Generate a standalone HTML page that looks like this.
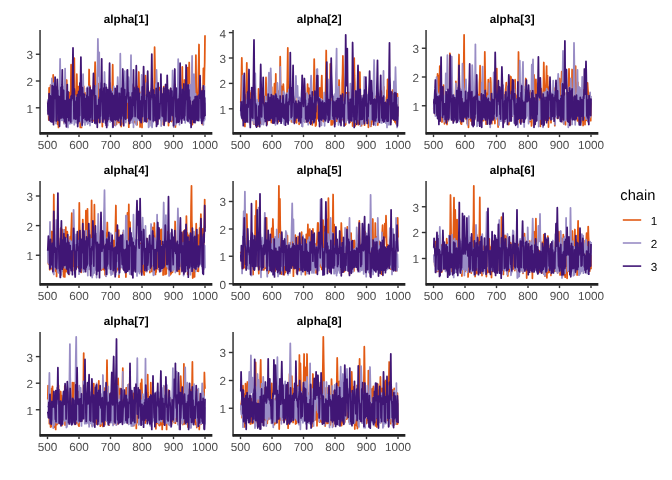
<!DOCTYPE html>
<html><head><meta charset="utf-8"><title>trace</title>
<style>
html,body{margin:0;padding:0;background:#fff;}
body{width:672px;height:480px;overflow:hidden;font-family:"Liberation Sans",sans-serif;}
svg{display:block;will-change:transform;font-family:"Liberation Sans",sans-serif;text-rendering:geometricPrecision;}
.a{font-size:11.73px;fill:#4D4D4D;}
.s{font-size:11.73px;font-weight:bold;fill:#000;}
.lt{font-size:14.67px;fill:#000;}
.ll{font-size:11.73px;fill:#000;}
</style></head><body>
<svg width="672" height="480" viewBox="0 0 672 480">
<rect width="672" height="480" fill="#fff"/>
<polyline points="47.8,101.2 48.1,111.6 48.4,102.9 48.8,119.9 49.1,87.9 49.4,117.5 49.7,90.2 50.0,98.3 50.3,93.0 50.6,85.1 51.0,93.1 51.3,100.6 51.6,94.4 51.9,118.3 52.2,95.2 52.5,93.0 52.9,86.9 53.2,74.9 53.5,89.7 53.8,100.6 54.1,83.3 54.4,113.2 54.7,98.7 55.1,120.6 55.4,87.1 55.7,116.6 56.0,92.9 56.3,119.8 56.6,98.8 57.0,122.9 57.3,94.5 57.6,124.3 57.9,100.5 58.2,117.7 58.5,127.4 58.8,116.3 59.2,103.3 59.5,118.8 59.8,118.6 60.1,101.2 60.4,87.7 60.7,99.6 61.0,96.8 61.4,116.0 61.7,93.7 62.0,120.0 62.3,103.0 62.6,94.5 62.9,95.3 63.2,118.3 63.6,95.2 63.9,122.7 64.2,95.8 64.5,95.8 64.8,95.5 65.1,122.2 65.5,92.4 65.8,106.6 66.1,99.8 66.4,97.7 66.7,80.0 67.0,97.2 67.3,97.5 67.7,103.3 68.0,97.9 68.3,121.7 68.6,100.1 68.9,98.7 69.2,92.5 69.5,116.7 69.9,99.3 70.2,105.7 70.5,96.3 70.8,87.6 71.1,64.7 71.4,84.3 71.8,93.6 72.1,102.5 72.4,95.6 72.7,117.0 73.0,90.7 73.3,99.7 73.6,99.7 74.0,84.8 74.3,58.1 74.6,88.0 74.9,95.2 75.2,118.1 75.5,91.2 75.8,103.0 76.2,99.6 76.5,94.8 76.8,74.2 77.1,87.7 77.4,97.9 77.7,96.7 78.1,87.1 78.4,103.1 78.7,99.4 79.0,86.5 79.3,93.3 79.6,97.7 79.9,103.5 80.3,127.4 80.6,99.5 80.9,121.0 81.2,92.0 81.5,127.4 81.8,85.8 82.2,116.4 82.5,84.5 82.8,116.8 83.1,93.7 83.4,116.9 83.7,86.3 84.0,116.1 84.4,100.5 84.7,115.4 85.0,93.2 85.3,117.4 85.6,94.8 85.9,118.1 86.2,93.0 86.6,115.7 86.9,100.0 87.2,119.9 87.5,99.9 87.8,117.2 88.1,104.7 88.5,98.5 88.8,91.7 89.1,69.5 89.4,85.0 89.7,98.1 90.0,85.8 90.3,120.1 90.7,115.3 91.0,115.5 91.3,99.5 91.6,120.2 91.9,94.7 92.2,119.9 92.5,102.8 92.9,120.9 93.2,101.7 93.5,119.7 93.8,85.8 94.1,119.3 94.4,88.8 94.8,76.2 95.1,62.2 95.4,75.1 95.7,87.8 96.0,100.8 96.3,95.7 96.6,120.1 97.0,95.9 97.3,113.0 97.6,87.5 97.9,115.8 98.2,83.5 98.5,117.3 98.8,99.8 99.2,122.1 99.5,91.5 99.8,118.4 100.1,103.2 100.4,116.1 100.7,103.1 101.0,116.2 101.4,89.8 101.7,113.2 102.0,100.5 102.3,126.6 102.6,96.6 102.9,115.5 103.3,92.9 103.6,120.3 103.9,98.7 104.2,115.1 104.5,89.0 104.8,115.5 105.1,89.4 105.5,118.9 105.8,102.4 106.1,118.8 106.4,103.1 106.7,116.7 107.0,92.4 107.3,118.3 107.7,99.3 108.0,117.2 108.3,98.0 108.6,119.5 108.9,94.8 109.2,118.1 109.6,101.3 109.9,117.1 110.2,101.8 110.5,116.6 110.8,100.3 111.1,119.0 111.4,92.9 111.8,102.3 112.1,91.7 112.4,82.0 112.7,64.7 113.0,88.0 113.3,95.7 113.7,122.0 114.0,93.6 114.3,125.0 114.6,101.8 114.9,117.5 115.2,92.6 115.5,118.9 115.9,101.2 116.2,114.9 116.5,124.3 116.8,121.4 117.1,90.3 117.4,116.8 117.7,95.3 118.1,118.8 118.4,99.5 118.7,122.5 119.0,94.0 119.3,119.9 119.6,90.8 120.0,122.5 120.3,98.5 120.6,118.0 120.9,97.9 121.2,126.5 121.5,96.2 121.8,124.1 122.2,107.3 122.5,121.7 122.8,101.8 123.1,117.1 123.4,117.4 123.7,116.7 124.0,90.0 124.4,84.2 124.7,97.7 125.0,116.0 125.3,94.1 125.6,117.8 125.9,102.0 126.2,116.0 126.6,91.9 126.9,118.1 127.2,100.3 127.5,100.7 127.8,117.5 128.1,116.5 128.5,89.9 128.8,127.2 129.1,85.7 129.4,118.9 129.7,101.3 130.0,117.2 130.3,90.9 130.7,115.6 131.0,119.4 131.3,118.1 131.6,94.2 131.9,119.7 132.2,99.7 132.6,97.5 132.9,85.8 133.2,96.0 133.5,97.5 133.8,121.6 134.1,87.3 134.4,115.9 134.8,103.7 135.1,122.8 135.4,97.8 135.7,118.3 136.0,94.8 136.3,120.5 136.6,101.8 137.0,124.8 137.3,86.7 137.6,118.1 137.9,99.3 138.2,92.8 138.5,86.8 138.8,72.0 139.2,90.7 139.5,99.8 139.8,98.3 140.1,127.0 140.4,92.4 140.7,121.0 141.1,101.4 141.4,122.0 141.7,95.5 142.0,127.4 142.3,89.8 142.6,119.5 142.9,100.1 143.3,117.2 143.6,94.0 143.9,120.3 144.2,94.2 144.5,120.5 144.8,94.6 145.2,84.0 145.5,75.6 145.8,83.7 146.1,89.1 146.4,105.1 146.7,89.6 147.0,120.2 147.4,98.0 147.7,121.1 148.0,101.9 148.3,121.6 148.6,97.9 148.9,115.9 149.2,93.6 149.6,120.0 149.9,102.3 150.2,117.4 150.5,90.8 150.8,116.4 151.1,102.5 151.4,123.4 151.8,95.2 152.1,115.9 152.4,92.3 152.7,113.5 153.0,115.2 153.3,116.7 153.7,101.8 154.0,99.0 154.3,84.5 154.6,47.2 154.9,64.2 155.2,84.7 155.5,86.9 155.9,117.0 156.2,98.6 156.5,122.4 156.8,98.1 157.1,122.0 157.4,97.0 157.8,121.2 158.1,102.3 158.4,115.6 158.7,96.5 159.0,116.7 159.3,87.6 159.6,118.3 160.0,96.5 160.3,116.8 160.6,102.1 160.9,120.4 161.2,88.1 161.5,116.5 161.8,103.1 162.2,115.7 162.5,100.6 162.8,118.4 163.1,101.3 163.4,124.5 163.7,86.7 164.1,94.6 164.4,103.5 164.7,116.9 165.0,92.0 165.3,115.7 165.6,86.2 165.9,115.6 166.3,99.5 166.6,118.5 166.9,86.9 167.2,121.2 167.5,90.9 167.8,119.3 168.1,99.9 168.5,125.6 168.8,95.4 169.1,111.9 169.4,102.7 169.7,117.8 170.0,117.1 170.3,117.9 170.7,88.5 171.0,118.7 171.3,99.1 171.6,121.5 171.9,92.9 172.2,120.1 172.6,88.3 172.9,118.3 173.2,101.1 173.5,119.0 173.8,103.5 174.1,124.5 174.4,97.3 174.8,95.4 175.1,84.3 175.4,127.0 175.7,99.9 176.0,121.5 176.3,99.1 176.7,102.4 177.0,102.7 177.3,121.6 177.6,102.1 177.9,118.2 178.2,97.7 178.5,115.6 178.9,86.1 179.2,117.0 179.5,117.0 179.8,97.7 180.1,95.9 180.4,118.2 180.7,94.8 181.1,100.7 181.4,95.2 181.7,96.2 182.0,91.3 182.3,66.9 182.6,91.5 182.9,97.1 183.3,96.7 183.6,105.9 183.9,98.8 184.2,94.7 184.5,80.0 184.8,94.9 185.2,98.4 185.5,119.5 185.8,103.4 186.1,117.8 186.4,102.1 186.7,101.2 187.0,95.5 187.4,84.7 187.7,67.6 188.0,78.9 188.3,89.7 188.6,96.0 188.9,76.2 189.2,62.5 189.6,86.6 189.9,94.4 190.2,94.0 190.5,119.3 190.8,98.8 191.1,119.2 191.5,98.8 191.8,118.5 192.1,95.3 192.4,124.6 192.7,91.0 193.0,117.0 193.3,121.4 193.7,117.3 194.0,96.7 194.3,119.2 194.6,101.5 194.9,100.4 195.2,90.4 195.6,84.9 195.9,55.2 196.2,86.8 196.5,93.9 196.8,103.9 197.1,103.6 197.4,116.2 197.8,102.5 198.1,101.8 198.4,75.4 198.7,61.7 199.0,44.5 199.3,82.0 199.6,94.9 200.0,115.8 200.3,87.5 200.6,99.4 200.9,90.3 201.2,117.1 201.5,97.4 201.8,116.6 202.2,91.6 202.5,124.4 202.8,87.6 203.1,88.7 203.4,68.3 203.7,90.7 204.1,98.3 204.4,73.1 204.7,62.5 205.0,35.2" fill="none" stroke="#E25A14" stroke-width="1.75" stroke-linejoin="round"/>
<polyline points="47.8,111.0 48.1,99.6 48.4,114.8 48.8,101.5 49.1,102.4 49.4,102.6 49.7,117.3 50.0,111.9 50.3,119.2 50.6,99.7 51.0,92.7 51.3,84.4 51.6,92.9 51.9,78.5 52.2,95.5 52.5,100.9 52.9,106.8 53.2,102.2 53.5,119.2 53.8,83.1 54.1,120.5 54.4,100.2 54.7,118.6 55.1,90.0 55.4,116.8 55.7,93.6 56.0,123.6 56.3,96.5 56.6,116.0 57.0,107.8 57.3,115.9 57.6,103.3 57.9,101.2 58.2,90.7 58.5,118.9 58.8,118.1 59.2,101.1 59.5,91.7 59.8,77.1 60.1,58.8 60.4,77.5 60.7,93.0 61.0,116.7 61.4,101.2 61.7,120.3 62.0,108.9 62.3,120.3 62.6,86.4 62.9,118.7 63.2,92.1 63.6,120.6 63.9,103.6 64.2,123.7 64.5,91.0 64.8,90.9 65.1,68.6 65.5,89.4 65.8,96.0 66.1,104.5 66.4,99.3 66.7,117.2 67.0,90.9 67.3,103.3 67.7,99.4 68.0,127.4 68.3,100.8 68.6,119.7 68.9,101.4 69.2,122.2 69.5,109.4 69.9,123.8 70.2,106.4 70.5,123.1 70.8,98.4 71.1,122.6 71.4,102.1 71.8,123.3 72.1,99.3 72.4,121.0 72.7,94.2 73.0,115.6 73.3,91.6 73.6,97.4 74.0,99.5 74.3,124.7 74.6,96.6 74.9,121.8 75.2,96.1 75.5,117.4 75.8,103.5 76.2,122.8 76.5,100.3 76.8,119.3 77.1,101.9 77.4,118.6 77.7,100.9 78.1,123.1 78.4,117.6 78.7,121.6 79.0,102.4 79.3,117.8 79.6,97.4 79.9,120.3 80.3,101.8 80.6,118.9 80.9,87.4 81.2,122.4 81.5,100.7 81.8,126.0 82.2,116.2 82.5,98.4 82.8,87.6 83.1,74.2 83.4,87.9 83.7,97.7 84.0,122.5 84.4,119.0 84.7,99.2 85.0,124.9 85.3,96.7 85.6,121.9 85.9,98.7 86.2,116.6 86.6,88.5 86.9,121.6 87.2,87.4 87.5,124.1 87.8,91.8 88.1,91.2 88.5,86.4 88.8,122.9 89.1,96.0 89.4,121.5 89.7,92.8 90.0,125.5 90.3,98.6 90.7,120.1 91.0,98.1 91.3,117.9 91.6,91.5 91.9,116.0 92.2,108.0 92.5,119.3 92.9,100.5 93.2,118.3 93.5,101.9 93.8,118.8 94.1,96.6 94.4,118.8 94.8,95.5 95.1,102.2 95.4,88.1 95.7,123.8 96.0,100.3 96.3,85.6 96.6,102.9 97.0,121.2 97.3,78.9 97.6,63.8 97.9,38.9 98.2,58.4 98.5,71.7 98.8,76.0 99.2,52.3 99.5,84.5 99.8,97.9 100.1,121.6 100.4,83.3 100.7,119.8 101.0,87.1 101.4,116.4 101.7,98.7 102.0,117.1 102.3,95.7 102.6,121.9 102.9,96.4 103.3,119.0 103.6,100.5 103.9,92.5 104.2,86.2 104.5,72.0 104.8,82.0 105.1,95.6 105.5,90.9 105.8,115.6 106.1,84.6 106.4,118.4 106.7,88.6 107.0,100.9 107.3,90.7 107.7,125.5 108.0,101.1 108.3,118.6 108.6,99.3 108.9,116.5 109.2,94.7 109.6,118.1 109.9,82.9 110.2,122.0 110.5,100.6 110.8,118.0 111.1,89.1 111.4,116.6 111.8,118.9 112.1,114.5 112.4,99.2 112.7,127.4 113.0,91.6 113.3,122.7 113.7,86.3 114.0,116.9 114.3,98.6 114.6,116.2 114.9,98.3 115.2,118.6 115.5,125.6 115.9,115.8 116.2,97.7 116.5,116.9 116.8,103.7 117.1,92.3 117.4,87.2 117.7,77.1 118.1,85.9 118.4,97.9 118.7,94.8 119.0,120.8 119.3,101.8 119.6,98.2 120.0,83.5 120.3,53.7 120.6,77.8 120.9,91.7 121.2,96.1 121.5,115.5 121.8,98.8 122.2,110.1 122.5,92.7 122.8,122.0 123.1,102.3 123.4,118.8 123.7,101.8 124.0,98.6 124.4,81.4 124.7,71.2 125.0,93.2 125.3,96.4 125.6,119.9 125.9,122.7 126.2,94.2 126.6,84.9 126.9,70.5 127.2,86.0 127.5,93.9 127.8,102.0 128.1,95.3 128.5,77.1 128.8,86.7 129.1,97.2 129.4,97.8 129.7,121.6 130.0,96.4 130.3,82.6 130.7,75.2 131.0,55.2 131.3,85.8 131.6,90.4 131.9,97.7 132.2,122.7 132.6,98.6 132.9,120.7 133.2,84.2 133.5,127.3 133.8,102.9 134.1,117.1 134.4,95.9 134.8,119.9 135.1,102.3 135.4,92.7 135.7,97.3 136.0,123.9 136.3,124.7 136.6,121.3 137.0,119.8 137.3,120.2 137.6,88.4 137.9,119.3 138.2,90.3 138.5,115.9 138.8,93.9 139.2,116.3 139.5,99.6 139.8,117.2 140.1,104.3 140.4,117.6 140.7,94.1 141.1,99.5 141.4,85.9 141.7,74.9 142.0,93.8 142.3,99.6 142.6,97.7 142.9,116.0 143.3,91.3 143.6,121.9 143.9,102.3 144.2,116.8 144.5,120.8 144.8,96.6 145.2,97.8 145.5,117.5 145.8,101.6 146.1,117.1 146.4,83.1 146.7,115.5 147.0,99.2 147.4,117.2 147.7,91.3 148.0,116.5 148.3,95.4 148.6,127.3 148.9,126.7 149.2,120.1 149.6,98.1 149.9,115.6 150.2,101.7 150.5,119.2 150.8,94.3 151.1,125.8 151.4,88.6 151.8,116.4 152.1,127.4 152.4,123.4 152.7,92.4 153.0,122.3 153.3,93.9 153.7,116.9 154.0,120.4 154.3,116.7 154.6,102.9 154.9,117.8 155.2,97.4 155.5,101.8 155.9,84.0 156.2,93.6 156.5,69.8 156.8,79.8 157.1,87.8 157.4,124.6 157.8,104.2 158.1,93.1 158.4,90.7 158.7,116.8 159.0,91.4 159.3,118.1 159.6,104.6 160.0,116.1 160.3,101.6 160.6,120.0 160.9,93.5 161.2,126.0 161.5,102.3 161.8,121.6 162.2,112.5 162.5,117.5 162.8,96.4 163.1,118.9 163.4,101.6 163.7,117.5 164.1,103.2 164.4,123.4 164.7,90.7 165.0,121.4 165.3,86.7 165.6,117.3 165.9,100.6 166.3,118.7 166.6,96.4 166.9,116.9 167.2,119.9 167.5,121.3 167.8,97.1 168.1,119.1 168.5,94.6 168.8,119.4 169.1,103.8 169.4,117.2 169.7,92.6 170.0,115.6 170.3,102.1 170.7,117.2 171.0,99.6 171.3,119.8 171.6,102.2 171.9,96.5 172.2,91.7 172.6,70.5 172.9,83.1 173.2,93.7 173.5,94.5 173.8,127.1 174.1,121.7 174.4,119.4 174.8,101.4 175.1,121.0 175.4,107.5 175.7,124.7 176.0,102.9 176.3,120.9 176.7,93.3 177.0,121.0 177.3,101.1 177.6,96.2 177.9,85.9 178.2,59.1 178.5,85.6 178.9,99.0 179.2,88.0 179.5,124.7 179.8,95.6 180.1,120.0 180.4,103.6 180.7,116.5 181.1,86.7 181.4,117.9 181.7,102.7 182.0,116.2 182.3,109.4 182.6,117.2 182.9,102.4 183.3,89.9 183.6,96.9 183.9,117.7 184.2,92.3 184.5,118.9 184.8,95.7 185.2,122.8 185.5,95.4 185.8,119.8 186.1,93.2 186.4,118.7 186.7,98.1 187.0,120.4 187.4,91.2 187.7,92.7 188.0,101.5 188.3,121.7 188.6,96.9 188.9,120.4 189.2,102.3 189.6,120.7 189.9,84.6 190.2,123.0 190.5,101.2 190.8,120.7 191.1,98.4 191.5,90.0 191.8,73.7 192.1,55.9 192.4,85.6 192.7,94.8 193.0,103.2 193.3,96.9 193.7,91.0 194.0,74.2 194.3,83.3 194.6,90.7 194.9,96.9 195.2,122.8 195.6,93.9 195.9,102.7 196.2,96.9 196.5,118.7 196.8,103.6 197.1,120.7 197.4,102.7 197.8,100.7 198.1,101.9 198.4,120.6 198.7,95.5 199.0,119.3 199.3,97.5 199.6,119.7 200.0,120.8 200.3,119.1 200.6,100.9 200.9,118.1 201.2,99.3 201.5,120.1 201.8,93.6 202.2,121.4 202.5,97.6 202.8,119.6 203.1,109.2 203.4,124.8 203.7,85.6 204.1,120.7 204.4,86.4 204.7,119.7 205.0,102.7" fill="none" stroke="#998DC5" stroke-width="1.75" stroke-linejoin="round"/>
<polyline points="47.8,102.4 48.1,113.9 48.4,100.9 48.8,110.1 49.1,93.6 49.4,120.0 49.7,99.3 50.0,118.1 50.3,95.8 50.6,121.4 51.0,103.0 51.3,117.0 51.6,97.2 51.9,121.9 52.2,85.6 52.5,117.3 52.9,103.1 53.2,86.3 53.5,124.6 53.8,116.4 54.1,87.7 54.4,98.9 54.7,96.1 55.1,77.1 55.4,89.8 55.7,96.8 56.0,96.9 56.3,120.9 56.6,87.0 57.0,96.4 57.3,79.3 57.6,88.0 57.9,98.9 58.2,120.3 58.5,99.0 58.8,96.4 59.2,96.5 59.5,126.3 59.8,116.7 60.1,117.9 60.4,102.8 60.7,117.9 61.0,87.3 61.4,117.8 61.7,90.5 62.0,84.9 62.3,69.8 62.6,91.2 62.9,99.4 63.2,117.8 63.6,90.3 63.9,117.5 64.2,115.7 64.5,121.7 64.8,102.7 65.1,100.6 65.5,102.9 65.8,122.9 66.1,115.7 66.4,126.8 66.7,103.2 67.0,93.9 67.3,84.6 67.7,117.0 68.0,91.5 68.3,117.1 68.6,102.6 68.9,120.7 69.2,106.5 69.5,112.1 69.9,99.3 70.2,117.5 70.5,99.6 70.8,122.0 71.1,96.1 71.4,100.8 71.8,95.5 72.1,98.6 72.4,89.3 72.7,68.7 73.0,47.9 73.3,72.9 73.6,86.3 74.0,118.7 74.3,88.8 74.6,118.3 74.9,115.3 75.2,117.3 75.5,118.2 75.8,119.2 76.2,101.2 76.5,117.6 76.8,97.6 77.1,117.2 77.4,94.6 77.7,126.5 78.1,116.3 78.4,118.6 78.7,91.5 79.0,121.4 79.3,97.4 79.6,115.5 79.9,82.9 80.3,95.3 80.6,77.6 80.9,57.1 81.2,83.6 81.5,93.7 81.8,98.7 82.2,125.0 82.5,87.7 82.8,97.6 83.1,102.6 83.4,118.1 83.7,94.2 84.0,116.8 84.4,94.3 84.7,117.2 85.0,102.7 85.3,119.5 85.6,103.4 85.9,98.7 86.2,102.1 86.6,120.7 86.9,95.1 87.2,115.6 87.5,88.2 87.8,119.8 88.1,96.5 88.5,117.5 88.8,102.1 89.1,119.7 89.4,99.1 89.7,121.2 90.0,87.3 90.3,117.5 90.7,92.6 91.0,95.2 91.3,90.2 91.6,101.7 91.9,94.6 92.2,122.2 92.5,97.2 92.9,92.0 93.2,84.8 93.5,73.4 93.8,82.4 94.1,92.2 94.4,85.6 94.8,123.0 95.1,102.9 95.4,117.1 95.7,95.9 96.0,107.3 96.3,122.9 96.6,122.9 97.0,115.9 97.3,127.3 97.6,105.6 97.9,117.9 98.2,107.6 98.5,115.4 98.8,99.3 99.2,118.0 99.5,97.5 99.8,122.6 100.1,89.3 100.4,116.1 100.7,101.0 101.0,94.9 101.4,77.8 101.7,58.8 102.0,88.6 102.3,97.6 102.6,105.0 102.9,122.1 103.3,99.9 103.6,111.4 103.9,88.0 104.2,118.7 104.5,83.7 104.8,116.8 105.1,98.0 105.5,123.0 105.8,98.9 106.1,125.2 106.4,87.3 106.7,127.4 107.0,90.4 107.3,121.4 107.7,89.8 108.0,119.4 108.3,99.8 108.6,116.5 108.9,98.5 109.2,84.8 109.6,63.2 109.9,86.9 110.2,99.6 110.5,119.3 110.8,91.1 111.1,120.2 111.4,95.5 111.8,121.0 112.1,93.4 112.4,119.0 112.7,96.4 113.0,127.1 113.3,95.8 113.7,119.4 114.0,95.4 114.3,95.6 114.6,117.6 114.9,119.0 115.2,88.3 115.5,119.9 115.9,91.2 116.2,93.0 116.5,98.0 116.8,119.1 117.1,85.8 117.4,116.4 117.7,92.9 118.1,120.8 118.4,102.6 118.7,114.7 119.0,98.3 119.3,116.7 119.6,93.4 120.0,118.2 120.3,97.0 120.6,125.0 120.9,100.0 121.2,118.7 121.5,88.3 121.8,116.1 122.2,95.8 122.5,89.6 122.8,69.0 123.1,79.6 123.4,85.5 123.7,125.7 124.0,103.1 124.4,116.6 124.7,89.7 125.0,116.1 125.3,96.6 125.6,119.1 125.9,118.8 126.2,100.1 126.6,98.3 126.9,94.8 127.2,91.5 127.5,69.8 127.8,86.3 128.1,94.3 128.5,92.5 128.8,121.0 129.1,99.0 129.4,123.5 129.7,123.1 130.0,117.4 130.3,97.1 130.7,119.8 131.0,100.1 131.3,118.2 131.6,103.0 131.9,117.7 132.2,93.0 132.6,116.2 132.9,98.8 133.2,91.1 133.5,69.8 133.8,89.6 134.1,87.8 134.4,105.4 134.8,102.9 135.1,116.5 135.4,101.2 135.7,98.9 136.0,84.8 136.3,65.7 136.6,82.6 137.0,93.7 137.3,99.6 137.6,117.0 137.9,88.4 138.2,118.1 138.5,88.9 138.8,97.3 139.2,93.0 139.5,120.3 139.8,109.3 140.1,117.5 140.4,101.1 140.7,116.5 141.1,122.7 141.4,119.1 141.7,96.6 142.0,116.2 142.3,87.0 142.6,116.5 142.9,97.3 143.3,82.2 143.6,66.6 143.9,78.7 144.2,86.0 144.5,100.5 144.8,121.0 145.2,118.9 145.5,100.9 145.8,121.4 146.1,100.7 146.4,121.8 146.7,94.8 147.0,94.9 147.4,82.5 147.7,71.2 148.0,84.2 148.3,94.4 148.6,98.7 148.9,118.6 149.2,92.3 149.6,116.2 149.9,103.2 150.2,119.7 150.5,100.3 150.8,99.8 151.1,93.8 151.4,81.1 151.8,54.2 152.1,78.0 152.4,86.6 152.7,98.1 153.0,97.6 153.3,120.9 153.7,90.0 154.0,115.3 154.3,94.6 154.6,113.9 154.9,99.5 155.2,120.5 155.5,102.0 155.9,120.0 156.2,88.3 156.5,126.4 156.8,122.7 157.1,123.6 157.4,98.7 157.8,124.1 158.1,82.9 158.4,118.5 158.7,116.8 159.0,118.7 159.3,103.8 159.6,117.8 160.0,104.9 160.3,102.8 160.6,94.0 160.9,74.2 161.2,91.1 161.5,100.5 161.8,98.1 162.2,115.9 162.5,94.1 162.8,115.6 163.1,102.4 163.4,116.8 163.7,88.0 164.1,125.3 164.4,102.7 164.7,121.2 165.0,101.8 165.3,120.7 165.6,84.5 165.9,120.6 166.3,101.6 166.6,101.2 166.9,95.7 167.2,75.3 167.5,87.9 167.8,99.1 168.1,101.5 168.5,120.8 168.8,90.2 169.1,122.3 169.4,106.7 169.7,120.7 170.0,121.2 170.3,120.6 170.7,88.4 171.0,96.0 171.3,103.3 171.6,113.7 171.9,91.1 172.2,115.4 172.6,97.4 172.9,111.7 173.2,101.6 173.5,125.7 173.8,98.9 174.1,90.5 174.4,83.5 174.8,69.0 175.1,88.6 175.4,93.0 175.7,102.7 176.0,116.8 176.3,88.2 176.7,122.7 177.0,102.3 177.3,115.8 177.6,101.7 177.9,118.2 178.2,99.2 178.5,122.2 178.9,102.5 179.2,121.4 179.5,96.8 179.8,92.0 180.1,63.2 180.4,80.7 180.7,87.7 181.1,119.1 181.4,102.7 181.7,123.1 182.0,99.7 182.3,118.6 182.6,89.5 182.9,117.2 183.3,98.1 183.6,115.6 183.9,83.9 184.2,120.0 184.5,100.2 184.8,115.8 185.2,100.1 185.5,99.7 185.8,89.0 186.1,65.0 186.4,77.8 186.7,92.8 187.0,89.7 187.4,119.8 187.7,95.4 188.0,121.1 188.3,85.0 188.6,117.4 188.9,89.8 189.2,115.8 189.6,97.1 189.9,118.9 190.2,100.8 190.5,123.1 190.8,105.1 191.1,127.4 191.5,118.3 191.8,115.7 192.1,119.3 192.4,117.7 192.7,101.5 193.0,115.8 193.3,102.0 193.7,122.4 194.0,100.1 194.3,119.9 194.6,121.2 194.9,122.4 195.2,96.7 195.6,120.1 195.9,99.9 196.2,118.6 196.5,96.6 196.8,115.7 197.1,96.1 197.4,120.1 197.8,100.1 198.1,117.2 198.4,120.5 198.7,117.1 199.0,94.9 199.3,98.5 199.6,94.3 200.0,75.6 200.3,88.2 200.6,96.4 200.9,97.9 201.2,117.9 201.5,93.1 201.8,123.2 202.2,91.0 202.5,116.4 202.8,120.8 203.1,118.3 203.4,85.9 203.7,118.4 204.1,90.6 204.4,116.1 204.7,97.9 205.0,116.0" fill="none" stroke="#401675" stroke-width="1.75" stroke-linejoin="round"/>
<line x1="40.05" y1="30.0" x2="40.05" y2="134.6" stroke="#333333" stroke-width="1.5"/>
<line x1="39.75" y1="133.4" x2="212.35000000000002" y2="133.4" stroke="#222" stroke-width="2.65"/>
<line x1="35.849999999999994" y1="54.25" x2="40.05" y2="54.25" stroke="#333333" stroke-width="1.4"/>
<text x="32.949999999999996" y="59.2" text-anchor="end" class="a">3</text>
<line x1="35.849999999999994" y1="81.0" x2="40.05" y2="81.0" stroke="#333333" stroke-width="1.4"/>
<text x="32.949999999999996" y="85.95" text-anchor="end" class="a">2</text>
<line x1="35.849999999999994" y1="107.8" x2="40.05" y2="107.8" stroke="#333333" stroke-width="1.4"/>
<text x="32.949999999999996" y="112.75" text-anchor="end" class="a">1</text>
<line x1="47.50" y1="134.4" x2="47.50" y2="137.1" stroke="#333333" stroke-width="1.4"/>
<text x="47.50" y="149.20000000000002" text-anchor="middle" class="a">500</text>
<line x1="79.00" y1="134.4" x2="79.00" y2="137.1" stroke="#333333" stroke-width="1.4"/>
<text x="79.00" y="149.20000000000002" text-anchor="middle" class="a">600</text>
<line x1="110.50" y1="134.4" x2="110.50" y2="137.1" stroke="#333333" stroke-width="1.4"/>
<text x="110.50" y="149.20000000000002" text-anchor="middle" class="a">700</text>
<line x1="142.00" y1="134.4" x2="142.00" y2="137.1" stroke="#333333" stroke-width="1.4"/>
<text x="142.00" y="149.20000000000002" text-anchor="middle" class="a">800</text>
<line x1="173.50" y1="134.4" x2="173.50" y2="137.1" stroke="#333333" stroke-width="1.4"/>
<text x="173.50" y="149.20000000000002" text-anchor="middle" class="a">900</text>
<line x1="205.00" y1="134.4" x2="205.00" y2="137.1" stroke="#333333" stroke-width="1.4"/>
<text x="205.00" y="149.20000000000002" text-anchor="middle" class="a">1000</text>
<text x="126.20" y="23.0" text-anchor="middle" class="s">alpha[1]</text>
<polyline points="240.8,102.6 241.1,93.2 241.4,80.8 241.8,57.8 242.1,73.0 242.4,89.5 242.7,96.0 243.0,120.6 243.3,90.0 243.7,105.8 244.0,97.9 244.3,118.0 244.6,103.2 244.9,126.4 245.2,95.2 245.5,102.0 245.9,104.1 246.2,88.3 246.5,80.6 246.8,62.8 247.1,92.0 247.4,95.6 247.7,104.1 248.1,121.6 248.4,96.8 248.7,117.0 249.0,100.5 249.3,103.2 249.6,90.5 249.9,107.7 250.3,104.9 250.6,102.9 250.9,93.1 251.2,98.5 251.5,104.4 251.8,106.6 252.2,102.6 252.5,116.4 252.8,99.8 253.1,120.3 253.4,119.8 253.7,124.2 254.0,102.9 254.4,121.9 254.7,107.0 255.0,124.2 255.3,105.9 255.6,117.9 255.9,122.5 256.2,118.9 256.6,101.6 256.9,115.3 257.2,103.3 257.5,117.3 257.8,126.1 258.1,118.3 258.5,88.9 258.8,125.6 259.1,94.6 259.4,122.8 259.7,100.4 260.0,109.1 260.3,107.3 260.7,123.1 261.0,95.0 261.3,117.3 261.6,100.6 261.9,118.3 262.2,105.1 262.6,119.2 262.9,103.1 263.2,116.0 263.5,103.4 263.8,99.2 264.1,104.5 264.4,116.2 264.8,96.5 265.1,112.6 265.4,100.1 265.7,92.7 266.0,77.4 266.3,94.5 266.6,99.9 267.0,124.2 267.3,116.5 267.6,118.6 267.9,106.9 268.2,117.6 268.5,106.8 268.9,120.4 269.2,100.5 269.5,119.7 269.8,107.3 270.1,118.5 270.4,104.4 270.7,120.4 271.1,106.4 271.4,122.5 271.7,87.0 272.0,118.6 272.3,101.8 272.6,117.3 272.9,104.2 273.3,122.8 273.6,101.6 273.9,98.2 274.2,93.6 274.5,83.6 274.8,91.6 275.1,98.1 275.5,94.4 275.8,73.9 276.1,96.3 276.4,102.8 276.7,103.5 277.0,120.8 277.4,108.4 277.7,118.2 278.0,107.0 278.3,121.8 278.6,91.2 278.9,120.5 279.2,100.3 279.6,92.4 279.9,83.1 280.2,56.7 280.5,79.2 280.8,95.1 281.1,104.3 281.4,120.4 281.8,86.4 282.1,118.3 282.4,103.1 282.7,100.4 283.0,96.8 283.3,84.1 283.7,90.6 284.0,97.7 284.3,103.1 284.6,118.7 284.9,121.2 285.2,116.9 285.5,101.9 285.9,121.1 286.2,105.1 286.5,120.6 286.8,100.5 287.1,90.7 287.4,76.5 287.8,47.9 288.1,81.9 288.4,90.2 288.7,106.0 289.0,106.6 289.3,117.6 289.6,116.1 290.0,104.6 290.3,107.0 290.6,104.8 290.9,116.8 291.2,97.3 291.5,121.8 291.8,106.4 292.2,119.5 292.5,104.9 292.8,116.7 293.1,103.3 293.4,121.9 293.7,103.7 294.1,122.0 294.4,99.9 294.7,114.7 295.0,101.5 295.3,121.8 295.6,97.7 295.9,120.6 296.3,107.1 296.6,122.8 296.9,104.4 297.2,116.9 297.5,105.8 297.8,117.3 298.1,107.1 298.5,116.8 298.8,99.7 299.1,124.3 299.4,107.5 299.7,121.6 300.0,106.2 300.4,118.3 300.7,103.2 301.0,102.0 301.3,105.2 301.6,114.0 301.9,106.9 302.2,118.2 302.6,102.5 302.9,112.8 303.2,91.5 303.5,119.6 303.8,103.5 304.1,120.6 304.4,106.3 304.8,118.0 305.1,95.5 305.4,119.6 305.7,93.9 306.0,121.7 306.3,105.4 306.6,115.9 307.0,93.8 307.3,94.6 307.6,84.1 307.9,98.0 308.2,101.6 308.5,104.9 308.9,88.2 309.2,119.4 309.5,97.8 309.8,122.8 310.1,99.4 310.4,118.7 310.7,88.0 311.1,121.0 311.4,103.2 311.7,121.4 312.0,99.4 312.3,124.9 312.6,99.5 312.9,116.9 313.3,121.7 313.6,88.9 313.9,78.7 314.2,59.1 314.5,76.4 314.8,86.2 315.2,95.9 315.5,126.0 315.8,117.0 316.1,125.0 316.4,102.1 316.7,119.3 317.0,95.5 317.4,118.1 317.7,88.7 318.0,118.0 318.3,104.7 318.6,106.1 318.9,98.1 319.2,95.2 319.6,88.0 319.9,94.1 320.2,88.0 320.5,94.1 320.8,97.6 321.1,96.9 321.5,84.1 321.8,75.6 322.1,90.4 322.4,96.8 322.7,106.1 323.0,121.0 323.3,105.3 323.7,121.6 324.0,107.8 324.3,115.9 324.6,102.8 324.9,120.9 325.2,95.7 325.6,93.1 325.9,74.1 326.2,50.5 326.5,75.6 326.8,91.3 327.1,98.4 327.4,117.8 327.8,104.5 328.1,116.2 328.4,117.5 328.7,113.0 329.0,98.8 329.3,119.3 329.6,101.8 330.0,92.4 330.3,63.9 330.6,78.8 330.9,96.1 331.2,124.9 331.5,102.4 331.9,120.6 332.2,104.2 332.5,124.6 332.8,99.7 333.1,117.4 333.4,104.9 333.7,120.5 334.1,118.0 334.4,123.1 334.7,101.4 335.0,120.7 335.3,100.0 335.6,118.4 335.9,104.9 336.3,121.2 336.6,104.1 336.9,121.1 337.2,99.0 337.5,117.2 337.8,102.9 338.1,105.8 338.5,100.6 338.8,90.1 339.1,80.0 339.4,90.3 339.7,96.1 340.0,120.4 340.4,96.8 340.7,120.0 341.0,101.3 341.3,118.9 341.6,107.1 341.9,119.6 342.2,83.1 342.6,73.0 342.9,55.9 343.2,73.4 343.5,89.4 343.8,119.7 344.1,103.1 344.4,117.8 344.8,119.6 345.1,125.2 345.4,102.1 345.7,124.3 346.0,93.2 346.3,121.0 346.7,92.9 347.0,119.3 347.3,98.6 347.6,119.4 347.9,105.9 348.2,112.0 348.5,101.1 348.9,119.9 349.2,92.5 349.5,119.0 349.8,103.9 350.1,122.3 350.4,104.7 350.8,117.0 351.1,106.4 351.4,119.8 351.7,101.0 352.0,119.9 352.3,104.0 352.6,126.0 353.0,97.6 353.3,98.6 353.6,92.4 353.9,77.2 354.2,58.1 354.5,75.4 354.8,82.5 355.2,125.8 355.5,105.0 355.8,118.0 356.1,104.3 356.4,113.1 356.7,106.6 357.1,123.1 357.4,99.5 357.7,117.9 358.0,92.7 358.3,124.7 358.6,110.0 358.9,123.2 359.3,89.9 359.6,81.3 359.9,72.0 360.2,91.4 360.5,102.7 360.8,103.3 361.1,99.1 361.5,125.7 361.8,99.3 362.1,119.4 362.4,106.2 362.7,121.9 363.0,107.5 363.4,116.8 363.7,101.7 364.0,117.6 364.3,102.4 364.6,125.2 364.9,117.8 365.2,116.5 365.6,105.4 365.9,120.3 366.2,87.2 366.5,118.5 366.8,106.7 367.1,122.6 367.4,121.5 367.8,116.2 368.1,97.8 368.4,127.3 368.7,118.9 369.0,122.3 369.3,105.5 369.6,119.2 370.0,106.1 370.3,118.0 370.6,107.7 370.9,126.3 371.2,105.2 371.5,124.2 371.9,96.4 372.2,98.8 372.5,102.2 372.8,117.6 373.1,110.7 373.4,121.8 373.7,102.6 374.1,97.9 374.4,101.8 374.7,120.8 375.0,105.5 375.3,96.3 375.6,102.2 375.9,116.7 376.3,106.9 376.6,117.1 376.9,107.2 377.2,120.7 377.5,104.0 377.8,125.0 378.2,93.2 378.5,120.1 378.8,107.3 379.1,118.0 379.4,104.7 379.7,118.7 380.0,100.6 380.4,114.8 380.7,102.0 381.0,118.3 381.3,91.2 381.6,120.9 381.9,104.7 382.2,117.8 382.6,100.9 382.9,120.8 383.2,92.8 383.5,114.1 383.8,86.8 384.1,117.9 384.5,97.1 384.8,116.4 385.1,101.7 385.4,116.3 385.7,102.3 386.0,120.9 386.3,102.6 386.7,105.5 387.0,90.2 387.3,97.4 387.6,79.3 387.9,96.9 388.2,97.2 388.6,107.0 388.9,96.7 389.2,116.2 389.5,98.6 389.8,118.6 390.1,100.0 390.4,96.6 390.8,106.4 391.1,121.9 391.4,101.9 391.7,107.3 392.0,92.9 392.3,100.3 392.6,90.2 393.0,95.6 393.3,99.8 393.6,120.1 393.9,106.9 394.2,118.5 394.5,104.2 394.9,121.9 395.2,95.5 395.5,112.9 395.8,100.2 396.1,123.7 396.4,102.5 396.7,117.9 397.1,103.2 397.4,93.8 397.7,104.6 398.0,116.4" fill="none" stroke="#E25A14" stroke-width="1.75" stroke-linejoin="round"/>
<polyline points="240.8,110.1 241.1,113.4 241.4,117.3 241.8,105.9 242.1,103.4 242.4,94.0 242.7,75.6 243.0,88.2 243.3,92.6 243.7,104.7 244.0,119.4 244.3,102.1 244.6,119.7 244.9,106.2 245.2,117.7 245.5,105.8 245.9,107.1 246.2,105.4 246.5,120.4 246.8,99.9 247.1,119.0 247.4,93.4 247.7,102.4 248.1,105.0 248.4,116.4 248.7,108.6 249.0,122.3 249.3,98.8 249.6,104.9 249.9,116.0 250.3,124.5 250.6,107.1 250.9,104.9 251.2,100.0 251.5,116.7 251.8,105.4 252.2,120.6 252.5,99.2 252.8,118.5 253.1,102.2 253.4,118.1 253.7,102.2 254.0,124.0 254.4,103.6 254.7,90.2 255.0,85.2 255.3,73.4 255.6,93.9 255.9,98.8 256.2,101.9 256.6,122.7 256.9,102.9 257.2,119.5 257.5,99.9 257.8,117.8 258.1,104.8 258.5,116.9 258.8,102.9 259.1,126.0 259.4,103.3 259.7,106.4 260.0,101.0 260.3,117.8 260.7,100.9 261.0,120.8 261.3,105.7 261.6,124.4 261.9,104.7 262.2,119.1 262.6,107.2 262.9,117.0 263.2,104.1 263.5,124.6 263.8,105.2 264.1,122.6 264.4,105.4 264.8,120.6 265.1,105.5 265.4,107.3 265.7,96.5 266.0,118.0 266.3,118.7 266.6,117.6 267.0,101.4 267.3,119.1 267.6,105.9 267.9,102.0 268.2,90.2 268.5,83.3 268.9,72.7 269.2,91.3 269.5,98.7 269.8,105.2 270.1,95.2 270.4,92.7 270.7,68.3 271.1,80.1 271.4,97.9 271.7,118.6 272.0,109.4 272.3,115.9 272.6,110.8 272.9,117.3 273.3,99.1 273.6,118.4 273.9,101.8 274.2,117.9 274.5,95.5 274.8,116.5 275.1,120.0 275.5,124.9 275.8,99.0 276.1,121.2 276.4,103.0 276.7,96.8 277.0,93.0 277.4,82.9 277.7,97.0 278.0,99.4 278.3,106.0 278.6,117.4 278.9,97.6 279.2,118.0 279.6,93.6 279.9,80.7 280.2,66.9 280.5,93.3 280.8,98.6 281.1,105.4 281.4,104.6 281.8,121.3 282.1,107.3 282.4,120.0 282.7,99.4 283.0,118.8 283.3,91.4 283.7,123.5 284.0,102.9 284.3,124.5 284.6,93.2 284.9,121.3 285.2,104.6 285.5,117.4 285.9,95.9 286.2,115.1 286.5,103.5 286.8,121.8 287.1,93.0 287.4,118.6 287.8,94.9 288.1,122.5 288.4,97.2 288.7,116.8 289.0,89.3 289.3,120.5 289.6,103.9 290.0,118.0 290.3,105.2 290.6,117.6 290.9,92.1 291.2,119.2 291.5,101.9 291.8,105.6 292.2,105.8 292.5,121.8 292.8,105.1 293.1,98.6 293.4,98.7 293.7,121.8 294.1,104.1 294.4,115.4 294.7,104.0 295.0,120.2 295.3,96.5 295.6,95.4 295.9,75.9 296.3,86.9 296.6,97.0 296.9,97.1 297.2,94.1 297.5,85.8 297.8,95.4 298.1,99.3 298.5,102.9 298.8,121.8 299.1,105.0 299.4,116.3 299.7,97.3 300.0,101.4 300.4,98.8 300.7,116.8 301.0,104.2 301.3,120.5 301.6,105.8 301.9,126.2 302.2,102.2 302.6,126.5 302.9,100.9 303.2,118.8 303.5,96.2 303.8,121.0 304.1,117.2 304.4,119.4 304.8,122.3 305.1,118.3 305.4,101.8 305.7,112.1 306.0,98.9 306.3,117.7 306.6,104.7 307.0,93.0 307.3,108.4 307.6,120.1 307.9,95.1 308.2,124.7 308.5,102.9 308.9,117.3 309.2,107.4 309.5,120.8 309.8,100.6 310.1,103.7 310.4,93.9 310.7,84.2 311.1,75.6 311.4,84.5 311.7,95.9 312.0,103.6 312.3,102.5 312.6,120.3 312.9,96.3 313.3,118.6 313.6,100.2 313.9,123.0 314.2,104.1 314.5,121.0 314.8,99.3 315.2,106.7 315.5,104.9 315.8,105.1 316.1,99.5 316.4,94.0 316.7,69.5 317.0,88.2 317.4,69.0 317.7,91.5 318.0,97.5 318.3,104.7 318.6,104.9 318.9,119.6 319.2,97.7 319.6,118.3 319.9,102.9 320.2,116.4 320.5,101.1 320.8,113.3 321.1,100.7 321.5,125.3 321.8,99.6 322.1,119.8 322.4,116.9 322.7,116.6 323.0,102.5 323.3,118.1 323.7,101.0 324.0,104.5 324.3,92.5 324.6,125.8 324.9,107.3 325.2,118.7 325.6,103.2 325.9,120.8 326.2,96.1 326.5,117.9 326.8,94.3 327.1,116.2 327.4,98.7 327.8,122.3 328.1,102.8 328.4,97.7 328.7,92.4 329.0,79.3 329.3,94.1 329.6,103.6 330.0,103.1 330.3,116.5 330.6,94.7 330.9,119.2 331.2,101.8 331.5,116.6 331.9,102.1 332.2,118.8 332.5,107.1 332.8,119.3 333.1,96.7 333.4,119.3 333.7,105.7 334.1,107.1 334.4,96.5 334.7,122.0 335.0,93.9 335.3,124.1 335.6,104.5 335.9,73.7 336.3,63.7 336.6,48.6 336.9,85.6 337.2,95.4 337.5,96.7 337.8,118.8 338.1,106.5 338.5,124.9 338.8,86.6 339.1,117.1 339.4,97.0 339.7,118.1 340.0,105.1 340.4,123.8 340.7,98.0 341.0,119.0 341.3,107.5 341.6,117.1 341.9,102.7 342.2,118.1 342.6,110.8 342.9,118.4 343.2,104.2 343.5,119.7 343.8,102.0 344.1,118.5 344.4,98.0 344.8,117.0 345.1,106.1 345.4,114.0 345.7,94.4 346.0,122.6 346.3,100.2 346.7,120.3 347.0,94.6 347.3,119.2 347.6,102.4 347.9,100.5 348.2,107.4 348.5,120.5 348.9,106.5 349.2,123.3 349.5,106.4 349.8,99.6 350.1,94.1 350.4,83.6 350.8,95.6 351.1,103.0 351.4,99.1 351.7,116.7 352.0,104.2 352.3,117.4 352.6,105.0 353.0,121.0 353.3,104.9 353.6,120.7 353.9,98.4 354.2,116.8 354.5,100.5 354.8,120.6 355.2,91.0 355.5,122.2 355.8,95.6 356.1,116.8 356.4,99.2 356.7,91.6 357.1,108.1 357.4,116.5 357.7,119.1 358.0,116.7 358.3,106.5 358.6,117.0 358.9,96.1 359.3,121.2 359.6,105.9 359.9,117.3 360.2,99.5 360.5,126.1 360.8,100.8 361.1,120.0 361.5,105.7 361.8,120.7 362.1,97.6 362.4,124.1 362.7,119.1 363.0,119.9 363.4,103.5 363.7,101.4 364.0,94.3 364.3,76.8 364.6,91.6 364.9,99.6 365.2,121.2 365.6,121.1 365.9,102.5 366.2,116.9 366.5,103.0 366.8,122.9 367.1,94.9 367.4,121.4 367.8,97.9 368.1,115.9 368.4,98.9 368.7,117.5 369.0,102.6 369.3,118.8 369.6,102.8 370.0,125.8 370.3,107.2 370.6,118.2 370.9,106.3 371.2,119.7 371.5,90.9 371.9,116.0 372.2,92.8 372.5,118.7 372.8,104.5 373.1,98.2 373.4,90.4 373.7,76.7 374.1,60.0 374.4,74.0 374.7,93.1 375.0,100.3 375.3,99.3 375.6,125.3 375.9,103.0 376.3,121.3 376.6,98.9 376.9,120.7 377.2,95.9 377.5,122.0 377.8,106.3 378.2,116.9 378.5,120.0 378.8,117.8 379.1,100.1 379.4,98.4 379.7,100.6 380.0,116.3 380.4,106.7 380.7,120.2 381.0,107.3 381.3,123.0 381.6,106.2 381.9,122.8 382.2,105.5 382.6,116.4 382.9,96.0 383.2,88.4 383.5,70.9 383.8,90.0 384.1,95.8 384.5,105.5 384.8,102.0 385.1,117.1 385.4,105.5 385.7,123.0 386.0,105.8 386.3,114.3 386.7,104.7 387.0,127.4 387.3,101.0 387.6,120.8 387.9,99.4 388.2,118.4 388.6,106.4 388.9,124.8 389.2,111.6 389.5,122.6 389.8,105.9 390.1,124.4 390.4,118.8 390.8,122.3 391.1,105.4 391.4,119.5 391.7,105.4 392.0,117.3 392.3,106.5 392.6,114.3 393.0,95.2 393.3,102.5 393.6,98.4 393.9,81.4 394.2,88.6 394.5,94.8 394.9,99.8 395.2,83.3 395.5,67.2 395.8,80.5 396.1,91.8 396.4,101.9 396.7,106.6 397.1,127.4 397.4,106.5 397.7,119.2 398.0,97.1" fill="none" stroke="#998DC5" stroke-width="1.75" stroke-linejoin="round"/>
<polyline points="240.8,111.2 241.1,101.8 241.4,114.9 241.8,116.1 242.1,118.6 242.4,105.4 242.7,116.2 243.0,101.5 243.3,125.7 243.7,93.1 244.0,86.2 244.3,73.4 244.6,92.7 244.9,97.3 245.2,122.2 245.5,105.5 245.9,120.9 246.2,107.4 246.5,104.9 246.8,104.5 247.1,122.0 247.4,105.3 247.7,91.9 248.1,107.2 248.4,96.7 248.7,81.7 249.0,69.5 249.3,94.4 249.6,100.0 249.9,100.2 250.3,127.4 250.6,106.4 250.9,118.1 251.2,99.5 251.5,116.5 251.8,87.6 252.2,116.3 252.5,106.4 252.8,118.1 253.1,94.1 253.4,83.7 253.7,60.0 254.0,39.9 254.4,82.7 254.7,89.1 255.0,101.5 255.3,118.8 255.6,103.7 255.9,125.8 256.2,105.1 256.6,127.2 256.9,121.3 257.2,117.0 257.5,125.3 257.8,121.1 258.1,118.0 258.5,124.0 258.8,106.2 259.1,118.3 259.4,109.3 259.7,126.7 260.0,94.9 260.3,87.8 260.7,64.4 261.0,80.2 261.3,91.8 261.6,116.8 261.9,103.6 262.2,102.6 262.6,96.8 262.9,91.5 263.2,77.4 263.5,97.8 263.8,103.0 264.1,105.3 264.4,107.2 264.8,118.1 265.1,104.6 265.4,121.3 265.7,102.9 266.0,118.4 266.3,106.7 266.6,125.5 267.0,103.5 267.3,102.8 267.6,103.8 267.9,117.3 268.2,94.1 268.5,120.3 268.9,103.1 269.2,120.2 269.5,100.5 269.8,120.2 270.1,97.5 270.4,118.5 270.7,104.4 271.1,106.2 271.4,94.6 271.7,117.9 272.0,95.7 272.3,118.4 272.6,98.4 272.9,123.1 273.3,103.7 273.6,122.3 273.9,95.9 274.2,123.0 274.5,107.1 274.8,121.1 275.1,107.4 275.5,116.4 275.8,94.2 276.1,116.2 276.4,95.9 276.7,114.7 277.0,115.3 277.4,123.7 277.7,98.9 278.0,119.5 278.3,107.3 278.6,116.8 278.9,100.4 279.2,119.3 279.6,106.8 279.9,121.2 280.2,96.0 280.5,119.7 280.8,106.6 281.1,123.2 281.4,103.5 281.8,117.5 282.1,108.9 282.4,116.3 282.7,105.0 283.0,95.7 283.3,100.3 283.7,118.0 284.0,105.6 284.3,113.8 284.6,106.6 284.9,119.0 285.2,104.2 285.5,125.2 285.9,105.4 286.2,99.1 286.5,94.6 286.8,116.0 287.1,104.3 287.4,122.1 287.8,102.7 288.1,124.1 288.4,106.7 288.7,102.0 289.0,104.8 289.3,98.8 289.6,98.2 290.0,83.1 290.3,52.6 290.6,88.1 290.9,97.1 291.2,117.6 291.5,88.1 291.8,116.2 292.2,98.8 292.5,94.4 292.8,81.9 293.1,65.4 293.4,91.2 293.7,102.2 294.1,103.2 294.4,123.4 294.7,107.1 295.0,120.6 295.3,107.4 295.6,116.1 295.9,101.1 296.3,116.5 296.6,103.3 296.9,118.1 297.2,106.0 297.5,115.7 297.8,107.5 298.1,116.1 298.5,101.0 298.8,120.9 299.1,107.3 299.4,116.8 299.7,102.7 300.0,118.0 300.4,103.9 300.7,122.8 301.0,102.7 301.3,117.5 301.6,94.3 301.9,87.9 302.2,75.3 302.6,89.5 302.9,100.2 303.2,103.4 303.5,106.4 303.8,101.2 304.1,93.8 304.4,78.5 304.8,88.0 305.1,100.1 305.4,100.1 305.7,118.8 306.0,107.3 306.3,116.6 306.6,115.9 307.0,122.1 307.3,106.3 307.6,119.7 307.9,105.9 308.2,121.0 308.5,103.5 308.9,117.2 309.2,98.9 309.5,118.6 309.8,95.1 310.1,103.2 310.4,97.5 310.7,124.3 311.1,116.2 311.4,123.3 311.7,107.2 312.0,113.6 312.3,91.9 312.6,119.5 312.9,105.4 313.3,118.3 313.6,107.2 313.9,122.3 314.2,103.2 314.5,120.9 314.8,91.2 315.2,118.0 315.5,107.3 315.8,112.0 316.1,96.7 316.4,101.2 316.7,88.8 317.0,75.6 317.4,96.8 317.7,75.6 318.0,95.6 318.3,102.9 318.6,102.4 318.9,121.1 319.2,106.4 319.6,126.5 319.9,98.9 320.2,107.2 320.5,106.6 320.8,119.2 321.1,102.6 321.5,120.0 321.8,103.2 322.1,116.0 322.4,101.1 322.7,116.0 323.0,103.9 323.3,118.7 323.7,105.0 324.0,117.0 324.3,102.9 324.6,119.2 324.9,105.9 325.2,120.7 325.6,103.5 325.9,119.0 326.2,98.2 326.5,91.2 326.8,62.2 327.1,90.5 327.4,97.8 327.8,115.0 328.1,104.3 328.4,122.1 328.7,99.7 329.0,120.3 329.3,100.3 329.6,119.3 330.0,107.0 330.3,97.5 330.6,87.9 330.9,76.7 331.2,58.1 331.5,74.1 331.9,85.6 332.2,97.4 332.5,94.9 332.8,116.0 333.1,103.7 333.4,118.6 333.7,101.3 334.1,119.3 334.4,103.5 334.7,126.6 335.0,102.4 335.3,116.3 335.6,105.5 335.9,104.7 336.3,100.9 336.6,116.8 336.9,102.1 337.2,118.8 337.5,98.5 337.8,116.7 338.1,99.9 338.5,116.8 338.8,103.2 339.1,98.5 339.4,109.9 339.7,121.8 340.0,105.9 340.4,122.1 340.7,95.3 341.0,125.6 341.3,97.7 341.6,116.5 341.9,106.1 342.2,116.6 342.6,94.0 342.9,116.1 343.2,106.9 343.5,121.0 343.8,110.4 344.1,126.0 344.4,104.4 344.8,103.8 345.1,94.3 345.4,72.1 345.7,34.8 346.0,58.8 346.3,81.9 346.7,85.7 347.0,74.4 347.3,48.6 347.6,79.6 347.9,97.1 348.2,106.6 348.5,118.8 348.9,102.5 349.2,122.5 349.5,106.5 349.8,120.6 350.1,99.3 350.4,118.2 350.8,99.7 351.1,120.6 351.4,106.9 351.7,120.8 352.0,95.8 352.3,80.5 352.6,42.5 353.0,65.0 353.3,78.9 353.6,116.8 353.9,110.3 354.2,127.4 354.5,106.4 354.8,113.5 355.2,106.4 355.5,119.3 355.8,91.0 356.1,116.6 356.4,98.3 356.7,124.3 357.1,113.5 357.4,93.0 357.7,80.0 358.0,65.4 358.3,78.9 358.6,94.3 358.9,96.3 359.3,124.1 359.6,106.9 359.9,114.9 360.2,89.4 360.5,116.7 360.8,95.6 361.1,119.5 361.5,102.1 361.8,118.5 362.1,103.0 362.4,119.1 362.7,98.9 363.0,116.2 363.4,95.3 363.7,108.2 364.0,104.0 364.3,123.7 364.6,90.2 364.9,106.1 365.2,101.1 365.6,97.7 365.9,77.1 366.2,91.1 366.5,94.9 366.8,120.5 367.1,104.1 367.4,123.4 367.8,104.0 368.1,116.5 368.4,106.2 368.7,99.8 369.0,89.3 369.3,82.6 369.6,71.2 370.0,86.1 370.3,97.0 370.6,103.9 370.9,99.6 371.2,87.8 371.5,80.7 371.9,93.6 372.2,92.9 372.5,119.6 372.8,107.2 373.1,117.1 373.4,99.8 373.7,124.8 374.1,107.4 374.4,118.0 374.7,99.1 375.0,116.6 375.3,119.8 375.6,120.8 375.9,99.8 376.3,117.8 376.6,107.0 376.9,87.2 377.2,74.7 377.5,60.3 377.8,81.7 378.2,98.0 378.5,103.7 378.8,120.5 379.1,107.3 379.4,122.3 379.7,97.7 380.0,96.1 380.4,88.0 380.7,75.3 381.0,95.8 381.3,101.3 381.6,106.0 381.9,117.9 382.2,106.6 382.6,120.4 382.9,97.7 383.2,116.3 383.5,96.2 383.8,122.1 384.1,102.5 384.5,121.2 384.8,106.9 385.1,118.9 385.4,102.7 385.7,117.5 386.0,106.7 386.3,104.2 386.7,106.6 387.0,121.1 387.3,99.7 387.6,118.1 387.9,108.0 388.2,121.0 388.6,103.2 388.9,91.9 389.2,63.2 389.5,42.8 389.8,76.5 390.1,84.5 390.4,100.2 390.8,124.6 391.1,101.6 391.4,112.4 391.7,92.0 392.0,118.8 392.3,107.4 392.6,118.3 393.0,105.0 393.3,112.4 393.6,102.6 393.9,119.6 394.2,93.7 394.5,104.0 394.9,92.6 395.2,120.1 395.5,106.4 395.8,105.8 396.1,93.4 396.4,118.5 396.7,104.8 397.1,122.0 397.4,126.0 397.7,119.1 398.0,106.4" fill="none" stroke="#401675" stroke-width="1.75" stroke-linejoin="round"/>
<line x1="233.05" y1="30.0" x2="233.05" y2="134.6" stroke="#333333" stroke-width="1.5"/>
<line x1="232.75" y1="133.4" x2="405.35" y2="133.4" stroke="#222" stroke-width="2.65"/>
<line x1="228.85000000000002" y1="32.6" x2="233.05" y2="32.6" stroke="#333333" stroke-width="1.4"/>
<text x="225.95000000000002" y="37.550000000000004" text-anchor="end" class="a">4</text>
<line x1="228.85000000000002" y1="58.0" x2="233.05" y2="58.0" stroke="#333333" stroke-width="1.4"/>
<text x="225.95000000000002" y="62.95" text-anchor="end" class="a">3</text>
<line x1="228.85000000000002" y1="83.4" x2="233.05" y2="83.4" stroke="#333333" stroke-width="1.4"/>
<text x="225.95000000000002" y="88.35000000000001" text-anchor="end" class="a">2</text>
<line x1="228.85000000000002" y1="108.8" x2="233.05" y2="108.8" stroke="#333333" stroke-width="1.4"/>
<text x="225.95000000000002" y="113.75" text-anchor="end" class="a">1</text>
<line x1="240.50" y1="134.4" x2="240.50" y2="137.1" stroke="#333333" stroke-width="1.4"/>
<text x="240.50" y="149.20000000000002" text-anchor="middle" class="a">500</text>
<line x1="272.00" y1="134.4" x2="272.00" y2="137.1" stroke="#333333" stroke-width="1.4"/>
<text x="272.00" y="149.20000000000002" text-anchor="middle" class="a">600</text>
<line x1="303.50" y1="134.4" x2="303.50" y2="137.1" stroke="#333333" stroke-width="1.4"/>
<text x="303.50" y="149.20000000000002" text-anchor="middle" class="a">700</text>
<line x1="335.00" y1="134.4" x2="335.00" y2="137.1" stroke="#333333" stroke-width="1.4"/>
<text x="335.00" y="149.20000000000002" text-anchor="middle" class="a">800</text>
<line x1="366.50" y1="134.4" x2="366.50" y2="137.1" stroke="#333333" stroke-width="1.4"/>
<text x="366.50" y="149.20000000000002" text-anchor="middle" class="a">900</text>
<line x1="398.00" y1="134.4" x2="398.00" y2="137.1" stroke="#333333" stroke-width="1.4"/>
<text x="398.00" y="149.20000000000002" text-anchor="middle" class="a">1000</text>
<text x="319.20" y="23.0" text-anchor="middle" class="s">alpha[2]</text>
<polyline points="433.8,109.3 434.1,101.8 434.4,110.4 434.8,102.7 435.1,114.1 435.4,100.3 435.7,114.4 436.0,98.8 436.3,109.9 436.6,100.5 437.0,95.1 437.3,82.9 437.6,73.9 437.9,85.3 438.2,93.0 438.5,82.4 438.9,85.8 439.2,75.6 439.5,83.0 439.8,66.1 440.1,82.8 440.4,95.5 440.7,116.8 441.1,104.5 441.4,115.7 441.7,98.7 442.0,122.0 442.3,103.9 442.6,117.6 442.9,99.7 443.3,117.5 443.6,85.2 443.9,111.6 444.2,102.1 444.5,123.8 444.8,102.1 445.2,115.1 445.5,102.4 445.8,121.8 446.1,98.3 446.4,116.1 446.7,103.3 447.0,124.4 447.4,103.4 447.7,120.5 448.0,101.4 448.3,117.2 448.6,90.4 448.9,119.2 449.2,95.1 449.6,79.6 449.9,53.3 450.2,83.3 450.5,84.3 450.8,109.5 451.1,100.6 451.5,115.0 451.8,101.7 452.1,115.2 452.4,101.2 452.7,115.4 453.0,104.3 453.3,121.0 453.7,97.9 454.0,120.7 454.3,102.0 454.6,116.3 454.9,102.1 455.2,96.5 455.6,93.7 455.9,81.4 456.2,92.6 456.5,96.7 456.8,91.2 457.1,116.2 457.4,97.9 457.8,114.4 458.1,99.0 458.4,89.5 458.7,67.6 459.0,54.5 459.3,85.6 459.6,89.9 460.0,100.3 460.3,97.3 460.6,93.2 460.9,123.5 461.2,90.0 461.5,124.2 461.9,96.7 462.2,119.0 462.5,99.6 462.8,121.3 463.1,103.3 463.4,83.0 463.7,71.7 464.1,34.8 464.4,80.8 464.7,92.7 465.0,101.6 465.3,118.3 465.6,103.5 465.9,118.8 466.3,99.0 466.6,119.7 466.9,103.4 467.2,123.3 467.5,100.2 467.8,117.5 468.1,101.9 468.5,127.3 468.8,100.0 469.1,113.9 469.4,98.6 469.7,118.0 470.0,100.2 470.4,119.4 470.7,98.5 471.0,121.1 471.3,114.4 471.6,118.2 471.9,97.2 472.2,124.2 472.6,101.3 472.9,121.7 473.2,103.2 473.5,116.6 473.8,97.3 474.1,116.6 474.4,101.7 474.8,114.7 475.1,95.1 475.4,116.9 475.7,101.2 476.0,115.7 476.3,102.4 476.7,120.5 477.0,105.9 477.3,95.8 477.6,103.4 477.9,119.4 478.2,99.9 478.5,118.0 478.9,94.5 479.2,100.6 479.5,83.0 479.8,77.2 480.1,65.7 480.4,78.0 480.8,83.8 481.1,101.2 481.4,104.6 481.7,121.6 482.0,100.9 482.3,92.7 482.6,119.7 483.0,115.0 483.3,91.9 483.6,120.6 483.9,93.8 484.2,96.6 484.5,81.3 484.8,51.8 485.2,77.0 485.5,83.8 485.8,94.9 486.1,124.2 486.4,93.1 486.7,117.5 487.1,104.6 487.4,103.7 487.7,95.5 488.0,94.7 488.3,79.7 488.6,88.7 488.9,94.4 489.3,103.8 489.6,102.1 489.9,95.6 490.2,88.0 490.5,77.8 490.8,82.5 491.1,98.4 491.5,117.8 491.8,123.7 492.1,104.6 492.4,115.6 492.7,97.2 493.0,118.8 493.4,93.5 493.7,115.8 494.0,99.3 494.3,115.4 494.6,116.7 494.9,123.5 495.2,102.5 495.6,117.5 495.9,96.1 496.2,87.1 496.5,78.4 496.8,68.6 497.1,92.3 497.4,97.4 497.8,97.0 498.1,127.1 498.4,86.5 498.7,117.5 499.0,101.2 499.3,100.4 499.6,103.4 500.0,114.2 500.3,118.0 500.6,117.8 500.9,103.8 501.2,117.8 501.5,102.3 501.9,100.3 502.2,96.5 502.5,115.9 502.8,102.5 503.1,117.9 503.4,91.9 503.7,117.0 504.1,102.4 504.4,121.5 504.7,103.3 505.0,119.2 505.3,103.4 505.6,89.5 505.9,87.7 506.3,82.6 506.6,96.5 506.9,117.8 507.2,94.4 507.5,118.4 507.8,105.1 508.2,112.6 508.5,122.9 508.8,124.6 509.1,95.5 509.4,103.7 509.7,101.0 510.0,92.1 510.4,76.3 510.7,90.8 511.0,76.8 511.3,91.1 511.6,94.5 511.9,114.6 512.2,91.8 512.6,116.1 512.9,103.0 513.2,114.0 513.5,94.1 513.8,115.2 514.1,103.6 514.5,99.5 514.8,94.1 515.1,79.7 515.4,94.2 515.7,95.0 516.0,95.6 516.3,120.0 516.7,103.7 517.0,116.2 517.3,121.1 517.6,118.5 517.9,92.8 518.2,83.8 518.5,52.0 518.9,82.8 519.2,92.8 519.5,117.3 519.8,99.2 520.1,122.5 520.4,98.9 520.8,118.7 521.1,90.5 521.4,121.8 521.7,99.1 522.0,118.2 522.3,87.9 522.6,114.6 523.0,99.8 523.3,114.6 523.6,98.8 523.9,122.2 524.2,104.1 524.5,118.7 524.9,89.6 525.2,98.4 525.5,86.8 525.8,78.5 526.1,93.2 526.4,100.9 526.7,102.4 527.1,115.4 527.4,94.5 527.7,113.8 528.0,97.8 528.3,92.2 528.6,102.3 528.9,119.8 529.3,100.2 529.6,121.7 529.9,92.8 530.2,115.1 530.5,90.8 530.8,121.4 531.1,97.4 531.5,125.9 531.8,122.8 532.1,99.2 532.4,96.3 532.7,116.4 533.0,103.9 533.4,97.8 533.7,88.0 534.0,74.9 534.3,93.9 534.6,97.6 534.9,98.9 535.2,82.1 535.6,91.2 535.9,79.3 536.2,86.8 536.5,98.8 536.8,100.2 537.1,115.0 537.5,101.8 537.8,119.9 538.1,101.2 538.4,117.7 538.7,101.3 539.0,115.3 539.3,102.9 539.7,120.6 540.0,98.0 540.3,126.3 540.6,101.4 540.9,114.9 541.2,88.7 541.5,97.1 541.9,103.1 542.2,119.1 542.5,100.6 542.8,114.7 543.1,99.2 543.4,90.3 543.8,62.5 544.1,77.9 544.4,89.8 544.7,98.0 545.0,97.0 545.3,120.3 545.6,95.4 546.0,86.4 546.3,78.5 546.6,66.1 546.9,91.3 547.2,85.7 547.5,75.6 547.8,85.3 548.2,90.2 548.5,127.1 548.8,97.4 549.1,118.7 549.4,87.2 549.7,114.5 550.0,98.0 550.4,114.0 550.7,95.7 551.0,122.7 551.3,98.5 551.6,113.9 551.9,103.7 552.3,116.8 552.6,104.4 552.9,100.6 553.2,95.8 553.5,118.4 553.8,87.9 554.1,101.8 554.5,94.1 554.8,125.7 555.1,101.2 555.4,114.4 555.7,96.3 556.0,115.5 556.4,100.7 556.7,117.0 557.0,97.0 557.3,118.3 557.6,98.2 557.9,117.4 558.2,101.0 558.6,117.6 558.9,96.2 559.2,92.4 559.5,78.5 559.8,93.9 560.1,91.2 560.4,113.1 560.8,98.9 561.1,95.5 561.4,80.5 561.7,71.7 562.0,91.1 562.3,97.1 562.6,95.4 563.0,119.5 563.3,102.0 563.6,123.6 563.9,101.8 564.2,118.2 564.5,102.3 564.9,123.4 565.2,102.9 565.5,124.7 565.8,101.0 566.1,116.8 566.4,93.0 566.7,114.8 567.1,119.3 567.4,117.0 567.7,97.7 568.0,101.0 568.3,94.0 568.6,88.3 569.0,68.8 569.3,81.7 569.6,87.3 569.9,100.9 570.2,99.9 570.5,124.4 570.8,87.2 571.2,114.9 571.5,98.9 571.8,92.9 572.1,69.5 572.4,83.6 572.7,95.6 573.0,99.8 573.4,103.7 573.7,114.5 574.0,97.2 574.3,118.7 574.6,103.0 574.9,99.4 575.2,90.0 575.6,66.1 575.9,81.1 576.2,94.4 576.5,86.6 576.8,112.5 577.1,115.1 577.5,120.9 577.8,82.4 578.1,114.2 578.4,87.2 578.7,114.5 579.0,99.0 579.3,122.7 579.7,100.9 580.0,118.4 580.3,98.9 580.6,115.4 580.9,95.4 581.2,119.2 581.5,115.4 581.9,121.0 582.2,100.3 582.5,115.0 582.8,97.3 583.1,125.5 583.4,90.0 583.8,115.2 584.1,99.8 584.4,118.4 584.7,96.2 585.0,124.6 585.3,101.1 585.6,118.9 586.0,91.4 586.3,120.3 586.6,103.0 586.9,93.9 587.2,90.2 587.5,82.9 587.9,89.4 588.2,92.8 588.5,98.4 588.8,116.0 589.1,96.8 589.4,114.8 589.7,102.3 590.1,93.4 590.4,100.1 590.7,120.7 591.0,102.6" fill="none" stroke="#E25A14" stroke-width="1.75" stroke-linejoin="round"/>
<polyline points="433.8,103.9 434.1,112.8 434.4,100.4 434.8,93.4 435.1,103.3 435.4,116.0 435.7,101.5 436.0,91.8 436.3,84.7 436.6,77.1 437.0,86.7 437.3,95.4 437.6,92.7 437.9,118.7 438.2,95.1 438.5,115.7 438.9,100.1 439.2,116.0 439.5,116.5 439.8,114.2 440.1,103.8 440.4,120.5 440.7,103.7 441.1,116.0 441.4,104.5 441.7,114.3 442.0,103.8 442.3,95.8 442.6,101.4 442.9,117.0 443.3,111.4 443.6,119.1 443.9,99.2 444.2,121.7 444.5,95.4 444.8,115.9 445.2,96.0 445.5,86.1 445.8,73.4 446.1,83.3 446.4,87.9 446.7,89.0 447.0,80.7 447.4,55.2 447.7,68.0 448.0,92.0 448.3,102.4 448.6,120.8 448.9,99.4 449.2,117.4 449.6,96.4 449.9,118.4 450.2,104.5 450.5,111.4 450.8,95.4 451.1,89.4 451.5,70.0 451.8,56.7 452.1,76.9 452.4,88.5 452.7,98.6 453.0,104.4 453.3,94.7 453.7,116.1 454.0,95.7 454.3,119.6 454.6,100.7 454.9,120.3 455.2,103.9 455.6,118.3 455.9,83.3 456.2,116.0 456.5,109.0 456.8,118.7 457.1,98.8 457.4,115.3 457.8,89.3 458.1,118.6 458.4,85.9 458.7,100.0 459.0,86.8 459.3,121.5 459.6,103.0 460.0,114.5 460.3,89.2 460.6,115.7 460.9,103.8 461.2,117.7 461.5,97.0 461.9,97.3 462.2,87.5 462.5,63.7 462.8,74.2 463.1,83.4 463.4,98.2 463.7,117.1 464.1,102.6 464.4,117.5 464.7,95.2 465.0,94.4 465.3,89.2 465.6,87.6 465.9,79.3 466.3,90.3 466.6,94.0 466.9,119.2 467.2,118.7 467.5,124.8 467.8,104.0 468.1,116.5 468.5,98.4 468.8,117.0 469.1,101.9 469.4,118.0 469.7,101.4 470.0,115.6 470.4,108.6 470.7,114.1 471.0,100.0 471.3,116.4 471.6,92.2 471.9,87.2 472.2,65.1 472.6,75.4 472.9,82.1 473.2,100.8 473.5,90.5 473.8,118.1 474.1,98.6 474.4,116.0 474.8,91.1 475.1,79.7 475.4,44.3 475.7,81.4 476.0,86.6 476.3,116.9 476.7,102.1 477.0,126.3 477.3,100.4 477.6,125.6 477.9,97.7 478.2,121.1 478.5,96.3 478.9,117.1 479.2,96.6 479.5,123.2 479.8,102.4 480.1,122.9 480.4,101.0 480.8,115.5 481.1,101.5 481.4,115.6 481.7,82.6 482.0,97.9 482.3,90.5 482.6,66.6 483.0,83.6 483.3,93.2 483.6,119.0 483.9,118.8 484.2,102.9 484.5,116.2 484.8,93.7 485.2,114.2 485.5,107.8 485.8,115.5 486.1,102.3 486.4,114.3 486.7,106.4 487.1,115.8 487.4,116.1 487.7,123.8 488.0,95.8 488.3,119.6 488.6,99.9 488.9,115.9 489.3,83.1 489.6,120.3 489.9,100.7 490.2,127.3 490.5,108.0 490.8,123.2 491.1,101.3 491.5,117.9 491.8,100.9 492.1,117.7 492.4,109.0 492.7,101.8 493.0,96.8 493.4,89.0 493.7,72.4 494.0,91.1 494.3,96.0 494.6,115.8 494.9,101.8 495.2,114.4 495.6,100.4 495.9,119.4 496.2,106.1 496.5,118.4 496.8,99.5 497.1,115.5 497.4,102.0 497.8,116.6 498.1,101.1 498.4,97.6 498.7,104.2 499.0,125.0 499.3,96.1 499.6,119.6 500.0,91.6 500.3,116.9 500.6,102.3 500.9,121.2 501.2,96.0 501.5,120.7 501.9,100.4 502.2,100.1 502.5,113.4 502.8,97.1 503.1,85.0 503.4,119.7 503.7,100.5 504.1,116.7 504.4,115.1 504.7,114.1 505.0,98.3 505.3,121.5 505.6,95.5 505.9,118.6 506.3,101.2 506.6,118.7 506.9,101.4 507.2,116.5 507.5,86.3 507.8,121.9 508.2,98.3 508.5,115.0 508.8,96.3 509.1,121.1 509.4,100.0 509.7,104.6 510.0,102.4 510.4,119.8 510.7,95.2 511.0,113.8 511.3,95.4 511.6,116.2 511.9,94.7 512.2,95.9 512.6,98.3 512.9,115.6 513.2,104.3 513.5,100.3 513.8,82.6 514.1,122.9 514.5,89.4 514.8,112.6 515.1,98.3 515.4,117.9 515.7,100.8 516.0,114.5 516.3,99.4 516.7,119.6 517.0,103.6 517.3,110.9 517.6,99.4 517.9,127.3 518.2,101.9 518.5,118.6 518.9,93.3 519.2,90.8 519.5,74.6 519.8,60.7 520.1,83.3 520.4,89.8 520.8,100.9 521.1,112.2 521.4,92.0 521.7,117.7 522.0,84.1 522.3,94.2 522.6,73.2 523.0,61.8 523.3,85.0 523.6,91.3 523.9,117.9 524.2,126.9 524.5,95.8 524.9,119.3 525.2,108.4 525.5,86.3 525.8,102.1 526.1,117.8 526.4,103.3 526.7,115.8 527.1,94.5 527.4,114.2 527.7,101.7 528.0,101.6 528.3,115.9 528.6,123.6 528.9,104.4 529.3,114.5 529.6,102.8 529.9,119.8 530.2,104.6 530.5,120.0 530.8,102.4 531.1,97.4 531.5,85.5 531.8,64.7 532.1,81.3 532.4,88.5 532.7,75.8 533.0,59.3 533.4,86.9 533.7,98.0 534.0,94.4 534.3,116.6 534.6,98.5 534.9,117.4 535.2,104.0 535.6,115.8 535.9,120.5 536.2,115.6 536.5,100.1 536.8,120.8 537.1,103.5 537.5,117.5 537.8,83.5 538.1,113.8 538.4,91.4 538.7,126.6 539.0,115.0 539.3,101.1 539.7,102.6 540.0,119.3 540.3,101.2 540.6,118.6 540.9,100.0 541.2,117.8 541.5,100.6 541.9,120.0 542.2,104.5 542.5,123.8 542.8,127.1 543.1,127.3 543.4,92.5 543.8,117.4 544.1,99.0 544.4,102.0 544.7,100.6 545.0,116.4 545.3,91.8 545.6,100.9 546.0,103.6 546.3,115.4 546.6,88.6 546.9,118.6 547.2,104.2 547.5,120.2 547.8,90.4 548.2,118.4 548.5,97.7 548.8,116.6 549.1,92.1 549.4,103.5 549.7,100.9 550.0,116.1 550.4,100.7 550.7,114.3 551.0,93.7 551.3,118.7 551.6,101.1 551.9,114.6 552.3,119.1 552.6,99.9 552.9,90.8 553.2,80.7 553.5,88.5 553.8,99.8 554.1,117.2 554.5,116.8 554.8,91.9 555.1,124.6 555.4,96.2 555.7,95.5 556.0,100.2 556.4,116.0 556.7,100.7 557.0,117.3 557.3,95.3 557.6,99.5 557.9,82.0 558.2,73.9 558.6,82.1 558.9,87.7 559.2,97.5 559.5,111.8 559.8,96.7 560.1,119.4 560.4,99.6 560.8,118.4 561.1,103.0 561.4,114.4 561.7,83.1 562.0,116.0 562.3,92.8 562.6,77.1 563.0,50.8 563.3,79.6 563.6,88.8 563.9,124.0 564.2,104.1 564.5,120.6 564.9,93.2 565.2,116.2 565.5,101.7 565.8,120.6 566.1,96.3 566.4,117.7 566.7,102.2 567.1,101.6 567.4,91.2 567.7,119.2 568.0,99.9 568.3,127.3 568.6,103.2 569.0,118.2 569.3,87.4 569.6,119.8 569.9,94.2 570.2,98.9 570.5,94.6 570.8,78.5 571.2,92.8 571.5,96.2 571.8,95.7 572.1,124.4 572.4,99.8 572.7,116.8 573.0,90.4 573.4,88.3 573.7,77.5 574.0,42.8 574.3,61.0 574.6,82.6 574.9,93.9 575.2,124.8 575.6,103.3 575.9,113.9 576.2,98.2 576.5,116.1 576.8,95.3 577.1,91.9 577.5,69.8 577.8,91.2 578.1,89.7 578.4,115.1 578.7,118.5 579.0,116.5 579.3,87.0 579.7,118.8 580.0,87.7 580.3,119.5 580.6,103.3 580.9,122.7 581.2,90.0 581.5,94.1 581.9,90.2 582.2,76.8 582.5,92.2 582.8,97.2 583.1,100.5 583.4,112.6 583.8,109.1 584.1,114.8 584.4,96.6 584.7,115.8 585.0,106.0 585.3,114.8 585.6,95.2 586.0,119.1 586.3,94.1 586.6,117.4 586.9,102.6 587.2,115.9 587.5,95.9 587.9,115.1 588.2,102.3 588.5,116.4 588.8,103.8 589.1,115.1 589.4,103.9 589.7,117.5 590.1,92.4 590.4,116.7 590.7,98.9 591.0,96.0" fill="none" stroke="#998DC5" stroke-width="1.75" stroke-linejoin="round"/>
<polyline points="433.8,103.5 434.1,99.5 434.4,113.1 434.8,92.0 435.1,88.4 435.4,80.0 435.7,92.4 436.0,94.3 436.3,103.6 436.6,98.2 437.0,115.8 437.3,96.7 437.6,118.4 437.9,97.0 438.2,112.0 438.5,103.3 438.9,124.4 439.2,96.1 439.5,118.9 439.8,96.7 440.1,121.1 440.4,90.1 440.7,78.8 441.1,57.1 441.4,85.5 441.7,94.4 442.0,100.6 442.3,101.4 442.6,117.3 442.9,86.8 443.3,114.1 443.6,114.5 443.9,103.7 444.2,104.2 444.5,114.0 444.8,103.8 445.2,119.4 445.5,115.8 445.8,119.4 446.1,91.7 446.4,123.0 446.7,101.3 447.0,117.1 447.4,94.8 447.7,117.0 448.0,89.4 448.3,119.6 448.6,96.2 448.9,118.0 449.2,103.4 449.6,97.8 449.9,87.6 450.2,55.2 450.5,72.5 450.8,88.0 451.1,102.3 451.5,119.9 451.8,102.0 452.1,116.9 452.4,98.9 452.7,114.7 453.0,95.2 453.3,123.0 453.7,118.7 454.0,120.8 454.3,97.6 454.6,114.2 454.9,101.1 455.2,117.2 455.6,99.7 455.9,119.5 456.2,97.7 456.5,122.5 456.8,90.7 457.1,122.2 457.4,102.3 457.8,120.5 458.1,97.4 458.4,87.6 458.7,90.1 459.0,65.4 459.3,82.1 459.6,92.6 460.0,118.2 460.3,119.3 460.6,102.7 460.9,119.2 461.2,91.5 461.5,121.6 461.9,98.5 462.2,114.7 462.5,101.8 462.8,120.4 463.1,104.6 463.4,121.4 463.7,103.7 464.1,112.2 464.4,102.6 464.7,116.9 465.0,102.9 465.3,116.8 465.6,91.3 465.9,113.9 466.3,100.1 466.6,118.7 466.9,101.4 467.2,115.6 467.5,100.1 467.8,110.9 468.1,92.5 468.5,117.0 468.8,99.2 469.1,87.4 469.4,78.8 469.7,63.9 470.0,90.9 470.4,95.1 470.7,102.7 471.0,118.0 471.3,104.3 471.6,100.5 471.9,91.7 472.2,125.0 472.6,98.9 472.9,121.7 473.2,126.6 473.5,115.8 473.8,97.4 474.1,124.9 474.4,104.5 474.8,119.0 475.1,96.5 475.4,113.9 475.7,96.9 476.0,99.6 476.3,93.3 476.7,74.9 477.0,89.4 477.3,97.0 477.6,100.2 477.9,120.9 478.2,103.0 478.5,111.8 478.9,101.4 479.2,116.9 479.5,101.6 479.8,126.2 480.1,115.1 480.4,116.5 480.8,104.3 481.1,120.1 481.4,93.8 481.7,127.3 482.0,102.9 482.3,119.7 482.6,103.8 483.0,116.9 483.3,94.9 483.6,114.4 483.9,103.1 484.2,117.6 484.5,102.7 484.8,113.2 485.2,90.4 485.5,119.9 485.8,98.0 486.1,97.8 486.4,103.3 486.7,116.3 487.1,101.7 487.4,124.0 487.7,99.6 488.0,118.7 488.3,98.4 488.6,115.6 488.9,104.3 489.3,116.6 489.6,102.0 489.9,124.2 490.2,121.4 490.5,115.7 490.8,117.4 491.1,122.9 491.5,93.6 491.8,118.9 492.1,107.5 492.4,118.0 492.7,99.5 493.0,120.1 493.4,100.3 493.7,118.5 494.0,107.9 494.3,114.1 494.6,87.7 494.9,76.6 495.2,52.3 495.6,74.4 495.9,88.6 496.2,98.0 496.5,95.4 496.8,116.1 497.1,99.1 497.4,101.4 497.8,96.2 498.1,89.6 498.4,80.7 498.7,94.8 499.0,100.5 499.3,104.6 499.6,87.0 500.0,114.2 500.3,108.6 500.6,119.0 500.9,97.7 501.2,98.8 501.5,86.9 501.9,66.9 502.2,77.5 502.5,86.6 502.8,95.9 503.1,127.3 503.4,104.0 503.7,123.0 504.1,103.8 504.4,118.7 504.7,101.0 505.0,119.2 505.3,94.6 505.6,118.3 505.9,91.8 506.3,116.0 506.6,103.8 506.9,117.5 507.2,99.7 507.5,124.4 507.8,97.8 508.2,95.8 508.5,86.0 508.8,74.9 509.1,82.7 509.4,98.5 509.7,103.0 510.0,121.0 510.4,100.5 510.7,118.0 511.0,102.4 511.3,120.9 511.6,91.5 511.9,99.6 512.2,92.3 512.6,79.7 512.9,86.3 513.2,80.0 513.5,92.6 513.8,99.2 514.1,103.0 514.5,114.1 514.8,93.8 515.1,123.7 515.4,117.5 515.7,125.3 516.0,114.4 516.3,117.5 516.7,103.7 517.0,124.0 517.3,98.7 517.6,115.2 517.9,81.9 518.2,119.1 518.5,103.4 518.9,114.3 519.2,97.9 519.5,118.1 519.8,106.5 520.1,114.1 520.4,104.7 520.8,123.9 521.1,92.6 521.4,110.3 521.7,85.9 522.0,118.1 522.3,100.3 522.6,114.0 523.0,104.1 523.3,121.9 523.6,102.3 523.9,114.4 524.2,122.1 524.5,118.2 524.9,101.9 525.2,118.4 525.5,100.1 525.8,94.3 526.1,88.4 526.4,80.0 526.7,92.8 527.1,101.6 527.4,91.2 527.7,101.5 528.0,97.8 528.3,94.9 528.6,85.1 528.9,92.3 529.3,100.4 529.6,99.8 529.9,98.5 530.2,119.0 530.5,103.1 530.8,114.0 531.1,101.8 531.5,114.5 531.8,92.9 532.1,118.5 532.4,100.3 532.7,90.7 533.0,95.8 533.4,118.2 533.7,98.9 534.0,127.3 534.3,98.0 534.6,117.6 534.9,103.2 535.2,124.3 535.6,103.4 535.9,121.3 536.2,94.5 536.5,120.4 536.8,100.8 537.1,114.4 537.5,95.6 537.8,93.7 538.1,76.6 538.4,56.9 538.7,82.8 539.0,92.6 539.3,96.4 539.7,97.7 540.0,88.3 540.3,77.8 540.6,87.4 540.9,93.8 541.2,101.2 541.5,124.1 541.9,100.3 542.2,118.3 542.5,98.4 542.8,116.8 543.1,94.0 543.4,125.6 543.8,100.4 544.1,124.8 544.4,102.3 544.7,117.8 545.0,97.3 545.3,114.5 545.6,104.4 546.0,119.7 546.3,101.0 546.6,122.7 546.9,97.1 547.2,118.6 547.5,91.9 547.8,120.3 548.2,95.2 548.5,118.3 548.8,96.1 549.1,100.3 549.4,96.4 549.7,90.1 550.0,77.1 550.4,91.0 550.7,94.3 551.0,119.8 551.3,103.2 551.6,116.5 551.9,95.3 552.3,116.3 552.6,94.4 552.9,103.1 553.2,107.3 553.5,110.9 553.8,103.2 554.1,121.2 554.5,97.3 554.8,116.7 555.1,95.6 555.4,94.7 555.7,89.5 556.0,80.3 556.4,90.9 556.7,100.0 557.0,102.7 557.3,115.0 557.6,90.9 557.9,118.3 558.2,99.8 558.6,104.5 558.9,111.8 559.2,115.6 559.5,100.7 559.8,102.8 560.1,102.4 560.4,121.3 560.8,98.6 561.1,114.9 561.4,95.7 561.7,121.7 562.0,101.0 562.3,115.3 562.6,83.9 563.0,117.1 563.3,101.6 563.6,119.8 563.9,93.3 564.2,95.2 564.5,78.5 564.9,40.9 565.2,78.0 565.5,88.1 565.8,88.3 566.1,81.9 566.4,69.5 566.7,83.6 567.1,93.0 567.4,118.6 567.7,121.4 568.0,120.2 568.3,92.9 568.6,122.0 569.0,94.0 569.3,116.1 569.6,88.0 569.9,125.4 570.2,99.4 570.5,117.9 570.8,91.4 571.2,115.9 571.5,90.4 571.8,115.5 572.1,88.9 572.4,119.6 572.7,97.2 573.0,119.6 573.4,103.3 573.7,119.4 574.0,103.6 574.3,119.6 574.6,96.1 574.9,119.8 575.2,96.3 575.6,99.2 575.9,104.6 576.2,118.8 576.5,95.2 576.8,115.4 577.1,109.0 577.5,115.9 577.8,100.7 578.1,115.8 578.4,104.5 578.7,101.2 579.0,104.9 579.3,124.8 579.7,103.6 580.0,116.5 580.3,97.3 580.6,124.9 580.9,104.0 581.2,116.3 581.5,99.6 581.9,115.8 582.2,101.1 582.5,115.0 582.8,99.9 583.1,120.1 583.4,96.8 583.8,98.4 584.1,89.9 584.4,69.0 584.7,84.4 585.0,94.3 585.3,90.8 585.6,78.4 586.0,61.3 586.3,74.7 586.6,93.9 586.9,116.1 587.2,101.7 587.5,117.8 587.9,100.1 588.2,121.7 588.5,99.4 588.8,124.5 589.1,95.7 589.4,112.1 589.7,104.3 590.1,113.9 590.4,99.2 590.7,115.4 591.0,98.4" fill="none" stroke="#401675" stroke-width="1.75" stroke-linejoin="round"/>
<line x1="426.05" y1="30.0" x2="426.05" y2="134.6" stroke="#333333" stroke-width="1.5"/>
<line x1="425.75" y1="133.4" x2="598.35" y2="133.4" stroke="#222" stroke-width="2.65"/>
<line x1="421.85" y1="48.25" x2="426.05" y2="48.25" stroke="#333333" stroke-width="1.4"/>
<text x="418.95" y="53.2" text-anchor="end" class="a">3</text>
<line x1="421.85" y1="77.0" x2="426.05" y2="77.0" stroke="#333333" stroke-width="1.4"/>
<text x="418.95" y="81.95" text-anchor="end" class="a">2</text>
<line x1="421.85" y1="105.75" x2="426.05" y2="105.75" stroke="#333333" stroke-width="1.4"/>
<text x="418.95" y="110.7" text-anchor="end" class="a">1</text>
<line x1="433.50" y1="134.4" x2="433.50" y2="137.1" stroke="#333333" stroke-width="1.4"/>
<text x="433.50" y="149.20000000000002" text-anchor="middle" class="a">500</text>
<line x1="465.00" y1="134.4" x2="465.00" y2="137.1" stroke="#333333" stroke-width="1.4"/>
<text x="465.00" y="149.20000000000002" text-anchor="middle" class="a">600</text>
<line x1="496.50" y1="134.4" x2="496.50" y2="137.1" stroke="#333333" stroke-width="1.4"/>
<text x="496.50" y="149.20000000000002" text-anchor="middle" class="a">700</text>
<line x1="528.00" y1="134.4" x2="528.00" y2="137.1" stroke="#333333" stroke-width="1.4"/>
<text x="528.00" y="149.20000000000002" text-anchor="middle" class="a">800</text>
<line x1="559.50" y1="134.4" x2="559.50" y2="137.1" stroke="#333333" stroke-width="1.4"/>
<text x="559.50" y="149.20000000000002" text-anchor="middle" class="a">900</text>
<line x1="591.00" y1="134.4" x2="591.00" y2="137.1" stroke="#333333" stroke-width="1.4"/>
<text x="591.00" y="149.20000000000002" text-anchor="middle" class="a">1000</text>
<text x="512.20" y="23.0" text-anchor="middle" class="s">alpha[3]</text>
<polyline points="47.8,252.5 48.1,252.4 48.4,263.8 48.8,242.8 49.1,262.6 49.4,252.2 49.7,269.7 50.0,243.9 50.3,265.8 50.6,247.7 51.0,267.8 51.3,242.2 51.6,268.3 51.9,231.5 52.2,269.5 52.5,252.0 52.9,251.5 53.2,238.9 53.5,232.6 53.8,194.5 54.1,226.5 54.4,232.8 54.7,264.6 55.1,248.7 55.4,270.8 55.7,248.2 56.0,271.5 56.3,252.5 56.6,276.4 57.0,257.2 57.3,266.6 57.6,249.3 57.9,250.2 58.2,247.4 58.5,266.5 58.8,250.4 59.2,272.0 59.5,243.7 59.8,269.8 60.1,238.7 60.4,246.6 60.7,228.1 61.0,271.2 61.4,251.8 61.7,271.6 62.0,229.3 62.3,266.0 62.6,245.3 62.9,269.2 63.2,251.5 63.6,276.6 63.9,265.0 64.2,268.0 64.5,229.8 64.8,276.9 65.1,264.5 65.5,271.5 65.8,227.2 66.1,271.7 66.4,250.6 66.7,248.0 67.0,246.2 67.3,231.7 67.7,241.1 68.0,247.4 68.3,251.3 68.6,271.4 68.9,241.5 69.2,274.4 69.5,266.0 69.9,242.2 70.2,236.7 70.5,267.3 70.8,248.7 71.1,232.9 71.4,226.5 71.8,213.2 72.1,230.3 72.4,235.6 72.7,241.8 73.0,259.6 73.3,251.6 73.6,266.3 74.0,236.8 74.3,270.6 74.6,264.0 74.9,265.6 75.2,241.8 75.5,270.1 75.8,242.9 76.2,265.0 76.5,236.7 76.8,267.1 77.1,252.2 77.4,266.4 77.7,248.3 78.1,264.3 78.4,249.0 78.7,238.7 79.0,228.2 79.3,202.8 79.6,224.0 79.9,233.0 80.3,246.3 80.6,268.3 80.9,254.4 81.2,272.3 81.5,246.6 81.8,251.9 82.2,247.0 82.5,239.9 82.8,219.6 83.1,234.8 83.4,241.1 83.7,244.9 84.0,261.4 84.4,265.7 84.7,244.8 85.0,248.7 85.3,239.2 85.6,235.2 85.9,210.6 86.2,223.4 86.6,231.6 86.9,244.7 87.2,228.3 87.5,208.8 87.8,228.6 88.1,245.1 88.5,241.6 88.8,269.0 89.1,251.0 89.4,264.1 89.7,252.7 90.0,263.6 90.3,251.4 90.7,266.8 91.0,238.8 91.3,230.4 91.6,200.4 91.9,227.1 92.2,238.0 92.5,250.9 92.9,245.5 93.2,266.1 93.5,250.1 93.8,245.1 94.1,235.9 94.4,204.7 94.8,237.3 95.1,245.0 95.4,250.4 95.7,268.3 96.0,250.6 96.3,266.4 96.6,236.1 97.0,269.7 97.3,269.2 97.6,268.4 97.9,246.7 98.2,267.8 98.5,246.9 98.8,264.8 99.2,249.3 99.5,267.5 99.8,251.0 100.1,269.0 100.4,247.3 100.7,232.4 101.0,241.9 101.4,270.1 101.7,233.9 102.0,264.9 102.3,237.9 102.6,265.3 102.9,251.6 103.3,269.4 103.6,252.0 103.9,266.3 104.2,241.4 104.5,270.2 104.8,246.1 105.1,274.8 105.5,247.7 105.8,275.9 106.1,250.9 106.4,248.3 106.7,232.9 107.0,233.9 107.3,222.5 107.7,241.7 108.0,247.4 108.3,264.5 108.6,242.1 108.9,266.0 109.2,250.5 109.6,267.7 109.9,249.6 110.2,249.0 110.5,244.1 110.8,266.0 111.1,249.3 111.4,265.6 111.8,250.8 112.1,264.2 112.4,246.7 112.7,272.5 113.0,250.0 113.3,267.8 113.7,240.5 114.0,244.1 114.3,246.0 114.6,268.1 114.9,242.5 115.2,241.1 115.5,224.5 115.9,205.5 116.2,235.5 116.5,243.6 116.8,231.2 117.1,265.3 117.4,252.8 117.7,269.5 118.1,265.0 118.4,271.2 118.7,230.1 119.0,277.2 119.3,237.7 119.6,269.5 120.0,246.8 120.3,267.6 120.6,252.7 120.9,266.4 121.2,266.8 121.5,264.0 121.8,249.0 122.2,261.4 122.5,252.8 122.8,261.5 123.1,232.7 123.4,267.8 123.7,263.8 124.0,249.9 124.4,247.6 124.7,269.7 125.0,263.8 125.3,271.4 125.6,252.4 125.9,277.1 126.2,245.5 126.6,265.3 126.9,236.9 127.2,225.8 127.5,212.8 127.8,238.3 128.1,239.6 128.5,230.5 128.8,204.4 129.1,227.5 129.4,241.3 129.7,232.3 130.0,222.2 130.3,236.7 130.7,247.0 131.0,265.2 131.3,245.7 131.6,268.6 131.9,245.2 132.2,271.5 132.6,239.8 132.9,270.1 133.2,250.0 133.5,270.5 133.8,238.8 134.1,266.0 134.4,250.8 134.8,263.7 135.1,245.7 135.4,269.6 135.7,248.2 136.0,268.8 136.3,250.5 136.6,265.7 137.0,242.6 137.3,264.8 137.6,247.6 137.9,260.6 138.2,244.5 138.5,252.5 138.8,251.6 139.2,268.9 139.5,245.8 139.8,271.9 140.1,246.4 140.4,258.9 140.7,243.5 141.1,244.1 141.4,249.9 141.7,272.0 142.0,245.8 142.3,246.9 142.6,242.5 142.9,259.2 143.3,247.3 143.6,273.8 143.9,242.0 144.2,275.0 144.5,250.9 144.8,264.7 145.2,230.1 145.5,271.1 145.8,250.1 146.1,263.7 146.4,245.7 146.7,264.5 147.0,238.6 147.4,252.0 147.7,266.4 148.0,264.6 148.3,243.8 148.6,266.5 148.9,247.9 149.2,268.7 149.6,244.3 149.9,272.5 150.2,241.7 150.5,267.2 150.8,252.3 151.1,267.7 151.4,248.2 151.8,271.5 152.1,244.7 152.4,267.4 152.7,227.5 153.0,271.5 153.3,245.7 153.7,246.7 154.0,233.4 154.3,223.0 154.6,231.3 154.9,237.6 155.2,239.6 155.5,274.4 155.9,250.3 156.2,271.9 156.5,250.1 156.8,268.7 157.1,252.3 157.4,266.1 157.8,241.3 158.1,268.8 158.4,243.7 158.7,269.5 159.0,246.0 159.3,249.3 159.6,229.4 160.0,232.4 160.3,241.8 160.6,247.4 160.9,251.8 161.2,266.9 161.5,229.3 161.8,269.9 162.2,265.1 162.5,261.0 162.8,246.3 163.1,275.1 163.4,248.6 163.7,267.8 164.1,248.7 164.4,268.9 164.7,246.5 165.0,274.5 165.3,266.0 165.6,267.8 165.9,252.1 166.3,273.8 166.6,249.6 166.9,268.7 167.2,231.8 167.5,265.0 167.8,246.7 168.1,265.5 168.5,246.2 168.8,268.6 169.1,251.1 169.4,263.9 169.7,250.6 170.0,275.0 170.3,239.5 170.7,268.2 171.0,243.3 171.3,273.7 171.6,240.0 171.9,269.7 172.2,249.6 172.6,272.1 172.9,252.8 173.2,269.7 173.5,251.9 173.8,247.9 174.1,248.6 174.4,247.4 174.8,243.1 175.1,221.5 175.4,234.5 175.7,243.2 176.0,250.9 176.3,269.2 176.7,243.3 177.0,259.8 177.3,251.4 177.6,264.0 177.9,271.3 178.2,266.9 178.5,246.8 178.9,270.3 179.2,247.4 179.5,274.4 179.8,267.7 180.1,267.1 180.4,246.4 180.7,248.1 181.1,249.3 181.4,252.0 181.7,248.2 182.0,269.8 182.3,250.5 182.6,247.1 182.9,234.5 183.3,231.7 183.6,238.5 183.9,249.0 184.2,258.2 184.5,251.4 184.8,230.0 185.2,264.4 185.5,249.6 185.8,246.8 186.1,237.5 186.4,216.1 186.7,232.8 187.0,243.7 187.4,232.9 187.7,274.4 188.0,251.8 188.3,259.1 188.6,235.4 188.9,265.8 189.2,245.4 189.6,268.1 189.9,247.9 190.2,262.4 190.5,234.9 190.8,231.5 191.1,205.9 191.5,185.8 191.8,220.8 192.1,228.8 192.4,235.4 192.7,278.0 193.0,243.6 193.3,277.0 193.7,238.4 194.0,266.4 194.3,252.6 194.6,276.8 194.9,250.8 195.2,250.5 195.6,241.4 195.9,237.9 196.2,223.7 196.5,237.7 196.8,234.6 197.1,250.1 197.4,271.1 197.8,268.4 198.1,235.2 198.4,271.3 198.7,242.3 199.0,244.6 199.3,239.4 199.6,228.1 200.0,235.5 200.3,241.7 200.6,226.2 200.9,214.2 201.2,237.6 201.5,243.6 201.8,247.1 202.2,249.3 202.5,240.2 202.8,228.8 203.1,242.7 203.4,250.3 203.7,243.2 204.1,231.6 204.4,224.4 204.7,199.6 205.0,228.0" fill="none" stroke="#E25A14" stroke-width="1.75" stroke-linejoin="round"/>
<polyline points="47.8,249.5 48.1,262.3 48.4,250.7 48.8,263.5 49.1,246.4 49.4,248.2 49.7,240.7 50.0,221.9 50.3,242.3 50.6,250.7 51.0,246.8 51.3,247.2 51.6,266.8 51.9,265.9 52.2,257.0 52.5,265.6 52.9,245.3 53.2,272.9 53.5,255.6 53.8,274.4 54.1,249.6 54.4,269.1 54.7,249.3 55.1,238.6 55.4,248.2 55.7,240.2 56.0,232.9 56.3,220.0 56.6,237.8 57.0,243.4 57.3,245.5 57.6,272.0 57.9,250.9 58.2,264.3 58.5,263.6 58.8,272.9 59.2,251.1 59.5,264.2 59.8,249.6 60.1,277.0 60.4,237.9 60.7,242.9 61.0,243.6 61.4,274.8 61.7,243.9 62.0,271.3 62.3,241.8 62.6,264.4 62.9,253.3 63.2,247.8 63.6,242.5 63.9,229.8 64.2,240.2 64.5,246.9 64.8,252.7 65.1,268.0 65.5,252.8 65.8,265.6 66.1,250.4 66.4,265.0 66.7,238.6 67.0,262.9 67.3,251.6 67.7,252.7 68.0,246.1 68.3,250.0 68.6,247.2 68.9,268.4 69.2,249.8 69.5,273.5 69.9,240.1 70.2,264.0 70.5,242.6 70.8,263.9 71.1,241.4 71.4,269.1 71.8,245.0 72.1,266.1 72.4,251.9 72.7,248.7 73.0,233.8 73.3,231.9 73.6,209.8 74.0,224.9 74.3,235.2 74.6,247.4 74.9,251.0 75.2,265.3 75.5,244.3 75.8,266.5 76.2,234.3 76.5,265.9 76.8,250.6 77.1,264.1 77.4,242.4 77.7,265.5 78.1,255.8 78.4,263.4 78.7,240.7 79.0,274.2 79.3,245.7 79.6,269.2 79.9,243.5 80.3,239.3 80.6,247.6 80.9,265.1 81.2,256.0 81.5,247.9 81.8,249.5 82.2,265.1 82.5,245.3 82.8,269.7 83.1,247.1 83.4,272.0 83.7,258.0 84.0,271.7 84.4,269.8 84.7,268.8 85.0,250.3 85.3,267.4 85.6,250.4 85.9,269.1 86.2,230.7 86.6,265.7 86.9,264.7 87.2,268.8 87.5,247.8 87.8,275.6 88.1,251.9 88.5,269.0 88.8,244.6 89.1,267.9 89.4,230.7 89.7,265.4 90.0,246.4 90.3,269.7 90.7,251.5 91.0,265.7 91.3,238.9 91.6,271.1 91.9,243.7 92.2,277.5 92.5,252.1 92.9,274.9 93.2,252.4 93.5,269.4 93.8,234.8 94.1,273.1 94.4,246.7 94.8,265.6 95.1,231.0 95.4,269.8 95.7,249.5 96.0,264.0 96.3,236.6 96.6,277.6 97.0,233.7 97.3,251.2 97.6,237.8 97.9,232.3 98.2,213.8 98.5,229.2 98.8,239.9 99.2,248.5 99.5,246.7 99.8,264.7 100.1,244.7 100.4,270.4 100.7,244.5 101.0,269.1 101.4,250.2 101.7,263.6 102.0,242.2 102.3,267.9 102.6,243.9 102.9,267.4 103.3,264.5 103.6,264.2 103.9,216.8 104.2,206.4 104.5,190.2 104.8,215.3 105.1,235.9 105.5,239.4 105.8,252.1 106.1,276.3 106.4,257.3 106.7,266.5 107.0,267.6 107.3,274.4 107.7,253.0 108.0,237.4 108.3,250.8 108.6,248.0 108.9,251.1 109.2,268.7 109.6,237.5 109.9,268.9 110.2,244.0 110.5,272.9 110.8,233.3 111.1,275.0 111.4,249.3 111.8,247.4 112.1,249.5 112.4,246.7 112.7,274.0 113.0,263.8 113.3,249.8 113.7,268.7 114.0,250.8 114.3,265.7 114.6,268.1 114.9,266.9 115.2,247.6 115.5,274.7 115.9,232.7 116.2,265.9 116.5,263.8 116.8,265.9 117.1,246.5 117.4,266.3 117.7,239.1 118.1,267.3 118.4,240.6 118.7,267.4 119.0,274.4 119.3,268.2 119.6,249.6 120.0,264.3 120.3,250.7 120.6,265.4 120.9,243.1 121.2,267.3 121.5,266.3 121.8,267.5 122.2,246.6 122.5,267.7 122.8,248.6 123.1,240.3 123.4,230.3 123.7,239.8 124.0,242.7 124.4,269.6 124.7,249.9 125.0,264.7 125.3,243.0 125.6,239.6 125.9,215.7 126.2,230.5 126.6,215.7 126.9,238.2 127.2,246.2 127.5,268.3 127.8,241.9 128.1,263.6 128.5,249.1 128.8,260.0 129.1,269.2 129.4,266.6 129.7,273.1 130.0,274.2 130.3,242.2 130.7,264.9 131.0,252.2 131.3,266.2 131.6,243.9 131.9,265.2 132.2,246.2 132.6,264.4 132.9,242.7 133.2,236.0 133.5,214.7 133.8,232.8 134.1,242.4 134.4,247.0 134.8,239.7 135.1,268.6 135.4,240.8 135.7,265.7 136.0,242.7 136.3,265.8 136.6,247.4 137.0,275.9 137.3,251.6 137.6,269.9 137.9,239.7 138.2,268.3 138.5,243.0 138.8,271.8 139.2,247.9 139.5,273.5 139.8,246.2 140.1,269.5 140.4,244.9 140.7,261.0 141.1,245.1 141.4,259.9 141.7,244.0 142.0,244.0 142.3,229.1 142.6,217.6 142.9,228.3 143.3,242.5 143.6,237.8 143.9,263.8 144.2,244.8 144.5,249.9 144.8,230.1 145.2,238.3 145.5,225.9 145.8,243.7 146.1,248.1 146.4,271.7 146.7,267.8 147.0,271.6 147.4,251.4 147.7,244.8 148.0,241.7 148.3,269.3 148.6,249.5 148.9,263.9 149.2,249.1 149.6,266.7 149.9,270.3 150.2,251.1 150.5,244.4 150.8,236.4 151.1,224.0 151.4,232.6 151.8,240.3 152.1,263.7 152.4,237.8 152.7,264.3 153.0,251.7 153.3,275.0 153.7,275.3 154.0,274.2 154.3,266.1 154.6,266.2 154.9,238.1 155.2,265.1 155.5,257.4 155.9,263.9 156.2,267.5 156.5,249.3 156.8,239.5 157.1,214.7 157.4,234.9 157.8,243.3 158.1,250.1 158.4,241.2 158.7,238.4 159.0,269.1 159.3,249.1 159.6,272.0 160.0,240.6 160.3,271.3 160.6,252.9 160.9,264.5 161.2,246.1 161.5,270.9 161.8,255.3 162.2,268.9 162.5,245.6 162.8,265.3 163.1,234.1 163.4,218.7 163.7,202.5 164.1,224.8 164.4,231.1 164.7,243.9 165.0,245.1 165.3,240.5 165.6,230.5 165.9,215.2 166.3,239.0 166.6,247.4 166.9,266.6 167.2,266.4 167.5,244.1 167.8,260.6 168.1,268.3 168.5,267.8 168.8,241.4 169.1,275.9 169.4,234.9 169.7,268.3 170.0,243.4 170.3,265.1 170.7,233.2 171.0,266.3 171.3,247.9 171.6,268.8 171.9,246.7 172.2,270.8 172.6,241.5 172.9,268.2 173.2,244.9 173.5,269.7 173.8,244.9 174.1,267.0 174.4,245.0 174.8,264.3 175.1,247.1 175.4,272.5 175.7,250.2 176.0,269.7 176.3,251.5 176.7,264.8 177.0,245.0 177.3,242.1 177.6,224.3 177.9,208.4 178.2,221.7 178.5,234.5 178.9,230.3 179.2,267.7 179.5,247.8 179.8,240.9 180.1,244.0 180.4,259.5 180.7,236.8 181.1,262.2 181.4,267.9 181.7,268.6 182.0,242.8 182.3,266.4 182.6,256.5 182.9,266.7 183.3,250.7 183.6,275.6 183.9,242.7 184.2,265.4 184.5,251.3 184.8,268.8 185.2,251.7 185.5,260.2 185.8,235.7 186.1,271.1 186.4,250.9 186.7,264.6 187.0,245.5 187.4,271.0 187.7,238.1 188.0,268.0 188.3,253.0 188.6,265.6 188.9,243.8 189.2,263.6 189.6,254.0 189.9,263.9 190.2,252.7 190.5,274.7 190.8,247.3 191.1,266.3 191.5,244.7 191.8,266.0 192.1,252.1 192.4,271.4 192.7,251.4 193.0,268.5 193.3,246.0 193.7,244.3 194.0,231.7 194.3,241.7 194.6,247.2 194.9,253.7 195.2,245.9 195.6,271.6 195.9,247.9 196.2,265.5 196.5,248.3 196.8,268.9 197.1,249.5 197.4,252.5 197.8,246.8 198.1,265.1 198.4,266.6 198.7,266.2 199.0,252.0 199.3,264.0 199.6,246.5 200.0,263.6 200.3,244.5 200.6,264.6 200.9,247.9 201.2,263.9 201.5,240.6 201.8,252.7 202.2,237.6 202.5,269.0 202.8,254.2 203.1,265.1 203.4,243.3 203.7,269.3 204.1,246.5 204.4,266.0 204.7,245.7 205.0,268.2" fill="none" stroke="#998DC5" stroke-width="1.75" stroke-linejoin="round"/>
<polyline points="47.8,250.8 48.1,243.2 48.4,236.1 48.8,241.0 49.1,245.4 49.4,245.2 49.7,264.5 50.0,268.9 50.3,266.5 50.6,239.4 51.0,264.4 51.3,246.3 51.6,262.4 51.9,249.7 52.2,265.0 52.5,243.2 52.9,271.6 53.2,247.1 53.5,236.9 53.8,211.3 54.1,231.5 54.4,241.7 54.7,252.1 55.1,247.4 55.4,267.0 55.7,248.7 56.0,264.4 56.3,252.6 56.6,268.7 57.0,258.3 57.3,229.4 57.6,217.2 57.9,193.1 58.2,227.6 58.5,242.0 58.8,246.5 59.2,268.5 59.5,245.9 59.8,270.8 60.1,252.7 60.4,277.4 60.7,242.2 61.0,236.3 61.4,220.8 61.7,242.4 62.0,247.8 62.3,269.2 62.6,244.7 62.9,267.6 63.2,239.9 63.6,265.5 63.9,233.7 64.2,262.5 64.5,252.7 64.8,265.4 65.1,237.5 65.5,253.5 65.8,243.8 66.1,264.6 66.4,252.0 66.7,268.9 67.0,243.0 67.3,266.0 67.7,234.7 68.0,273.1 68.3,245.1 68.6,274.0 68.9,242.7 69.2,264.3 69.5,252.1 69.9,266.5 70.2,245.5 70.5,268.0 70.8,250.5 71.1,270.6 71.4,268.4 71.8,265.0 72.1,251.1 72.4,274.7 72.7,251.3 73.0,249.8 73.3,241.7 73.6,228.4 74.0,243.2 74.3,249.1 74.6,251.2 74.9,273.4 75.2,277.1 75.5,265.1 75.8,251.5 76.2,269.0 76.5,244.6 76.8,250.8 77.1,243.5 77.4,231.7 77.7,243.4 78.1,248.9 78.4,247.0 78.7,268.0 79.0,266.8 79.3,266.4 79.6,271.4 79.9,230.6 80.3,247.0 80.6,271.7 80.9,239.0 81.2,268.0 81.5,250.0 81.8,253.2 82.2,249.3 82.5,240.5 82.8,223.7 83.1,239.2 83.4,232.7 83.7,268.5 84.0,231.1 84.4,248.5 84.7,246.2 85.0,269.2 85.3,251.6 85.6,271.7 85.9,240.8 86.2,267.3 86.6,236.8 86.9,265.6 87.2,238.4 87.5,264.1 87.8,250.0 88.1,244.3 88.5,240.0 88.8,223.7 89.1,239.4 89.4,242.7 89.7,234.8 90.0,266.0 90.3,248.7 90.7,275.7 91.0,252.0 91.3,263.9 91.6,252.5 91.9,246.6 92.2,249.6 92.5,242.0 92.9,220.8 93.2,229.7 93.5,240.7 93.8,266.1 94.1,241.5 94.4,235.5 94.8,241.5 95.1,237.0 95.4,225.9 95.7,240.0 96.0,245.3 96.3,249.5 96.6,274.6 97.0,266.0 97.3,242.4 97.6,259.2 97.9,252.4 98.2,270.8 98.5,249.7 98.8,244.3 99.2,249.3 99.5,277.7 99.8,250.1 100.1,269.7 100.4,237.2 100.7,228.6 101.0,212.3 101.4,233.0 101.7,242.2 102.0,251.3 102.3,243.3 102.6,238.2 102.9,231.0 103.3,243.8 103.6,247.9 103.9,245.9 104.2,246.0 104.5,267.8 104.8,248.4 105.1,268.8 105.5,247.1 105.8,244.4 106.1,252.5 106.4,274.2 106.7,239.2 107.0,266.1 107.3,245.9 107.7,263.9 108.0,246.2 108.3,248.4 108.6,237.2 108.9,232.4 109.2,239.9 109.6,249.1 109.9,242.6 110.2,265.1 110.5,267.5 110.8,269.3 111.1,250.7 111.4,248.8 111.8,244.9 112.1,235.1 112.4,244.8 112.7,248.8 113.0,251.8 113.3,270.6 113.7,250.8 114.0,267.6 114.3,248.2 114.6,265.2 114.9,247.7 115.2,276.8 115.5,270.1 115.9,272.2 116.2,246.6 116.5,261.4 116.8,244.1 117.1,240.7 117.4,225.2 117.7,240.1 118.1,243.0 118.4,253.7 118.7,238.9 119.0,270.0 119.3,237.3 119.6,272.6 120.0,249.8 120.3,246.8 120.6,235.4 120.9,235.7 121.2,242.6 121.5,250.1 121.8,252.7 122.2,264.3 122.5,234.7 122.8,264.7 123.1,250.3 123.4,269.3 123.7,249.6 124.0,270.3 124.4,250.3 124.7,265.7 125.0,251.0 125.3,272.5 125.6,249.4 125.9,267.4 126.2,272.3 126.6,268.6 126.9,240.8 127.2,267.1 127.5,249.2 127.8,271.1 128.1,245.5 128.5,268.4 128.8,247.3 129.1,269.4 129.4,243.9 129.7,237.0 130.0,228.1 130.3,239.9 130.7,245.6 131.0,232.8 131.3,243.2 131.6,274.7 131.9,237.9 132.2,267.3 132.6,249.8 132.9,277.8 133.2,242.4 133.5,271.0 133.8,249.8 134.1,245.8 134.4,249.2 134.8,268.3 135.1,251.0 135.4,271.8 135.7,252.4 136.0,247.9 136.3,237.3 136.6,215.1 137.0,200.7 137.3,216.3 137.6,224.8 137.9,222.5 138.2,211.3 138.5,233.1 138.8,243.3 139.2,248.2 139.5,238.9 139.8,226.9 140.1,198.6 140.4,217.2 140.7,232.4 141.1,240.5 141.4,231.3 141.7,274.9 142.0,243.0 142.3,264.2 142.6,249.0 142.9,246.9 143.3,242.8 143.6,229.5 143.9,236.2 144.2,247.5 144.5,253.1 144.8,270.2 145.2,250.6 145.5,268.0 145.8,248.6 146.1,264.8 146.4,252.0 146.7,270.4 147.0,238.5 147.4,247.4 147.7,265.2 148.0,262.5 148.3,252.4 148.6,252.7 148.9,245.7 149.2,240.9 149.6,235.4 149.9,243.3 150.2,246.4 150.5,268.0 150.8,248.0 151.1,266.7 151.4,245.5 151.8,249.0 152.1,247.8 152.4,238.4 152.7,231.0 153.0,237.1 153.3,235.5 153.7,266.1 154.0,265.0 154.3,269.9 154.6,269.6 154.9,267.7 155.2,249.6 155.5,268.3 155.9,256.0 156.2,268.4 156.5,250.1 156.8,251.3 157.1,242.0 157.4,238.5 157.8,222.5 158.1,240.1 158.4,245.2 158.7,267.1 159.0,227.8 159.3,246.7 159.6,242.1 160.0,271.3 160.3,240.9 160.6,268.8 160.9,250.6 161.2,264.4 161.5,246.8 161.8,268.2 162.2,247.3 162.5,268.1 162.8,241.7 163.1,263.9 163.4,244.5 163.7,267.5 164.1,250.1 164.4,265.8 164.7,245.5 165.0,236.4 165.3,225.2 165.6,236.0 165.9,245.3 166.3,244.5 166.6,250.8 166.9,264.4 167.2,241.2 167.5,264.4 167.8,244.2 168.1,229.8 168.5,196.7 168.8,226.6 169.1,243.1 169.4,269.7 169.7,245.3 170.0,264.5 170.3,240.4 170.7,271.5 171.0,241.9 171.3,246.7 171.6,240.1 171.9,229.5 172.2,237.4 172.6,244.4 172.9,256.8 173.2,264.6 173.5,237.4 173.8,251.5 174.1,244.8 174.4,241.1 174.8,230.7 175.1,244.2 175.4,249.9 175.7,253.3 176.0,247.2 176.3,247.2 176.7,243.2 177.0,271.0 177.3,241.4 177.6,264.0 177.9,244.3 178.2,247.3 178.5,251.7 178.9,269.3 179.2,247.1 179.5,266.3 179.8,240.4 180.1,227.6 180.4,217.9 180.7,234.4 181.1,240.7 181.4,252.8 181.7,232.7 182.0,271.5 182.3,251.4 182.6,270.0 182.9,246.1 183.3,265.3 183.6,247.9 183.9,274.0 184.2,230.7 184.5,265.9 184.8,248.2 185.2,271.7 185.5,246.6 185.8,233.5 186.1,224.4 186.4,236.3 186.7,241.0 187.0,265.4 187.4,249.5 187.7,269.1 188.0,237.2 188.3,277.2 188.6,242.0 188.9,265.3 189.2,242.1 189.6,267.4 189.9,244.4 190.2,240.1 190.5,233.2 190.8,247.1 191.1,249.4 191.5,266.2 191.8,236.5 192.1,271.2 192.4,228.2 192.7,265.5 193.0,237.2 193.3,265.4 193.7,247.8 194.0,267.6 194.3,247.9 194.6,263.6 194.9,236.3 195.2,268.4 195.6,246.0 195.9,269.1 196.2,249.4 196.5,266.5 196.8,229.6 197.1,252.7 197.4,249.8 197.8,263.8 198.1,252.5 198.4,266.8 198.7,246.1 199.0,264.9 199.3,250.6 199.6,263.5 200.0,251.8 200.3,241.5 200.6,233.8 200.9,218.6 201.2,228.4 201.5,234.5 201.8,237.7 202.2,266.6 202.5,247.2 202.8,273.3 203.1,245.7 203.4,274.3 203.7,234.1 204.1,242.3 204.4,225.7 204.7,205.5 205.0,231.8" fill="none" stroke="#401675" stroke-width="1.75" stroke-linejoin="round"/>
<line x1="40.05" y1="181.0" x2="40.05" y2="285.59999999999997" stroke="#333333" stroke-width="1.5"/>
<line x1="39.75" y1="284.4" x2="212.35000000000002" y2="284.4" stroke="#222" stroke-width="2.65"/>
<line x1="35.849999999999994" y1="196.0" x2="40.05" y2="196.0" stroke="#333333" stroke-width="1.4"/>
<text x="32.949999999999996" y="200.95" text-anchor="end" class="a">3</text>
<line x1="35.849999999999994" y1="225.6" x2="40.05" y2="225.6" stroke="#333333" stroke-width="1.4"/>
<text x="32.949999999999996" y="230.54999999999998" text-anchor="end" class="a">2</text>
<line x1="35.849999999999994" y1="255.25" x2="40.05" y2="255.25" stroke="#333333" stroke-width="1.4"/>
<text x="32.949999999999996" y="260.2" text-anchor="end" class="a">1</text>
<line x1="47.50" y1="285.4" x2="47.50" y2="288.09999999999997" stroke="#333333" stroke-width="1.4"/>
<text x="47.50" y="300.2" text-anchor="middle" class="a">500</text>
<line x1="79.00" y1="285.4" x2="79.00" y2="288.09999999999997" stroke="#333333" stroke-width="1.4"/>
<text x="79.00" y="300.2" text-anchor="middle" class="a">600</text>
<line x1="110.50" y1="285.4" x2="110.50" y2="288.09999999999997" stroke="#333333" stroke-width="1.4"/>
<text x="110.50" y="300.2" text-anchor="middle" class="a">700</text>
<line x1="142.00" y1="285.4" x2="142.00" y2="288.09999999999997" stroke="#333333" stroke-width="1.4"/>
<text x="142.00" y="300.2" text-anchor="middle" class="a">800</text>
<line x1="173.50" y1="285.4" x2="173.50" y2="288.09999999999997" stroke="#333333" stroke-width="1.4"/>
<text x="173.50" y="300.2" text-anchor="middle" class="a">900</text>
<line x1="205.00" y1="285.4" x2="205.00" y2="288.09999999999997" stroke="#333333" stroke-width="1.4"/>
<text x="205.00" y="300.2" text-anchor="middle" class="a">1000</text>
<text x="126.20" y="174.0" text-anchor="middle" class="s">alpha[4]</text>
<polyline points="240.8,251.6 241.1,259.9 241.4,253.9 241.8,266.8 242.1,252.1 242.4,265.1 242.7,246.2 243.0,268.6 243.3,247.8 243.7,265.1 244.0,254.7 244.3,267.5 244.6,245.8 244.9,243.9 245.2,253.1 245.5,268.0 245.9,249.8 246.2,233.3 246.5,227.6 246.8,214.2 247.1,226.2 247.4,235.3 247.7,246.9 248.1,254.8 248.4,262.7 248.7,267.8 249.0,253.4 249.3,268.2 249.6,246.6 249.9,265.1 250.3,242.5 250.6,265.6 250.9,251.4 251.2,252.3 251.5,246.9 251.8,268.2 252.2,249.4 252.5,264.8 252.8,254.2 253.1,274.5 253.4,252.8 253.7,268.7 254.0,252.3 254.4,264.6 254.7,244.0 255.0,239.7 255.3,215.7 255.6,229.3 255.9,218.7 256.2,200.8 256.6,235.4 256.9,245.1 257.2,245.7 257.5,261.5 257.8,251.1 258.1,265.0 258.5,266.6 258.8,273.6 259.1,247.0 259.4,261.0 259.7,252.5 260.0,268.7 260.3,252.4 260.7,265.9 261.0,241.3 261.3,270.0 261.6,251.3 261.9,265.4 262.2,241.9 262.6,262.3 262.9,245.3 263.2,266.0 263.5,252.4 263.8,269.9 264.1,251.6 264.4,246.2 264.8,267.4 265.1,268.4 265.4,251.0 265.7,248.2 266.0,242.8 266.3,234.6 266.6,217.9 267.0,241.3 267.3,250.1 267.6,269.4 267.9,250.6 268.2,273.3 268.5,249.9 268.9,271.8 269.2,243.1 269.5,268.7 269.8,270.2 270.1,268.3 270.4,252.6 270.7,253.3 271.1,247.9 271.4,243.6 271.7,228.4 272.0,238.7 272.3,244.8 272.6,236.0 272.9,219.0 273.3,232.2 273.6,240.5 273.9,265.4 274.2,247.9 274.5,265.7 274.8,269.5 275.1,271.2 275.5,253.1 275.8,265.0 276.1,254.5 276.4,261.0 276.7,267.9 277.0,266.5 277.4,240.1 277.7,265.2 278.0,248.6 278.3,236.3 278.6,218.1 278.9,185.8 279.2,225.1 279.6,232.2 279.9,198.9 280.2,224.7 280.5,235.7 280.8,268.3 281.1,256.1 281.4,274.2 281.8,247.5 282.1,269.7 282.4,241.7 282.7,267.9 283.0,249.0 283.3,267.0 283.7,244.7 284.0,267.7 284.3,274.8 284.6,265.1 284.9,244.0 285.2,272.6 285.5,266.8 285.9,271.1 286.2,250.2 286.5,269.1 286.8,243.4 287.1,269.0 287.4,235.5 287.8,262.8 288.1,247.5 288.4,266.4 288.7,253.9 289.0,271.4 289.3,252.5 289.6,268.2 290.0,251.1 290.3,253.3 290.6,242.7 290.9,254.1 291.2,251.8 291.5,265.0 291.8,237.6 292.2,266.3 292.5,251.3 292.8,265.7 293.1,238.5 293.4,276.2 293.7,253.4 294.1,268.9 294.4,250.4 294.7,248.8 295.0,241.4 295.3,235.1 295.6,244.2 295.9,251.5 296.3,253.8 296.6,272.8 296.9,247.5 297.2,265.1 297.5,253.3 297.8,264.6 298.1,236.5 298.5,266.4 298.8,249.3 299.1,268.3 299.4,248.6 299.7,270.6 300.0,250.2 300.4,264.6 300.7,244.9 301.0,249.3 301.3,246.2 301.6,232.2 301.9,244.4 302.2,246.8 302.6,245.8 302.9,265.4 303.2,254.2 303.5,265.7 303.8,250.8 304.1,264.5 304.4,264.2 304.8,266.4 305.1,253.2 305.4,274.7 305.7,251.9 306.0,266.5 306.3,234.3 306.6,251.1 307.0,257.1 307.3,244.5 307.6,236.8 307.9,224.4 308.2,242.8 308.5,246.4 308.9,250.2 309.2,250.1 309.5,238.7 309.8,229.2 310.1,240.6 310.4,250.0 310.7,249.3 311.1,267.1 311.4,263.5 311.7,266.7 312.0,245.5 312.3,249.2 312.6,246.1 312.9,228.8 313.3,240.0 313.6,245.9 313.9,251.1 314.2,269.2 314.5,249.3 314.8,245.6 315.2,244.1 315.5,266.4 315.8,246.1 316.1,272.9 316.4,264.8 316.7,248.5 317.0,240.4 317.4,231.4 317.7,223.0 318.0,242.1 318.3,223.0 318.6,242.8 318.9,243.0 319.2,266.1 319.6,249.5 319.9,245.3 320.2,253.7 320.5,265.4 320.8,246.4 321.1,267.3 321.5,248.8 321.8,269.4 322.1,236.1 322.4,238.8 322.7,229.9 323.0,220.0 323.3,243.2 323.7,247.8 324.0,235.9 324.3,226.6 324.6,235.0 324.9,243.5 325.2,250.4 325.6,251.8 325.9,240.1 326.2,233.4 326.5,219.0 326.8,229.5 327.1,233.5 327.4,247.8 327.8,237.5 328.1,224.3 328.4,198.2 328.7,215.4 329.0,237.7 329.3,271.7 329.6,232.9 330.0,251.3 330.3,251.3 330.6,251.0 330.9,254.3 331.2,264.9 331.5,252.2 331.9,252.1 332.2,241.8 332.5,234.5 332.8,219.5 333.1,194.5 333.4,227.8 333.7,234.7 334.1,224.4 334.4,234.1 334.7,243.0 335.0,267.2 335.3,257.2 335.6,271.1 335.9,251.3 336.3,264.3 336.6,250.4 336.9,265.4 337.2,247.3 337.5,250.0 337.8,251.0 338.1,268.5 338.5,251.6 338.8,268.6 339.1,254.1 339.4,269.5 339.7,246.6 340.0,269.7 340.4,249.0 340.7,242.8 341.0,233.1 341.3,223.0 341.6,231.5 341.9,237.4 342.2,248.8 342.6,266.8 342.9,253.8 343.2,265.0 343.5,267.5 343.8,272.0 344.1,254.0 344.4,271.3 344.8,247.5 345.1,269.6 345.4,251.4 345.7,264.3 346.0,236.7 346.3,266.9 346.7,247.2 347.0,239.8 347.3,226.9 347.6,238.1 347.9,236.2 348.2,250.0 348.5,239.0 348.9,266.8 349.2,254.5 349.5,273.9 349.8,245.7 350.1,266.8 350.4,233.2 350.8,247.5 351.1,233.2 351.4,247.0 351.7,251.7 352.0,271.6 352.3,254.2 352.6,267.3 353.0,269.5 353.3,266.6 353.6,240.8 353.9,270.9 354.2,255.9 354.5,240.5 354.8,243.0 355.2,264.5 355.5,246.8 355.8,266.2 356.1,251.6 356.4,264.3 356.7,247.7 357.1,265.8 357.4,251.4 357.7,270.2 358.0,247.8 358.3,252.9 358.6,249.2 358.9,240.7 359.3,220.8 359.6,242.6 359.9,247.3 360.2,264.8 360.5,254.4 360.8,265.0 361.1,246.6 361.5,269.3 361.8,252.0 362.1,268.2 362.4,251.6 362.7,268.4 363.0,249.0 363.4,264.4 363.7,254.2 364.0,270.4 364.3,247.0 364.6,265.2 364.9,231.7 365.2,264.5 365.6,254.3 365.9,269.5 366.2,253.6 366.5,267.1 366.8,252.9 367.1,266.8 367.4,253.4 367.8,264.7 368.1,253.7 368.4,267.5 368.7,255.1 369.0,268.5 369.3,253.4 369.6,268.1 370.0,254.3 370.3,273.8 370.6,252.0 370.9,265.8 371.2,267.4 371.5,268.3 371.9,249.9 372.2,240.0 372.5,233.3 372.8,219.0 373.1,241.1 373.4,250.7 373.7,245.8 374.1,260.0 374.4,246.3 374.7,246.6 375.0,240.8 375.3,223.0 375.6,238.0 375.9,249.2 376.3,248.2 376.6,236.8 376.9,241.8 377.2,246.2 377.5,247.5 377.8,264.3 378.2,242.2 378.5,264.8 378.8,241.2 379.1,266.5 379.4,253.9 379.7,241.9 380.0,252.7 380.4,264.1 380.7,254.4 381.0,264.6 381.3,243.0 381.6,274.2 381.9,242.3 382.2,233.0 382.6,225.2 382.9,236.7 383.2,243.0 383.5,252.5 383.8,253.2 384.1,248.8 384.5,237.1 384.8,223.7 385.1,234.3 385.4,237.0 385.7,232.0 386.0,215.7 386.3,226.8 386.7,244.7 387.0,248.0 387.3,268.4 387.6,244.9 387.9,248.6 388.2,252.6 388.6,266.9 388.9,253.1 389.2,267.5 389.5,246.0 389.8,265.4 390.1,254.1 390.4,268.9 390.8,252.0 391.1,268.7 391.4,248.9 391.7,265.9 392.0,243.3 392.3,266.4 392.6,240.9 393.0,264.1 393.3,270.2 393.6,267.3 393.9,254.1 394.2,267.3 394.5,247.4 394.9,266.4 395.2,246.5 395.5,268.8 395.8,268.3 396.1,271.0 396.4,250.8 396.7,251.1 397.1,245.5 397.4,240.3 397.7,217.9 398.0,237.6" fill="none" stroke="#E25A14" stroke-width="1.75" stroke-linejoin="round"/>
<polyline points="240.8,258.0 241.1,253.5 241.4,261.3 241.8,253.4 242.1,273.4 242.4,253.7 242.7,246.8 243.0,233.9 243.3,228.0 243.7,211.3 244.0,239.6 244.3,222.0 244.6,212.5 244.9,191.6 245.2,219.6 245.5,236.1 245.9,266.8 246.2,254.4 246.5,267.0 246.8,245.8 247.1,268.2 247.4,246.8 247.7,268.4 248.1,250.4 248.4,265.1 248.7,251.6 249.0,268.9 249.3,240.9 249.6,265.5 249.9,244.7 250.3,268.5 250.6,249.3 250.9,269.5 251.2,251.3 251.5,275.5 251.8,254.1 252.2,266.0 252.5,254.8 252.8,248.5 253.1,243.1 253.4,235.4 253.7,248.7 254.0,252.6 254.4,247.9 254.7,269.0 255.0,254.9 255.3,264.4 255.6,248.7 255.9,266.6 256.2,246.4 256.6,266.1 256.9,250.9 257.2,252.8 257.5,242.5 257.8,236.9 258.1,224.0 258.5,207.7 258.8,220.8 259.1,234.2 259.4,238.3 259.7,265.0 260.0,232.4 260.3,264.5 260.7,257.9 261.0,277.3 261.3,253.1 261.6,267.1 261.9,242.9 262.2,237.6 262.6,252.2 262.9,248.9 263.2,252.2 263.5,268.0 263.8,264.9 264.1,245.0 264.4,228.4 264.8,212.8 265.1,226.1 265.4,234.8 265.7,244.6 266.0,266.7 266.3,248.9 266.6,263.5 267.0,269.4 267.3,276.7 267.6,246.6 267.9,265.3 268.2,240.6 268.5,269.5 268.9,252.0 269.2,265.3 269.5,245.9 269.8,268.0 270.1,248.9 270.4,269.4 270.7,253.0 271.1,266.5 271.4,244.1 271.7,266.1 272.0,264.8 272.3,267.9 272.6,238.7 272.9,274.8 273.3,251.7 273.6,270.9 273.9,247.9 274.2,254.0 274.5,245.8 274.8,242.3 275.1,236.8 275.5,247.8 275.8,245.8 276.1,249.5 276.4,244.2 276.7,229.5 277.0,237.5 277.4,241.6 277.7,251.3 278.0,276.4 278.3,242.4 278.6,274.6 278.9,238.6 279.2,251.5 279.6,234.4 279.9,273.8 280.2,251.4 280.5,271.4 280.8,248.4 281.1,266.0 281.4,253.2 281.8,270.4 282.1,251.8 282.4,270.4 282.7,249.6 283.0,266.3 283.3,254.6 283.7,250.4 284.0,251.4 284.3,265.3 284.6,252.2 284.9,250.7 285.2,242.7 285.5,238.7 285.9,231.0 286.2,242.4 286.5,232.9 286.8,269.5 287.1,251.8 287.4,272.5 287.8,252.5 288.1,274.8 288.4,249.6 288.7,244.2 289.0,242.9 289.3,248.6 289.6,250.1 290.0,273.0 290.3,253.9 290.6,268.6 290.9,245.4 291.2,252.7 291.5,232.1 291.8,221.6 292.2,203.3 292.5,222.1 292.8,239.5 293.1,240.9 293.4,219.3 293.7,236.4 294.1,244.8 294.4,252.0 294.7,243.2 295.0,266.6 295.3,252.4 295.6,268.2 295.9,250.3 296.3,262.8 296.6,253.5 296.9,265.8 297.2,249.4 297.5,274.6 297.8,251.0 298.1,269.3 298.5,253.5 298.8,267.1 299.1,244.7 299.4,267.2 299.7,250.5 300.0,267.0 300.4,265.6 300.7,266.4 301.0,249.1 301.3,274.6 301.6,244.9 301.9,269.9 302.2,251.2 302.6,241.8 302.9,235.4 303.2,247.1 303.5,252.4 303.8,253.0 304.1,238.8 304.4,264.2 304.8,246.4 305.1,267.7 305.4,254.0 305.7,266.8 306.0,253.2 306.3,267.0 306.6,267.4 307.0,273.7 307.3,254.6 307.6,269.3 307.9,240.1 308.2,266.8 308.5,245.4 308.9,265.5 309.2,237.2 309.5,268.4 309.8,247.4 310.1,270.5 310.4,242.1 310.7,269.2 311.1,244.7 311.4,269.7 311.7,252.1 312.0,272.9 312.3,247.1 312.6,271.2 312.9,248.6 313.3,264.3 313.6,258.3 313.9,272.9 314.2,252.8 314.5,270.2 314.8,251.1 315.2,245.0 315.5,249.9 315.8,267.7 316.1,253.4 316.4,268.8 316.7,252.9 317.0,267.0 317.4,246.6 317.7,270.8 318.0,254.3 318.3,268.2 318.6,249.1 318.9,270.5 319.2,254.4 319.6,263.7 319.9,246.3 320.2,229.9 320.5,199.6 320.8,224.1 321.1,238.3 321.5,265.6 321.8,246.5 322.1,265.9 322.4,252.5 322.7,265.2 323.0,270.2 323.3,264.5 323.7,248.8 324.0,269.7 324.3,252.7 324.6,265.1 324.9,232.4 325.2,266.0 325.6,248.6 325.9,266.9 326.2,248.3 326.5,260.8 326.8,253.4 327.1,265.7 327.4,252.0 327.8,269.1 328.1,234.0 328.4,267.7 328.7,245.1 329.0,269.9 329.3,254.8 329.6,250.8 330.0,238.8 330.3,230.2 330.6,217.9 330.9,232.7 331.2,238.4 331.5,268.6 331.9,238.4 332.2,264.9 332.5,233.1 332.8,252.5 333.1,253.3 333.4,264.7 333.7,245.7 334.1,273.7 334.4,253.1 334.7,273.5 335.0,246.6 335.3,265.1 335.6,254.6 335.9,266.6 336.3,250.5 336.6,275.6 336.9,250.2 337.2,272.9 337.5,258.3 337.8,265.4 338.1,249.1 338.5,262.4 338.8,253.6 339.1,270.8 339.4,253.8 339.7,272.9 340.0,241.1 340.4,266.8 340.7,250.5 341.0,268.2 341.3,246.6 341.6,264.5 341.9,252.5 342.2,265.3 342.6,252.0 342.9,264.4 343.2,253.7 343.5,270.3 343.8,237.6 344.1,252.8 344.4,246.7 344.8,240.5 345.1,227.8 345.4,240.6 345.7,245.5 346.0,252.1 346.3,244.6 346.7,270.1 347.0,252.9 347.3,267.4 347.6,269.8 347.9,264.4 348.2,251.7 348.5,253.4 348.9,240.9 349.2,231.4 349.5,217.9 349.8,237.9 350.1,241.8 350.4,269.6 350.8,254.4 351.1,273.3 351.4,247.6 351.7,270.0 352.0,245.7 352.3,271.2 352.6,249.2 353.0,271.8 353.3,254.6 353.6,264.4 353.9,252.8 354.2,264.1 354.5,249.1 354.8,267.3 355.2,258.6 355.5,266.3 355.8,247.6 356.1,248.3 356.4,243.4 356.7,227.3 357.1,235.2 357.4,241.6 357.7,252.2 358.0,246.5 358.3,271.9 358.6,265.2 358.9,246.6 359.3,267.8 359.6,252.5 359.9,271.8 360.2,266.4 360.5,267.1 360.8,249.1 361.1,267.9 361.5,252.8 361.8,270.3 362.1,250.0 362.4,268.1 362.7,242.7 363.0,264.6 363.4,243.9 363.7,273.9 364.0,249.4 364.3,266.4 364.6,245.1 364.9,264.8 365.2,252.9 365.6,271.7 365.9,249.3 366.2,276.7 366.5,233.3 366.8,266.5 367.1,247.9 367.4,264.4 367.8,268.0 368.1,270.9 368.4,256.3 368.7,272.4 369.0,246.6 369.3,271.9 369.6,240.5 370.0,236.2 370.3,222.6 370.6,194.8 370.9,219.0 371.2,235.1 371.5,251.8 371.9,271.5 372.2,252.9 372.5,270.8 372.8,247.8 373.1,274.5 373.4,251.4 373.7,266.8 374.1,256.3 374.4,269.4 374.7,238.9 375.0,270.7 375.3,251.9 375.6,241.4 375.9,238.3 376.3,264.1 376.6,244.8 376.9,248.6 377.2,246.8 377.5,236.2 377.8,217.9 378.2,233.9 378.5,240.8 378.8,268.9 379.1,253.8 379.4,271.3 379.7,246.1 380.0,272.9 380.4,252.8 380.7,265.7 381.0,250.9 381.3,250.0 381.6,246.4 381.9,232.4 382.2,243.7 382.6,246.8 382.9,269.3 383.2,267.1 383.5,251.7 383.8,270.3 384.1,250.7 384.5,267.8 384.8,254.2 385.1,269.8 385.4,248.9 385.7,269.1 386.0,270.5 386.3,264.7 386.7,252.5 387.0,268.0 387.3,250.3 387.6,269.3 387.9,254.2 388.2,264.0 388.6,256.0 388.9,253.6 389.2,248.7 389.5,245.5 389.8,228.1 390.1,240.3 390.4,245.0 390.8,267.7 391.1,256.2 391.4,266.7 391.7,247.4 392.0,274.4 392.3,247.6 392.6,244.0 393.0,228.8 393.3,238.4 393.6,238.8 393.9,266.1 394.2,253.2 394.5,269.6 394.9,253.8 395.2,264.9 395.5,243.9 395.8,239.9 396.1,217.9 396.4,242.0 396.7,249.8 397.1,270.8 397.4,254.3 397.7,266.4 398.0,267.9" fill="none" stroke="#998DC5" stroke-width="1.75" stroke-linejoin="round"/>
<polyline points="240.8,254.6 241.1,260.8 241.4,245.6 241.8,253.3 242.1,253.6 242.4,268.6 242.7,245.9 243.0,267.5 243.3,236.3 243.7,240.9 244.0,229.9 244.3,217.9 244.6,238.4 244.9,243.3 245.2,248.0 245.5,264.2 245.9,251.7 246.2,270.0 246.5,250.8 246.8,265.4 247.1,248.2 247.4,244.2 247.7,228.8 248.1,240.7 248.4,249.1 248.7,252.1 249.0,251.2 249.3,254.9 249.6,252.1 249.9,263.4 250.3,247.5 250.6,274.6 250.9,238.4 251.2,230.0 251.5,203.7 251.8,232.6 252.2,233.1 252.5,266.3 252.8,253.3 253.1,265.9 253.4,240.1 253.7,269.2 254.0,254.7 254.4,270.1 254.7,235.8 255.0,265.3 255.3,249.2 255.6,266.1 255.9,266.0 256.2,249.9 256.6,239.0 256.9,233.5 257.2,209.8 257.5,225.7 257.8,233.0 258.1,266.6 258.5,252.0 258.8,269.8 259.1,250.5 259.4,241.0 259.7,221.9 260.0,193.8 260.3,232.8 260.7,240.9 261.0,252.8 261.3,267.1 261.6,245.7 261.9,270.1 262.2,248.2 262.6,254.1 262.9,249.0 263.2,267.5 263.5,251.4 263.8,245.2 264.1,254.6 264.4,253.5 264.8,246.6 265.1,238.4 265.4,217.9 265.7,240.4 266.0,246.1 266.3,254.1 266.6,240.3 267.0,270.5 267.3,249.1 267.6,250.7 267.9,245.0 268.2,230.3 268.5,239.9 268.9,245.6 269.2,254.5 269.5,265.9 269.8,254.6 270.1,270.2 270.4,234.4 270.7,269.2 271.1,254.8 271.4,271.6 271.7,249.8 272.0,268.0 272.3,256.6 272.6,268.6 272.9,251.0 273.3,274.5 273.6,254.2 273.9,273.6 274.2,239.1 274.5,276.9 274.8,251.5 275.1,261.3 275.5,253.1 275.8,248.4 276.1,253.8 276.4,267.5 276.7,269.5 277.0,265.5 277.4,251.3 277.7,272.4 278.0,254.9 278.3,270.9 278.6,253.2 278.9,269.8 279.2,247.1 279.6,269.9 279.9,253.2 280.2,273.5 280.5,248.6 280.8,266.2 281.1,246.2 281.4,241.3 281.8,232.2 282.1,239.9 282.4,243.7 282.7,252.2 283.0,240.9 283.3,274.5 283.7,252.9 284.0,251.9 284.3,248.0 284.6,239.0 284.9,244.1 285.2,249.3 285.5,250.5 285.9,269.9 286.2,248.7 286.5,270.3 286.8,245.6 287.1,265.6 287.4,254.8 287.8,273.2 288.1,249.3 288.4,271.7 288.7,250.0 289.0,245.2 289.3,253.3 289.6,271.1 290.0,249.2 290.3,264.3 290.6,252.0 290.9,267.7 291.2,248.3 291.5,268.0 291.8,250.1 292.2,265.2 292.5,246.7 292.8,264.8 293.1,243.9 293.4,265.6 293.7,251.7 294.1,268.2 294.4,245.7 294.7,264.2 295.0,250.8 295.3,261.0 295.6,248.8 295.9,268.3 296.3,237.7 296.6,265.3 296.9,248.1 297.2,273.9 297.5,245.4 297.8,270.9 298.1,249.8 298.5,269.7 298.8,249.6 299.1,245.8 299.4,240.0 299.7,233.2 300.0,242.0 300.4,249.7 300.7,245.8 301.0,270.0 301.3,254.2 301.6,261.2 301.9,246.2 302.2,270.0 302.6,237.1 302.9,271.7 303.2,252.8 303.5,266.1 303.8,251.9 304.1,267.4 304.4,254.3 304.8,270.3 305.1,239.3 305.4,267.9 305.7,246.6 306.0,270.0 306.3,244.1 306.6,256.7 307.0,251.0 307.3,267.9 307.6,271.1 307.9,270.6 308.2,252.5 308.5,265.5 308.9,265.1 309.2,273.8 309.5,253.5 309.8,264.3 310.1,242.2 310.4,269.9 310.7,246.6 311.1,250.9 311.4,247.0 311.7,231.0 312.0,239.1 312.3,252.9 312.6,234.5 312.9,261.2 313.3,245.3 313.6,250.6 313.9,243.4 314.2,233.2 314.5,248.0 314.8,251.0 315.2,265.2 315.5,267.4 315.8,252.0 316.1,264.1 316.4,247.3 316.7,265.1 317.0,254.5 317.4,274.3 317.7,253.5 318.0,253.1 318.3,247.1 318.6,232.7 318.9,242.9 319.2,232.4 319.6,242.0 319.9,245.2 320.2,257.8 320.5,242.8 320.8,225.5 321.1,216.0 321.5,198.9 321.8,225.8 322.1,241.5 322.4,247.1 322.7,252.2 323.0,275.0 323.3,254.0 323.7,266.7 324.0,252.2 324.3,274.6 324.6,254.8 324.9,252.1 325.2,233.4 325.6,222.4 325.9,201.8 326.2,220.2 326.5,242.7 326.8,252.6 327.1,242.9 327.4,273.5 327.8,246.0 328.1,264.8 328.4,253.4 328.7,267.8 329.0,254.6 329.3,264.8 329.6,250.1 330.0,272.0 330.3,258.3 330.6,270.0 330.9,240.4 331.2,273.6 331.5,254.3 331.9,267.9 332.2,251.0 332.5,265.1 332.8,252.3 333.1,233.9 333.4,250.5 333.7,267.9 334.1,248.4 334.4,265.5 334.7,253.3 335.0,253.5 335.3,249.5 335.6,237.6 335.9,226.9 336.3,245.6 336.6,248.9 336.9,254.2 337.2,239.4 337.5,266.5 337.8,250.4 338.1,264.5 338.5,248.7 338.8,253.5 339.1,249.8 339.4,243.6 339.7,231.0 340.0,246.7 340.4,249.5 340.7,267.3 341.0,249.1 341.3,275.8 341.6,247.4 341.9,266.6 342.2,242.8 342.6,272.2 342.9,243.9 343.2,271.7 343.5,237.5 343.8,262.3 344.1,255.0 344.4,266.3 344.8,253.9 345.1,270.3 345.4,254.6 345.7,265.1 346.0,265.3 346.3,247.4 346.7,244.6 347.0,229.5 347.3,242.9 347.6,251.3 347.9,250.3 348.2,271.0 348.5,239.4 348.9,262.4 349.2,241.9 349.5,275.4 349.8,254.0 350.1,263.1 350.4,252.0 350.8,267.5 351.1,253.1 351.4,273.1 351.7,241.7 352.0,264.1 352.3,240.6 352.6,268.8 353.0,256.2 353.3,267.3 353.6,253.1 353.9,251.8 354.2,250.3 354.5,267.0 354.8,250.6 355.2,265.2 355.5,251.3 355.8,251.3 356.1,254.1 356.4,267.2 356.7,248.1 357.1,250.1 357.4,252.8 357.7,269.2 358.0,254.0 358.3,271.1 358.6,245.4 358.9,242.0 359.3,223.0 359.6,238.0 359.9,249.2 360.2,252.3 360.5,249.3 360.8,266.4 361.1,245.2 361.5,264.6 361.8,245.4 362.1,242.6 362.4,223.7 362.7,238.3 363.0,245.5 363.4,250.7 363.7,249.7 364.0,236.2 364.3,226.9 364.6,216.7 364.9,235.3 365.2,240.3 365.6,254.7 365.9,272.4 366.2,251.9 366.5,263.1 366.8,236.1 367.1,269.2 367.4,246.7 367.8,269.5 368.1,245.5 368.4,235.3 368.7,224.4 369.0,235.5 369.3,240.5 369.6,252.6 370.0,254.1 370.3,276.5 370.6,253.5 370.9,277.3 371.2,254.4 371.5,267.8 371.9,249.8 372.2,247.8 372.5,252.6 372.8,267.9 373.1,240.0 373.4,265.3 373.7,269.7 374.1,267.2 374.4,249.0 374.7,270.5 375.0,242.1 375.3,268.1 375.6,249.3 375.9,271.9 376.3,244.4 376.6,267.8 376.9,241.9 377.2,269.6 377.5,250.6 377.8,267.8 378.2,257.9 378.5,276.0 378.8,254.0 379.1,269.7 379.4,249.3 379.7,268.2 380.0,249.5 380.4,273.3 380.7,242.5 381.0,265.4 381.3,254.7 381.6,270.1 381.9,247.1 382.2,269.5 382.6,240.5 382.9,275.3 383.2,251.6 383.5,269.6 383.8,237.1 384.1,270.0 384.5,250.4 384.8,265.6 385.1,247.0 385.4,272.7 385.7,252.7 386.0,265.0 386.3,248.7 386.7,268.3 387.0,255.3 387.3,267.0 387.6,246.6 387.9,253.1 388.2,248.3 388.6,265.5 388.9,245.5 389.2,268.2 389.5,253.4 389.8,265.1 390.1,252.7 390.4,240.2 390.8,235.6 391.1,209.8 391.4,237.2 391.7,247.3 392.0,251.6 392.3,269.4 392.6,248.7 393.0,264.6 393.3,266.3 393.6,270.9 393.9,234.4 394.2,265.2 394.5,253.8 394.9,265.9 395.2,252.1 395.5,270.6 395.8,252.1 396.1,247.7 396.4,241.3 396.7,244.9 397.1,225.2 397.4,239.1 397.7,244.0 398.0,251.6" fill="none" stroke="#401675" stroke-width="1.75" stroke-linejoin="round"/>
<line x1="233.05" y1="181.0" x2="233.05" y2="285.59999999999997" stroke="#333333" stroke-width="1.5"/>
<line x1="232.75" y1="284.4" x2="405.35" y2="284.4" stroke="#222" stroke-width="2.65"/>
<line x1="228.85000000000002" y1="201.5" x2="233.05" y2="201.5" stroke="#333333" stroke-width="1.4"/>
<text x="225.95000000000002" y="206.45" text-anchor="end" class="a">3</text>
<line x1="228.85000000000002" y1="229.0" x2="233.05" y2="229.0" stroke="#333333" stroke-width="1.4"/>
<text x="225.95000000000002" y="233.95" text-anchor="end" class="a">2</text>
<line x1="228.85000000000002" y1="256.25" x2="233.05" y2="256.25" stroke="#333333" stroke-width="1.4"/>
<text x="225.95000000000002" y="261.2" text-anchor="end" class="a">1</text>
<line x1="228.85000000000002" y1="283.75" x2="233.05" y2="283.75" stroke="#333333" stroke-width="1.4"/>
<text x="225.95000000000002" y="288.7" text-anchor="end" class="a">0</text>
<line x1="240.50" y1="285.4" x2="240.50" y2="288.09999999999997" stroke="#333333" stroke-width="1.4"/>
<text x="240.50" y="300.2" text-anchor="middle" class="a">500</text>
<line x1="272.00" y1="285.4" x2="272.00" y2="288.09999999999997" stroke="#333333" stroke-width="1.4"/>
<text x="272.00" y="300.2" text-anchor="middle" class="a">600</text>
<line x1="303.50" y1="285.4" x2="303.50" y2="288.09999999999997" stroke="#333333" stroke-width="1.4"/>
<text x="303.50" y="300.2" text-anchor="middle" class="a">700</text>
<line x1="335.00" y1="285.4" x2="335.00" y2="288.09999999999997" stroke="#333333" stroke-width="1.4"/>
<text x="335.00" y="300.2" text-anchor="middle" class="a">800</text>
<line x1="366.50" y1="285.4" x2="366.50" y2="288.09999999999997" stroke="#333333" stroke-width="1.4"/>
<text x="366.50" y="300.2" text-anchor="middle" class="a">900</text>
<line x1="398.00" y1="285.4" x2="398.00" y2="288.09999999999997" stroke="#333333" stroke-width="1.4"/>
<text x="398.00" y="300.2" text-anchor="middle" class="a">1000</text>
<text x="319.20" y="174.0" text-anchor="middle" class="s">alpha[5]</text>
<polyline points="433.8,254.6 434.1,259.4 434.4,256.2 434.8,265.7 435.1,252.8 435.4,254.3 435.7,241.7 436.0,269.0 436.3,248.8 436.6,271.1 437.0,249.6 437.3,267.5 437.6,254.2 437.9,271.4 438.2,252.8 438.5,269.2 438.9,251.0 439.2,269.4 439.5,249.0 439.8,267.1 440.1,246.3 440.4,268.5 440.7,244.6 441.1,270.3 441.4,252.5 441.7,272.0 442.0,246.5 442.3,270.4 442.6,252.1 442.9,268.2 443.3,252.5 443.6,267.9 443.9,248.8 444.2,269.3 444.5,248.2 444.8,268.3 445.2,252.6 445.5,268.1 445.8,254.0 446.1,251.7 446.4,247.9 446.7,238.7 447.0,245.2 447.4,252.9 447.7,242.7 448.0,270.9 448.3,254.7 448.6,271.3 448.9,247.3 449.2,268.8 449.6,269.0 449.9,236.3 450.2,229.5 450.5,195.0 450.8,211.5 451.1,236.7 451.5,241.5 451.8,271.5 452.1,266.1 452.4,268.5 452.7,243.7 453.0,243.9 453.3,237.3 453.7,216.5 454.0,197.7 454.3,232.3 454.6,245.8 454.9,228.1 455.2,209.8 455.6,231.3 455.9,244.3 456.2,248.7 456.5,237.4 456.8,231.4 457.1,219.6 457.4,239.8 457.8,243.7 458.1,251.5 458.4,253.5 458.7,267.2 459.0,254.2 459.3,259.2 459.6,250.3 460.0,265.8 460.3,248.6 460.6,272.1 460.9,249.2 461.2,271.8 461.5,247.9 461.9,276.0 462.2,246.3 462.5,266.3 462.8,244.5 463.1,253.7 463.4,255.5 463.7,235.7 464.1,251.0 464.4,267.4 464.7,237.5 465.0,271.5 465.3,250.3 465.6,270.6 465.9,248.5 466.3,267.1 466.6,249.8 466.9,267.9 467.2,241.1 467.5,266.0 467.8,251.8 468.1,277.0 468.5,269.8 468.8,266.4 469.1,258.1 469.4,267.4 469.7,253.2 470.0,246.2 470.4,251.1 470.7,267.3 471.0,247.9 471.3,273.1 471.6,254.5 471.9,269.2 472.2,245.3 472.6,267.9 472.9,248.0 473.2,230.1 473.5,221.0 473.8,185.8 474.1,229.8 474.4,247.7 474.8,247.8 475.1,276.5 475.4,268.4 475.7,270.0 476.0,249.1 476.3,272.3 476.7,234.9 477.0,273.6 477.3,241.6 477.6,271.0 477.9,240.3 478.2,265.9 478.5,252.3 478.9,248.1 479.2,242.0 479.5,225.8 479.8,197.4 480.1,232.0 480.4,245.5 480.8,250.3 481.1,249.0 481.4,262.7 481.7,247.7 482.0,275.5 482.3,245.2 482.6,271.1 483.0,251.8 483.3,267.9 483.6,253.5 483.9,270.1 484.2,246.2 484.5,250.3 484.8,239.0 485.2,245.7 485.5,248.6 485.8,268.4 486.1,249.0 486.4,276.6 486.7,253.7 487.1,272.1 487.4,255.3 487.7,272.5 488.0,246.6 488.3,269.6 488.6,248.5 488.9,271.3 489.3,238.8 489.6,272.5 489.9,246.3 490.2,267.1 490.5,247.7 490.8,271.6 491.1,250.4 491.5,277.5 491.8,244.5 492.1,271.3 492.4,256.1 492.7,270.1 493.0,249.3 493.4,255.2 493.7,247.9 494.0,246.5 494.3,241.9 494.6,249.0 494.9,237.7 495.2,256.7 495.6,243.5 495.9,250.7 496.2,255.3 496.5,266.5 496.8,239.5 497.1,273.2 497.4,254.4 497.8,264.4 498.1,241.8 498.4,267.2 498.7,250.3 499.0,270.4 499.3,268.5 499.6,267.9 500.0,249.9 500.3,263.1 500.6,250.2 500.9,247.0 501.2,239.8 501.5,217.1 501.9,234.9 502.2,240.1 502.5,235.1 502.8,266.5 503.1,258.5 503.4,274.4 503.7,249.3 504.1,254.8 504.4,251.4 504.7,243.1 505.0,235.4 505.3,247.9 505.6,252.5 505.9,267.9 506.3,254.5 506.6,247.3 506.9,236.1 507.2,241.8 507.5,251.3 507.8,275.9 508.2,244.8 508.5,271.0 508.8,251.2 509.1,271.4 509.4,252.0 509.7,266.7 510.0,243.2 510.4,249.1 510.7,242.7 511.0,246.6 511.3,243.4 511.6,266.8 511.9,255.1 512.2,267.3 512.6,250.7 512.9,269.1 513.2,259.6 513.5,268.2 513.8,257.1 514.1,247.6 514.5,250.2 514.8,270.5 515.1,246.9 515.4,267.4 515.7,249.8 516.0,268.8 516.3,246.8 516.7,266.0 517.0,248.1 517.3,271.8 517.6,253.9 517.9,265.9 518.2,244.9 518.5,271.1 518.9,247.1 519.2,267.1 519.5,243.4 519.8,267.5 520.1,253.6 520.4,266.5 520.8,267.9 521.1,266.5 521.4,253.8 521.7,266.8 522.0,246.7 522.3,271.0 522.6,245.8 523.0,273.3 523.3,255.7 523.6,255.5 523.9,251.4 524.2,248.9 524.5,233.6 524.9,243.9 525.2,247.4 525.5,267.6 525.8,245.6 526.1,267.2 526.4,254.2 526.7,278.1 527.1,251.6 527.4,270.4 527.7,254.1 528.0,266.6 528.3,245.6 528.6,248.9 528.9,246.2 529.3,241.2 529.6,250.6 529.9,254.2 530.2,251.2 530.5,269.9 530.8,252.7 531.1,245.6 531.5,240.5 531.8,251.7 532.1,255.5 532.4,278.3 532.7,255.1 533.0,255.2 533.4,245.1 533.7,240.0 534.0,231.7 534.3,242.2 534.6,250.3 534.9,251.7 535.2,248.0 535.6,237.1 535.9,218.6 536.2,237.2 536.5,244.4 536.8,251.2 537.1,252.3 537.5,271.1 537.8,247.7 538.1,266.1 538.4,250.7 538.7,271.9 539.0,250.6 539.3,267.2 539.7,271.6 540.0,271.9 540.3,252.0 540.6,270.0 540.9,242.1 541.2,247.8 541.5,250.2 541.9,272.9 542.2,253.4 542.5,272.3 542.8,242.1 543.1,252.8 543.4,249.4 543.8,234.6 544.1,247.2 544.4,250.4 544.7,251.9 545.0,276.1 545.3,245.1 545.6,242.8 546.0,251.5 546.3,270.2 546.6,243.4 546.9,277.8 547.2,253.4 547.5,267.0 547.8,236.1 548.2,272.7 548.5,254.8 548.8,266.8 549.1,252.4 549.4,269.0 549.7,267.3 550.0,272.4 550.4,245.7 550.7,267.2 551.0,275.4 551.3,263.6 551.6,248.8 551.9,271.1 552.3,245.6 552.6,269.8 552.9,246.0 553.2,272.3 553.5,250.6 553.8,267.6 554.1,253.0 554.5,270.5 554.8,271.1 555.1,268.0 555.4,241.9 555.7,267.6 556.0,241.4 556.4,266.0 556.7,251.7 557.0,269.6 557.3,251.5 557.6,272.7 557.9,256.8 558.2,249.7 558.6,246.5 558.9,231.7 559.2,244.0 559.5,251.3 559.8,252.3 560.1,275.0 560.4,252.1 560.8,249.3 561.1,238.0 561.4,245.8 561.7,238.6 562.0,271.6 562.3,244.6 562.6,253.4 563.0,246.6 563.3,234.6 563.6,244.3 563.9,249.1 564.2,247.7 564.5,275.4 564.9,251.2 565.2,277.2 565.5,250.1 565.8,268.4 566.1,252.2 566.4,273.0 566.7,250.8 567.1,278.3 567.4,252.6 567.7,271.4 568.0,243.8 568.3,265.3 568.6,259.0 569.0,271.2 569.3,248.7 569.6,271.4 569.9,269.2 570.2,266.5 570.5,267.6 570.8,267.7 571.2,251.6 571.5,256.6 571.8,245.3 572.1,239.8 572.4,231.0 572.7,244.5 573.0,249.2 573.4,267.7 573.7,248.8 574.0,274.8 574.3,251.1 574.6,241.7 574.9,229.5 575.2,245.3 575.6,239.7 575.9,247.2 576.2,252.1 576.5,256.0 576.8,253.8 577.1,275.1 577.5,244.4 577.8,234.0 578.1,220.8 578.4,243.1 578.7,248.3 579.0,252.6 579.3,255.2 579.7,270.8 580.0,269.2 580.3,272.4 580.6,255.2 580.9,269.6 581.2,249.8 581.5,270.3 581.9,248.5 582.2,268.1 582.5,236.4 582.8,267.3 583.1,254.4 583.4,270.0 583.8,240.5 584.1,266.9 584.4,251.4 584.7,269.5 585.0,255.9 585.3,269.0 585.6,250.9 586.0,249.2 586.3,239.6 586.6,233.2 586.9,243.7 587.2,253.0 587.5,250.7 587.9,242.4 588.2,226.6 588.5,237.1 588.8,241.5 589.1,249.3 589.4,253.3 589.7,271.2 590.1,251.1 590.4,267.9 590.7,255.4 591.0,269.2" fill="none" stroke="#E25A14" stroke-width="1.75" stroke-linejoin="round"/>
<polyline points="433.8,254.6 434.1,261.9 434.4,254.9 434.8,265.2 435.1,248.0 435.4,272.2 435.7,250.1 436.0,269.7 436.3,251.6 436.6,269.8 437.0,247.5 437.3,270.7 437.6,249.4 437.9,266.2 438.2,252.4 438.5,250.2 438.9,235.4 439.2,247.5 439.5,244.0 439.8,226.9 440.1,236.8 440.4,249.4 440.7,251.7 441.1,270.5 441.4,255.0 441.7,267.9 442.0,247.0 442.3,270.0 442.6,248.6 442.9,267.0 443.3,255.6 443.6,253.6 443.9,245.5 444.2,266.3 444.5,242.0 444.8,268.7 445.2,246.3 445.5,271.3 445.8,245.9 446.1,271.6 446.4,255.8 446.7,268.5 447.0,266.6 447.4,271.3 447.7,244.6 448.0,276.4 448.3,246.5 448.6,267.6 448.9,235.6 449.2,275.3 449.6,270.9 449.9,255.9 450.2,249.7 450.5,274.1 450.8,249.8 451.1,255.4 451.5,247.8 451.8,250.1 452.1,234.6 452.4,249.8 452.7,250.9 453.0,273.7 453.3,251.6 453.7,277.4 454.0,240.2 454.3,266.0 454.6,238.7 454.9,271.6 455.2,249.4 455.6,272.2 455.9,260.0 456.2,269.1 456.5,240.8 456.8,269.4 457.1,253.8 457.4,266.4 457.8,252.8 458.1,268.0 458.4,248.0 458.7,268.4 459.0,249.7 459.3,270.0 459.6,247.7 460.0,271.5 460.3,251.7 460.6,268.6 460.9,247.5 461.2,272.9 461.5,243.8 461.9,264.5 462.2,241.5 462.5,269.3 462.8,252.6 463.1,267.1 463.4,246.3 463.7,269.4 464.1,251.2 464.4,275.4 464.7,239.7 465.0,268.0 465.3,255.1 465.6,265.8 465.9,250.3 466.3,270.2 466.6,260.8 466.9,251.2 467.2,249.9 467.5,272.3 467.8,252.3 468.1,248.5 468.5,235.1 468.8,216.1 469.1,237.9 469.4,244.5 469.7,267.8 470.0,269.7 470.4,237.4 470.7,269.8 471.0,245.2 471.3,267.4 471.6,253.8 471.9,271.5 472.2,242.7 472.6,270.1 472.9,247.9 473.2,268.8 473.5,248.4 473.8,271.5 474.1,274.9 474.4,271.5 474.8,254.2 475.1,267.2 475.4,244.5 475.7,241.6 476.0,224.9 476.3,233.7 476.7,246.2 477.0,267.4 477.3,255.1 477.6,252.4 477.9,250.2 478.2,271.0 478.5,245.4 478.9,266.2 479.2,248.2 479.5,266.7 479.8,246.8 480.1,267.3 480.4,249.3 480.8,270.5 481.1,236.4 481.4,267.7 481.7,245.3 482.0,268.1 482.3,234.2 482.6,270.7 483.0,252.5 483.3,273.6 483.6,255.1 483.9,271.7 484.2,250.8 484.5,270.1 484.8,251.9 485.2,270.1 485.5,239.3 485.8,252.6 486.1,236.5 486.4,229.0 486.7,212.0 487.1,234.0 487.4,245.1 487.7,251.6 488.0,246.8 488.3,268.4 488.6,269.5 488.9,269.7 489.3,253.6 489.6,270.2 489.9,251.0 490.2,267.2 490.5,250.6 490.8,270.3 491.1,255.2 491.5,270.2 491.8,252.5 492.1,269.2 492.4,240.7 492.7,268.5 493.0,246.9 493.4,269.4 493.7,250.9 494.0,266.6 494.3,252.5 494.6,267.1 494.9,249.8 495.2,249.4 495.6,254.7 495.9,256.9 496.2,238.1 496.5,266.0 496.8,248.3 497.1,273.2 497.4,249.7 497.8,269.7 498.1,249.1 498.4,253.4 498.7,245.1 499.0,235.1 499.3,220.0 499.6,237.3 500.0,247.6 500.3,245.5 500.6,245.0 500.9,273.8 501.2,246.4 501.5,270.5 501.9,251.3 502.2,273.6 502.5,249.1 502.8,266.4 503.1,255.9 503.4,251.0 503.7,255.4 504.1,269.6 504.4,266.2 504.7,270.9 505.0,250.5 505.3,266.0 505.6,251.5 505.9,269.9 506.3,248.1 506.6,270.2 506.9,269.3 507.2,274.6 507.5,234.0 507.8,270.0 508.2,254.6 508.5,265.9 508.8,253.3 509.1,268.0 509.4,253.9 509.7,267.8 510.0,252.5 510.4,266.4 510.7,249.5 511.0,275.3 511.3,270.7 511.6,272.8 511.9,249.0 512.2,250.5 512.6,237.4 512.9,230.3 513.2,246.6 513.5,231.0 513.8,242.2 514.1,245.6 514.5,252.5 514.8,269.4 515.1,251.9 515.4,268.3 515.7,246.0 516.0,267.6 516.3,250.8 516.7,268.1 517.0,237.3 517.3,278.0 517.6,246.7 517.9,277.4 518.2,255.4 518.5,272.4 518.9,253.5 519.2,276.4 519.5,244.8 519.8,272.2 520.1,238.9 520.4,269.7 520.8,254.6 521.1,266.7 521.4,251.4 521.7,270.6 522.0,253.2 522.3,247.8 522.6,253.4 523.0,272.6 523.3,249.1 523.6,267.2 523.9,255.7 524.2,263.7 524.5,237.4 524.9,267.6 525.2,255.9 525.5,267.4 525.8,248.8 526.1,268.4 526.4,244.4 526.7,254.8 527.1,249.4 527.4,246.2 527.7,227.3 528.0,236.5 528.3,249.6 528.6,250.8 528.9,253.8 529.3,266.8 529.6,252.9 529.9,267.3 530.2,242.0 530.5,269.2 530.8,254.5 531.1,266.8 531.5,243.7 531.8,268.6 532.1,238.9 532.4,231.3 532.7,218.6 533.0,231.8 533.4,240.3 533.7,248.3 534.0,266.2 534.3,270.2 534.6,265.8 534.9,255.6 535.2,250.4 535.6,267.6 535.9,243.1 536.2,270.5 536.5,249.9 536.8,272.4 537.1,251.4 537.5,256.1 537.8,246.4 538.1,241.6 538.4,225.9 538.7,234.9 539.0,241.4 539.3,241.2 539.7,232.8 540.0,213.9 540.3,233.8 540.6,239.8 540.9,243.9 541.2,271.9 541.5,252.4 541.9,268.4 542.2,248.7 542.5,267.1 542.8,249.9 543.1,272.1 543.4,249.9 543.8,274.3 544.1,251.2 544.4,271.3 544.7,253.7 545.0,275.6 545.3,255.8 545.6,269.6 546.0,242.4 546.3,270.7 546.6,238.1 546.9,270.9 547.2,253.4 547.5,270.3 547.8,253.0 548.2,268.0 548.5,251.2 548.8,267.1 549.1,255.2 549.4,266.9 549.7,250.4 550.0,269.8 550.4,254.6 550.7,266.9 551.0,270.8 551.3,273.7 551.6,259.7 551.9,270.9 552.3,251.1 552.6,251.5 552.9,240.5 553.2,248.4 553.5,248.0 553.8,266.7 554.1,248.0 554.5,266.1 554.8,255.7 555.1,267.9 555.4,234.1 555.7,271.2 556.0,245.5 556.4,255.0 556.7,254.5 557.0,270.8 557.3,247.1 557.6,273.1 557.9,256.0 558.2,268.2 558.6,242.5 558.9,270.3 559.2,252.2 559.5,271.7 559.8,252.0 560.1,248.3 560.4,245.2 560.8,231.0 561.1,244.1 561.4,253.3 561.7,253.7 562.0,277.9 562.3,247.2 562.6,275.9 563.0,246.1 563.3,238.4 563.6,249.5 563.9,271.1 564.2,250.5 564.5,267.5 564.9,236.6 565.2,273.2 565.5,249.7 565.8,242.6 566.1,217.9 566.4,242.2 566.7,251.6 567.1,253.4 567.4,245.0 567.7,271.1 568.0,246.7 568.3,269.9 568.6,241.5 569.0,267.0 569.3,250.0 569.6,252.2 569.9,248.2 570.2,231.3 570.5,207.9 570.8,228.6 571.2,245.6 571.5,267.8 571.8,255.7 572.1,265.2 572.4,253.8 572.7,270.8 573.0,241.1 573.4,275.7 573.7,251.6 574.0,274.1 574.3,253.2 574.6,274.5 574.9,246.8 575.2,272.7 575.6,251.3 575.9,266.8 576.2,260.6 576.5,266.7 576.8,253.6 577.1,266.7 577.5,253.0 577.8,266.6 578.1,255.4 578.4,266.3 578.7,255.8 579.0,275.2 579.3,250.2 579.7,273.2 580.0,255.5 580.3,273.7 580.6,255.5 580.9,271.4 581.2,243.7 581.5,271.3 581.9,234.1 582.2,266.6 582.5,241.7 582.8,270.5 583.1,235.6 583.4,273.2 583.8,243.0 584.1,270.2 584.4,253.6 584.7,268.8 585.0,247.8 585.3,249.1 585.6,245.6 586.0,239.7 586.3,242.3 586.6,252.2 586.9,248.6 587.2,273.6 587.5,253.3 587.9,270.0 588.2,246.6 588.5,266.6 588.8,257.3 589.1,267.8 589.4,250.3 589.7,266.1 590.1,241.7 590.4,255.4 590.7,252.6 591.0,241.9" fill="none" stroke="#998DC5" stroke-width="1.75" stroke-linejoin="round"/>
<polyline points="433.8,247.8 434.1,238.3 434.4,247.7 434.8,249.4 435.1,256.0 435.4,253.8 435.7,272.4 436.0,260.1 436.3,251.5 436.6,241.9 437.0,232.4 437.3,245.7 437.6,254.6 437.9,238.6 438.2,269.1 438.5,250.3 438.9,267.8 439.2,249.7 439.5,276.4 439.8,251.1 440.1,275.4 440.4,254.5 440.7,271.7 441.1,255.8 441.4,271.4 441.7,256.8 442.0,253.2 442.3,244.6 442.6,243.4 442.9,230.3 443.3,244.1 443.6,247.2 443.9,268.8 444.2,242.3 444.5,266.2 444.8,268.6 445.2,267.2 445.5,252.6 445.8,268.3 446.1,244.6 446.4,269.8 446.7,251.6 447.0,269.9 447.4,246.8 447.7,277.2 448.0,252.3 448.3,271.0 448.6,256.9 448.9,269.7 449.2,259.6 449.6,274.8 449.9,235.9 450.2,255.0 450.5,253.0 450.8,267.5 451.1,253.9 451.5,260.1 451.8,254.6 452.1,267.4 452.4,254.3 452.7,274.8 453.0,270.3 453.3,273.3 453.7,242.1 454.0,273.2 454.3,255.2 454.6,268.5 454.9,243.1 455.2,266.7 455.6,253.8 455.9,266.0 456.2,248.8 456.5,268.9 456.8,248.1 457.1,272.8 457.4,255.8 457.8,275.5 458.1,260.7 458.4,267.7 458.7,241.1 459.0,227.7 459.3,202.5 459.6,237.6 460.0,241.7 460.3,272.9 460.6,252.3 460.9,269.9 461.2,251.5 461.5,267.8 461.9,250.5 462.2,242.7 462.5,213.5 462.8,232.0 463.1,244.1 463.4,253.8 463.7,242.6 464.1,237.2 464.4,216.1 464.7,241.3 465.0,246.9 465.3,253.9 465.6,246.5 465.9,250.1 466.3,243.1 466.6,233.3 466.9,217.9 467.2,237.0 467.5,244.5 467.8,255.8 468.1,255.8 468.5,256.2 468.8,244.4 469.1,267.0 469.4,257.5 469.7,271.9 470.0,242.6 470.4,269.1 470.7,255.1 471.0,246.2 471.3,242.5 471.6,233.9 471.9,249.1 472.2,255.1 472.6,252.1 472.9,270.5 473.2,253.5 473.5,266.4 473.8,249.4 474.1,267.1 474.4,240.9 474.8,274.6 475.1,249.6 475.4,266.9 475.7,250.6 476.0,270.1 476.3,243.0 476.7,256.6 477.0,244.8 477.3,246.9 477.6,237.5 477.9,245.0 478.2,250.1 478.5,274.7 478.9,255.6 479.2,247.2 479.5,251.0 479.8,251.1 480.1,241.7 480.4,273.0 480.8,251.2 481.1,261.7 481.4,236.8 481.7,240.0 482.0,249.6 482.3,271.3 482.6,253.4 483.0,271.1 483.3,251.9 483.6,268.4 483.9,251.8 484.2,268.2 484.5,238.1 484.8,268.2 485.2,249.2 485.5,267.2 485.8,248.2 486.1,274.3 486.4,246.4 486.7,266.4 487.1,247.6 487.4,245.1 487.7,225.1 488.0,208.4 488.3,230.8 488.6,243.7 488.9,255.2 489.3,272.0 489.6,255.2 489.9,270.8 490.2,251.0 490.5,274.4 490.8,252.9 491.1,267.6 491.5,249.8 491.8,246.3 492.1,231.7 492.4,247.9 492.7,253.8 493.0,271.5 493.4,241.3 493.7,267.0 494.0,251.6 494.3,265.6 494.6,235.2 494.9,272.5 495.2,235.6 495.6,275.4 495.9,242.8 496.2,245.1 496.5,239.7 496.8,250.2 497.1,253.9 497.4,272.8 497.8,245.4 498.1,241.0 498.4,224.4 498.7,238.0 499.0,250.5 499.3,253.2 499.6,273.2 500.0,248.1 500.3,253.1 500.6,268.4 500.9,258.7 501.2,278.2 501.5,238.0 501.9,270.6 502.2,246.6 502.5,239.7 502.8,231.2 503.1,213.2 503.4,232.1 503.7,242.0 504.1,252.7 504.4,268.4 504.7,251.3 505.0,267.9 505.3,246.8 505.6,239.0 505.9,247.6 506.3,266.4 506.6,247.6 506.9,270.7 507.2,266.4 507.5,266.6 507.8,249.3 508.2,269.7 508.5,251.0 508.8,255.2 509.1,237.7 509.4,236.8 509.7,249.8 510.0,253.8 510.4,256.6 510.7,264.1 511.0,244.6 511.3,267.2 511.6,267.8 511.9,270.9 512.2,254.0 512.6,253.2 512.9,247.4 513.2,235.4 513.5,245.8 513.8,252.8 514.1,254.1 514.5,266.1 514.8,243.5 515.1,267.8 515.4,248.7 515.7,266.7 516.0,253.2 516.3,245.0 516.7,232.1 517.0,209.8 517.3,239.6 517.6,246.4 517.9,267.4 518.2,247.8 518.5,251.4 518.9,270.7 519.2,266.0 519.5,271.8 519.8,258.3 520.1,266.5 520.4,241.1 520.8,266.1 521.1,251.0 521.4,267.4 521.7,244.7 522.0,245.0 522.3,232.7 522.6,221.1 523.0,239.5 523.3,244.9 523.6,247.2 523.9,267.9 524.2,260.6 524.5,267.0 524.9,271.1 525.2,269.0 525.5,242.5 525.8,262.4 526.1,254.7 526.4,267.5 526.7,241.5 527.1,269.9 527.4,247.2 527.7,269.8 528.0,249.5 528.3,274.7 528.6,243.8 528.9,272.0 529.3,250.6 529.6,272.2 529.9,251.5 530.2,268.4 530.5,246.7 530.8,253.6 531.1,258.1 531.5,270.5 531.8,245.4 532.1,271.8 532.4,250.6 532.7,268.8 533.0,254.0 533.4,266.7 533.7,254.3 534.0,272.0 534.3,270.4 534.6,266.8 534.9,244.9 535.2,267.4 535.6,238.9 535.9,242.9 536.2,253.0 536.5,270.1 536.8,255.0 537.1,271.2 537.5,246.8 537.8,273.9 538.1,249.9 538.4,273.0 538.7,253.6 539.0,266.2 539.3,256.0 539.7,267.6 540.0,251.4 540.3,270.7 540.6,251.5 540.9,271.6 541.2,254.5 541.5,273.0 541.9,253.6 542.2,270.4 542.5,243.5 542.8,268.6 543.1,252.0 543.4,269.1 543.8,247.6 544.1,266.8 544.4,246.5 544.7,244.4 545.0,233.6 545.3,243.6 545.6,247.4 546.0,271.9 546.3,239.4 546.6,270.6 546.9,258.1 547.2,247.6 547.5,251.4 547.8,244.6 548.2,238.0 548.5,248.0 548.8,248.3 549.1,265.9 549.4,254.2 549.7,270.3 550.0,253.8 550.4,266.9 550.7,244.0 551.0,267.6 551.3,255.2 551.6,273.1 551.9,241.8 552.3,272.0 552.6,249.9 552.9,270.8 553.2,255.8 553.5,272.9 553.8,254.2 554.1,268.9 554.5,252.2 554.8,268.2 555.1,251.8 555.4,251.4 555.7,239.4 556.0,223.7 556.4,241.5 556.7,246.1 557.0,227.0 557.3,207.7 557.6,226.1 557.9,235.7 558.2,252.0 558.6,266.1 558.9,247.8 559.2,268.0 559.5,266.8 559.8,271.0 560.1,250.4 560.4,247.2 560.8,244.5 561.1,267.3 561.4,259.8 561.7,266.8 562.0,275.0 562.3,274.1 562.6,254.3 563.0,274.2 563.3,252.1 563.6,274.6 563.9,251.4 564.2,267.1 564.5,241.7 564.9,268.3 565.2,249.0 565.5,266.6 565.8,239.3 566.1,255.6 566.4,251.4 566.7,246.4 567.1,227.3 567.4,240.7 567.7,245.9 568.0,254.8 568.3,251.5 568.6,248.3 569.0,236.8 569.3,248.9 569.6,245.7 569.9,274.7 570.2,248.8 570.5,267.6 570.8,276.8 571.2,270.8 571.5,243.5 571.8,262.7 572.1,249.6 572.4,268.3 572.7,246.5 573.0,268.6 573.4,253.9 573.7,268.1 574.0,267.9 574.3,266.2 574.6,250.0 574.9,253.1 575.2,267.5 575.6,272.1 575.9,235.6 576.2,269.1 576.5,243.7 576.8,269.4 577.1,242.5 577.5,269.5 577.8,243.1 578.1,267.1 578.4,251.1 578.7,254.5 579.0,255.0 579.3,251.8 579.7,246.3 580.0,228.1 580.3,237.3 580.6,244.8 580.9,253.1 581.2,266.0 581.5,243.4 581.9,265.3 582.2,251.7 582.5,246.9 582.8,238.3 583.1,250.3 583.4,255.0 583.8,255.5 584.1,254.2 584.4,266.8 584.7,255.2 585.0,270.0 585.3,266.2 585.6,272.6 586.0,266.4 586.3,263.7 586.6,251.1 586.9,269.1 587.2,251.4 587.5,264.7 587.9,253.0 588.2,268.4 588.5,241.9 588.8,274.2 589.1,253.9 589.4,270.0 589.7,255.4 590.1,266.2 590.4,254.0 590.7,266.0 591.0,243.9" fill="none" stroke="#401675" stroke-width="1.75" stroke-linejoin="round"/>
<line x1="426.05" y1="181.0" x2="426.05" y2="285.59999999999997" stroke="#333333" stroke-width="1.5"/>
<line x1="425.75" y1="284.4" x2="598.35" y2="284.4" stroke="#222" stroke-width="2.65"/>
<line x1="421.85" y1="206.75" x2="426.05" y2="206.75" stroke="#333333" stroke-width="1.4"/>
<text x="418.95" y="211.7" text-anchor="end" class="a">3</text>
<line x1="421.85" y1="232.5" x2="426.05" y2="232.5" stroke="#333333" stroke-width="1.4"/>
<text x="418.95" y="237.45" text-anchor="end" class="a">2</text>
<line x1="421.85" y1="258.5" x2="426.05" y2="258.5" stroke="#333333" stroke-width="1.4"/>
<text x="418.95" y="263.45" text-anchor="end" class="a">1</text>
<line x1="433.50" y1="285.4" x2="433.50" y2="288.09999999999997" stroke="#333333" stroke-width="1.4"/>
<text x="433.50" y="300.2" text-anchor="middle" class="a">500</text>
<line x1="465.00" y1="285.4" x2="465.00" y2="288.09999999999997" stroke="#333333" stroke-width="1.4"/>
<text x="465.00" y="300.2" text-anchor="middle" class="a">600</text>
<line x1="496.50" y1="285.4" x2="496.50" y2="288.09999999999997" stroke="#333333" stroke-width="1.4"/>
<text x="496.50" y="300.2" text-anchor="middle" class="a">700</text>
<line x1="528.00" y1="285.4" x2="528.00" y2="288.09999999999997" stroke="#333333" stroke-width="1.4"/>
<text x="528.00" y="300.2" text-anchor="middle" class="a">800</text>
<line x1="559.50" y1="285.4" x2="559.50" y2="288.09999999999997" stroke="#333333" stroke-width="1.4"/>
<text x="559.50" y="300.2" text-anchor="middle" class="a">900</text>
<line x1="591.00" y1="285.4" x2="591.00" y2="288.09999999999997" stroke="#333333" stroke-width="1.4"/>
<text x="591.00" y="300.2" text-anchor="middle" class="a">1000</text>
<text x="512.20" y="174.0" text-anchor="middle" class="s">alpha[6]</text>
<polyline points="47.8,399.4 48.1,385.6 48.4,392.4 48.8,402.7 49.1,393.1 49.4,423.7 49.7,405.1 50.0,423.9 50.3,405.1 50.6,427.0 51.0,401.0 51.3,426.6 51.6,388.5 51.9,401.0 52.2,395.0 52.5,386.4 52.9,399.6 53.2,402.4 53.5,402.7 53.8,419.3 54.1,427.4 54.4,423.0 54.7,404.0 55.1,425.8 55.4,407.6 55.7,429.4 56.0,399.9 56.3,403.9 56.6,417.8 57.0,424.6 57.3,404.3 57.6,415.0 57.9,406.5 58.2,422.4 58.5,385.4 58.8,417.8 59.2,394.9 59.5,423.2 59.8,394.2 60.1,403.3 60.4,401.2 60.7,391.5 61.0,398.0 61.4,404.1 61.7,395.5 62.0,425.4 62.3,399.7 62.6,418.4 62.9,410.3 63.2,404.6 63.6,403.3 63.9,419.6 64.2,405.9 64.5,417.9 64.8,385.9 65.1,425.0 65.5,389.6 65.8,422.0 66.1,402.1 66.4,421.7 66.7,400.4 67.0,423.6 67.3,398.3 67.7,422.0 68.0,402.4 68.3,415.5 68.6,407.1 68.9,420.9 69.2,392.2 69.5,398.0 69.9,384.9 70.2,419.2 70.5,398.9 70.8,421.5 71.1,405.6 71.4,406.0 71.8,403.3 72.1,397.9 72.4,382.7 72.7,396.9 73.0,389.7 73.3,401.3 73.6,391.4 74.0,382.7 74.3,399.6 74.6,405.2 74.9,404.1 75.2,424.4 75.5,422.5 75.8,420.8 76.2,393.9 76.5,422.9 76.8,396.3 77.1,399.1 77.4,409.6 77.7,420.4 78.1,401.3 78.4,425.0 78.7,391.7 79.0,426.2 79.3,405.4 79.6,417.7 79.9,399.8 80.3,417.9 80.6,403.4 80.9,418.5 81.2,404.9 81.5,421.4 81.8,399.5 82.2,419.3 82.5,405.9 82.8,418.8 83.1,392.5 83.4,384.0 83.7,353.1 84.0,387.8 84.4,401.4 84.7,404.3 85.0,389.6 85.3,421.6 85.6,405.4 85.9,419.7 86.2,402.3 86.6,413.7 86.9,395.1 87.2,420.3 87.5,408.0 87.8,418.3 88.1,401.3 88.5,418.1 88.8,399.6 89.1,423.9 89.4,401.7 89.7,419.5 90.0,404.6 90.3,421.3 90.7,396.9 91.0,400.1 91.3,406.3 91.6,419.2 91.9,401.5 92.2,425.7 92.5,404.5 92.9,407.8 93.2,402.8 93.5,399.8 93.8,383.7 94.1,394.1 94.4,398.0 94.8,406.1 95.1,422.0 95.4,418.7 95.7,405.8 96.0,421.7 96.3,405.1 96.6,424.0 97.0,402.7 97.3,419.5 97.6,406.2 97.9,420.0 98.2,398.7 98.5,392.6 98.8,380.8 99.2,398.7 99.5,401.3 99.8,421.9 100.1,395.0 100.4,426.2 100.7,403.4 101.0,420.3 101.4,424.4 101.7,424.8 102.0,406.7 102.3,407.3 102.6,397.0 102.9,426.4 103.3,394.7 103.6,418.6 103.9,400.3 104.2,415.7 104.5,388.1 104.8,424.7 105.1,404.4 105.5,417.2 105.8,397.7 106.1,401.6 106.4,397.5 106.7,379.7 107.0,360.1 107.3,381.1 107.7,390.6 108.0,398.7 108.3,398.6 108.6,423.6 108.9,406.4 109.2,425.2 109.6,394.7 109.9,421.1 110.2,393.3 110.5,419.9 110.8,407.2 111.1,417.6 111.4,405.8 111.8,417.4 112.1,406.6 112.4,406.2 112.7,399.8 113.0,419.9 113.3,405.9 113.7,424.3 114.0,396.8 114.3,413.5 114.6,387.4 114.9,421.5 115.2,404.7 115.5,415.7 115.9,407.6 116.2,423.2 116.5,407.8 116.8,424.4 117.1,404.6 117.4,402.0 117.7,390.0 118.1,378.3 118.4,387.7 118.7,393.4 119.0,397.9 119.3,408.7 119.6,399.0 120.0,401.4 120.3,388.5 120.6,402.1 120.9,404.0 121.2,418.5 121.5,403.6 121.8,404.0 122.2,399.9 122.5,388.2 122.8,368.1 123.1,394.6 123.4,399.5 123.7,406.8 124.0,407.6 124.4,406.5 124.7,397.2 125.0,418.2 125.3,405.3 125.6,402.7 125.9,394.5 126.2,387.8 126.6,394.1 126.9,387.8 127.2,397.6 127.5,404.1 127.8,397.0 128.1,423.4 128.5,400.5 128.8,395.3 129.1,384.2 129.4,394.9 129.7,394.5 130.0,417.6 130.3,396.7 130.7,419.9 131.0,399.0 131.3,419.4 131.6,401.1 131.9,401.8 132.2,400.6 132.6,418.6 132.9,403.1 133.2,422.9 133.5,393.4 133.8,425.7 134.1,402.7 134.4,423.4 134.8,418.3 135.1,421.4 135.4,392.6 135.7,396.2 136.0,407.5 136.3,428.4 136.6,400.6 137.0,420.0 137.3,422.6 137.6,418.7 137.9,405.7 138.2,421.2 138.5,401.3 138.8,418.9 139.2,404.3 139.5,420.0 139.8,399.9 140.1,403.5 140.4,394.0 140.7,383.4 141.1,391.8 141.4,398.6 141.7,379.4 142.0,390.8 142.3,396.5 142.6,422.6 142.9,405.7 143.3,422.3 143.6,397.0 143.9,422.3 144.2,401.8 144.5,422.0 144.8,396.4 145.2,423.1 145.5,405.8 145.8,407.1 146.1,402.7 146.4,420.8 146.7,403.4 147.0,403.4 147.4,397.0 147.7,374.7 148.0,392.4 148.3,397.7 148.6,403.3 148.9,419.4 149.2,404.5 149.6,421.1 149.9,407.9 150.2,401.7 150.5,398.9 150.8,382.7 151.1,397.0 151.4,403.3 151.8,400.8 152.1,417.4 152.4,397.0 152.7,417.7 153.0,406.3 153.3,419.2 153.7,396.0 154.0,419.3 154.3,418.8 154.6,417.6 154.9,406.5 155.2,420.3 155.5,407.0 155.9,428.8 156.2,406.0 156.5,423.0 156.8,406.0 157.1,423.5 157.4,408.3 157.8,417.3 158.1,420.4 158.4,422.6 158.7,397.1 159.0,425.1 159.3,410.7 159.6,425.7 160.0,402.8 160.3,424.4 160.6,402.3 160.9,424.6 161.2,400.5 161.5,417.9 161.8,402.3 162.2,429.4 162.5,414.5 162.8,417.9 163.1,405.9 163.4,424.4 163.7,404.4 164.1,421.6 164.4,407.3 164.7,418.1 165.0,386.3 165.3,422.0 165.6,403.8 165.9,421.2 166.3,401.7 166.6,429.4 166.9,402.8 167.2,406.2 167.5,399.2 167.8,398.7 168.1,390.0 168.5,401.5 168.8,400.3 169.1,420.7 169.4,407.4 169.7,419.6 170.0,408.7 170.3,420.5 170.7,419.0 171.0,405.8 171.3,405.4 171.6,424.0 171.9,399.1 172.2,420.9 172.6,419.8 172.9,421.2 173.2,403.6 173.5,417.3 173.8,396.8 174.1,422.5 174.4,417.4 174.8,418.0 175.1,411.4 175.4,423.2 175.7,389.8 176.0,419.3 176.3,396.4 176.7,416.7 177.0,407.4 177.3,417.5 177.6,405.9 177.9,416.3 178.2,407.0 178.5,406.1 178.9,398.7 179.2,420.9 179.5,407.9 179.8,405.6 180.1,395.8 180.4,390.5 180.7,376.2 181.1,384.6 181.4,400.2 181.7,403.8 182.0,399.4 182.3,423.5 182.6,392.6 182.9,424.5 183.3,386.3 183.6,393.0 183.9,363.8 184.2,383.0 184.5,400.1 184.8,424.0 185.2,401.3 185.5,417.5 185.8,418.4 186.1,421.8 186.4,404.9 186.7,419.1 187.0,406.6 187.4,420.8 187.7,406.8 188.0,427.1 188.3,400.8 188.6,418.9 188.9,401.2 189.2,420.6 189.6,389.2 189.9,418.7 190.2,410.6 190.5,420.3 190.8,390.5 191.1,421.8 191.5,403.6 191.8,393.7 192.1,381.9 192.4,361.9 192.7,392.4 193.0,397.7 193.3,399.5 193.7,421.9 194.0,401.0 194.3,420.5 194.6,405.5 194.9,422.1 195.2,402.6 195.6,424.3 195.9,408.1 196.2,424.7 196.5,411.2 196.8,427.5 197.1,389.6 197.4,420.2 197.8,398.0 198.1,418.5 198.4,408.1 198.7,393.4 199.0,420.8 199.3,429.4 199.6,410.1 200.0,423.5 200.3,404.3 200.6,417.8 200.9,407.9 201.2,423.9 201.5,402.4 201.8,421.0 202.2,402.1 202.5,418.4 202.8,396.7 203.1,422.6 203.4,406.7 203.7,403.2 204.1,393.7 204.4,372.5 204.7,383.0 205.0,388.9" fill="none" stroke="#E25A14" stroke-width="1.75" stroke-linejoin="round"/>
<polyline points="47.8,405.8 48.1,406.7 48.4,406.7 48.8,397.1 49.1,386.5 49.4,372.9 49.7,390.0 50.0,401.2 50.3,422.6 50.6,419.8 51.0,406.2 51.3,420.4 51.6,403.0 51.9,419.1 52.2,404.3 52.5,417.7 52.9,403.7 53.2,428.1 53.5,407.6 53.8,420.2 54.1,399.4 54.4,425.0 54.7,407.0 55.1,420.7 55.4,407.5 55.7,420.8 56.0,404.5 56.3,422.3 56.6,398.8 57.0,422.9 57.3,401.1 57.6,420.2 57.9,392.6 58.2,422.0 58.5,400.5 58.8,421.4 59.2,407.6 59.5,422.8 59.8,405.6 60.1,420.2 60.4,404.5 60.7,417.3 61.0,401.6 61.4,417.7 61.7,405.2 62.0,420.6 62.3,403.3 62.6,415.4 62.9,397.8 63.2,418.9 63.6,391.7 63.9,418.3 64.2,407.8 64.5,420.9 64.8,406.5 65.1,404.8 65.5,405.3 65.8,419.9 66.1,403.0 66.4,427.5 66.7,390.4 67.0,426.7 67.3,403.3 67.7,421.7 68.0,407.9 68.3,421.0 68.6,403.9 68.9,406.8 69.2,396.3 69.5,376.0 69.9,344.1 70.2,377.1 70.5,384.8 70.8,423.8 71.1,418.2 71.4,418.9 71.8,406.5 72.1,422.6 72.4,406.3 72.7,424.1 73.0,402.9 73.3,420.7 73.6,406.2 74.0,420.7 74.3,420.6 74.6,406.9 74.9,398.4 75.2,393.7 75.5,384.1 75.8,357.8 76.2,336.8 76.5,370.2 76.8,394.9 77.1,421.5 77.4,406.1 77.7,414.2 78.1,402.7 78.4,422.7 78.7,399.4 79.0,399.6 79.3,385.7 79.6,420.7 79.9,400.1 80.3,397.5 80.6,387.8 80.9,396.5 81.2,404.6 81.5,425.9 81.8,404.5 82.2,419.8 82.5,401.1 82.8,397.4 83.1,392.9 83.4,381.3 83.7,397.2 84.0,405.1 84.4,399.0 84.7,423.7 85.0,422.4 85.3,423.6 85.6,401.2 85.9,417.3 86.2,407.9 86.6,423.5 86.9,406.5 87.2,420.2 87.5,399.0 87.8,422.7 88.1,396.3 88.5,423.1 88.8,391.9 89.1,426.8 89.4,397.5 89.7,422.1 90.0,423.3 90.3,421.5 90.7,418.1 91.0,423.2 91.3,392.2 91.6,424.0 91.9,403.5 92.2,426.6 92.5,399.0 92.9,416.2 93.2,400.0 93.5,418.6 93.8,407.5 94.1,417.4 94.4,406.9 94.8,420.9 95.1,407.6 95.4,419.2 95.7,385.7 96.0,406.2 96.3,400.4 96.6,383.4 97.0,394.5 97.3,399.3 97.6,392.1 97.9,417.4 98.2,407.3 98.5,423.8 98.8,407.8 99.2,424.0 99.5,405.0 99.8,418.1 100.1,407.8 100.4,420.0 100.7,404.8 101.0,423.8 101.4,398.8 101.7,417.9 102.0,394.0 102.3,399.2 102.6,394.1 102.9,375.0 103.3,385.8 103.6,401.0 103.9,399.8 104.2,418.2 104.5,399.6 104.8,419.7 105.1,402.6 105.5,420.0 105.8,398.9 106.1,402.6 106.4,392.3 106.7,421.3 107.0,401.1 107.3,418.0 107.7,399.2 108.0,422.8 108.3,386.5 108.6,422.9 108.9,403.0 109.2,424.7 109.6,402.0 109.9,419.6 110.2,400.3 110.5,421.3 110.8,404.5 111.1,422.7 111.4,403.9 111.8,419.6 112.1,419.4 112.4,421.6 112.7,407.3 113.0,425.4 113.3,398.7 113.7,418.9 114.0,407.4 114.3,417.9 114.6,391.8 114.9,423.3 115.2,405.2 115.5,420.8 115.9,402.0 116.2,425.1 116.5,385.3 116.8,417.8 117.1,407.3 117.4,421.9 117.7,385.9 118.1,417.3 118.4,407.4 118.7,404.7 119.0,403.3 119.3,417.6 119.6,399.5 120.0,419.0 120.3,395.4 120.6,419.1 120.9,401.6 121.2,396.1 121.5,395.4 121.8,398.6 122.2,398.3 122.5,394.0 122.8,371.8 123.1,388.9 123.4,400.1 123.7,407.4 124.0,405.7 124.4,422.9 124.7,400.1 125.0,420.4 125.3,407.4 125.6,418.2 125.9,403.6 126.2,422.6 126.6,396.1 126.9,403.9 127.2,406.3 127.5,417.8 127.8,384.8 128.1,421.4 128.5,396.6 128.8,424.4 129.1,420.5 129.4,421.8 129.7,408.6 130.0,398.5 130.3,407.0 130.7,407.6 131.0,397.1 131.3,426.0 131.6,402.5 131.9,424.8 132.2,401.6 132.6,426.0 132.9,402.3 133.2,420.3 133.5,403.6 133.8,421.8 134.1,424.9 134.4,421.2 134.8,397.2 135.1,420.5 135.4,406.1 135.7,423.5 136.0,402.3 136.3,401.8 136.6,385.9 137.0,376.5 137.3,358.2 137.6,389.9 137.9,401.1 138.2,414.6 138.5,401.3 138.8,424.8 139.2,404.6 139.5,420.1 139.8,404.0 140.1,423.8 140.4,390.6 140.7,420.2 141.1,409.2 141.4,418.7 141.7,400.7 142.0,419.8 142.3,406.5 142.6,424.2 142.9,394.2 143.3,423.7 143.6,407.2 143.9,422.9 144.2,407.4 144.5,412.7 144.8,397.2 145.2,387.6 145.5,358.7 145.8,390.7 146.1,399.5 146.4,402.2 146.7,398.5 147.0,419.2 147.4,398.4 147.7,422.2 148.0,406.1 148.3,419.3 148.6,404.5 148.9,417.6 149.2,405.3 149.6,422.0 149.9,397.2 150.2,425.8 150.5,408.6 150.8,407.8 151.1,401.6 151.4,419.6 151.8,403.8 152.1,422.0 152.4,399.3 152.7,416.0 153.0,404.0 153.3,420.7 153.7,407.8 154.0,417.6 154.3,402.8 154.6,423.0 154.9,406.7 155.2,407.6 155.5,399.0 155.9,403.1 156.2,392.2 156.5,402.2 156.8,405.3 157.1,406.8 157.4,409.4 157.8,422.1 158.1,398.5 158.4,419.2 158.7,392.4 159.0,423.5 159.3,402.7 159.6,421.4 160.0,409.9 160.3,419.1 160.6,405.4 160.9,406.6 161.2,400.4 161.5,421.6 161.8,387.8 162.2,407.8 162.5,402.1 162.8,406.7 163.1,403.2 163.4,399.1 163.7,385.6 164.1,400.3 164.4,396.0 164.7,424.2 165.0,419.7 165.3,418.0 165.6,407.2 165.9,418.5 166.3,405.8 166.6,423.0 166.9,385.1 167.2,413.3 167.5,406.0 167.8,418.6 168.1,406.2 168.5,424.3 168.8,398.7 169.1,423.8 169.4,425.4 169.7,418.4 170.0,397.6 170.3,422.9 170.7,406.5 171.0,427.2 171.3,405.3 171.6,419.6 171.9,403.1 172.2,395.5 172.6,385.0 172.9,368.1 173.2,387.0 173.5,396.0 173.8,399.5 174.1,422.0 174.4,395.7 174.8,421.5 175.1,404.6 175.4,417.3 175.7,405.5 176.0,397.8 176.3,384.6 176.7,371.5 177.0,381.4 177.3,387.2 177.6,395.2 177.9,424.6 178.2,407.0 178.5,417.3 178.9,404.8 179.2,429.3 179.5,403.7 179.8,427.2 180.1,403.4 180.4,419.9 180.7,405.2 181.1,419.8 181.4,398.7 181.7,418.5 182.0,394.7 182.3,423.8 182.6,408.7 182.9,422.4 183.3,395.2 183.6,418.9 183.9,397.5 184.2,419.3 184.5,394.4 184.8,387.9 185.2,367.4 185.5,384.0 185.8,395.0 186.1,424.3 186.4,401.2 186.7,401.0 187.0,391.4 187.4,382.7 187.7,399.4 188.0,404.1 188.3,401.5 188.6,420.9 188.9,403.9 189.2,423.9 189.6,406.9 189.9,427.8 190.2,392.9 190.5,422.1 190.8,392.2 191.1,427.8 191.5,402.4 191.8,421.8 192.1,400.1 192.4,399.8 192.7,404.8 193.0,418.5 193.3,397.5 193.7,393.6 194.0,384.2 194.3,400.4 194.6,404.6 194.9,408.1 195.2,404.9 195.6,405.5 195.9,399.7 196.2,406.1 196.5,391.3 196.8,420.9 197.1,403.6 197.4,426.5 197.8,407.6 198.1,417.3 198.4,388.7 198.7,424.5 199.0,417.8 199.3,420.6 199.6,405.4 200.0,424.4 200.3,400.9 200.6,418.7 200.9,420.4 201.2,423.4 201.5,396.7 201.8,395.6 202.2,383.4 202.5,390.1 202.8,396.6 203.1,406.9 203.4,392.9 203.7,423.9 204.1,396.4 204.4,429.0 204.7,407.6 205.0,424.4" fill="none" stroke="#998DC5" stroke-width="1.75" stroke-linejoin="round"/>
<polyline points="47.8,411.7 48.1,414.2 48.4,417.6 48.8,402.5 49.1,417.9 49.4,406.8 49.7,413.0 50.0,394.4 50.3,422.9 50.6,403.7 51.0,418.0 51.3,424.3 51.6,418.9 51.9,401.5 52.2,405.8 52.5,406.8 52.9,407.0 53.2,402.9 53.5,397.7 53.8,391.5 54.1,401.8 54.4,404.3 54.7,407.2 55.1,408.5 55.4,419.2 55.7,390.7 56.0,421.7 56.3,394.9 56.6,404.3 57.0,398.4 57.3,387.8 57.6,386.8 57.9,367.7 58.2,390.2 58.5,399.0 58.8,389.5 59.2,423.4 59.5,410.0 59.8,420.6 60.1,405.4 60.4,423.7 60.7,401.1 61.0,425.8 61.4,402.1 61.7,417.7 62.0,402.8 62.3,413.9 62.6,424.0 62.9,401.1 63.2,396.8 63.6,391.5 63.9,397.6 64.2,404.5 64.5,394.3 64.8,396.7 65.1,383.7 65.5,398.8 65.8,398.0 66.1,419.0 66.4,404.9 66.7,397.1 67.0,390.5 67.3,381.7 67.7,389.1 68.0,399.8 68.3,403.4 68.6,422.5 68.9,407.4 69.2,424.0 69.5,405.5 69.9,400.4 70.2,388.5 70.5,396.6 70.8,402.7 71.1,422.3 71.4,421.6 71.8,424.8 72.1,405.6 72.4,423.6 72.7,398.4 73.0,414.9 73.3,399.4 73.6,419.7 74.0,405.0 74.3,422.2 74.6,409.2 74.9,424.0 75.2,400.3 75.5,424.2 75.8,384.8 76.2,419.7 76.5,388.4 76.8,383.0 77.1,367.7 77.4,387.3 77.7,398.7 78.1,404.3 78.4,402.5 78.7,399.5 79.0,399.1 79.3,420.9 79.6,404.4 79.9,418.7 80.3,398.8 80.6,421.3 80.9,407.3 81.2,417.3 81.5,393.8 81.8,421.0 82.2,407.7 82.5,418.3 82.8,405.8 83.1,404.8 83.4,407.6 83.7,418.6 84.0,385.1 84.4,391.7 84.7,381.3 85.0,359.4 85.3,385.5 85.6,398.3 85.9,412.5 86.2,421.5 86.6,407.1 86.9,399.9 87.2,394.4 87.5,382.7 87.8,394.8 88.1,403.8 88.5,389.2 88.8,383.6 89.1,374.7 89.4,387.8 89.7,398.0 90.0,420.3 90.3,399.2 90.7,421.0 91.0,404.2 91.3,399.0 91.6,394.6 91.9,378.8 92.2,386.9 92.5,400.6 92.9,401.9 93.2,421.8 93.5,395.1 93.8,422.0 94.1,407.1 94.4,425.8 94.8,427.1 95.1,416.9 95.4,387.3 95.7,417.8 96.0,401.3 96.3,417.3 96.6,384.8 97.0,419.1 97.3,392.5 97.6,424.6 97.9,421.7 98.2,421.4 98.5,403.7 98.8,390.5 99.2,403.9 99.5,404.9 99.8,398.9 100.1,385.6 100.4,400.9 100.7,405.4 101.0,408.0 101.4,399.0 101.7,401.5 102.0,421.8 102.3,397.6 102.6,421.3 102.9,403.7 103.3,405.8 103.6,405.3 103.9,426.2 104.2,391.8 104.5,420.7 104.8,420.4 105.1,408.0 105.5,391.1 105.8,399.7 106.1,382.7 106.4,393.6 106.7,399.7 107.0,405.2 107.3,405.5 107.7,420.2 108.0,406.2 108.3,424.7 108.6,402.4 108.9,404.3 109.2,404.7 109.6,422.4 109.9,395.4 110.2,393.6 110.5,420.7 110.8,405.5 111.1,398.3 111.4,385.7 111.8,372.5 112.1,394.3 112.4,400.6 112.7,404.9 113.0,378.8 113.3,370.7 113.7,356.5 114.0,376.4 114.3,394.6 114.6,421.8 114.9,404.5 115.2,422.8 115.5,404.6 115.9,380.8 116.2,362.3 116.5,339.0 116.8,384.5 117.1,400.6 117.4,404.8 117.7,419.8 118.1,407.8 118.4,423.8 118.7,405.7 119.0,420.9 119.3,402.6 119.6,422.6 120.0,401.9 120.3,422.3 120.6,407.8 120.9,419.3 121.2,388.9 121.5,421.6 121.8,390.0 122.2,422.1 122.5,424.3 122.8,419.2 123.1,407.4 123.4,406.4 123.7,401.9 124.0,397.7 124.4,390.0 124.7,400.8 125.0,400.6 125.3,407.6 125.6,404.7 125.9,420.4 126.2,395.4 126.6,419.8 126.9,399.2 127.2,422.9 127.5,402.0 127.8,417.5 128.1,407.8 128.5,417.6 128.8,403.4 129.1,403.8 129.4,397.8 129.7,389.7 130.0,363.3 130.3,385.7 130.7,392.2 131.0,423.6 131.3,400.0 131.6,395.6 131.9,390.7 132.2,398.0 132.6,405.4 132.9,421.0 133.2,400.5 133.5,416.2 133.8,418.2 134.1,417.6 134.4,387.7 134.8,422.5 135.1,403.8 135.4,396.7 135.7,393.3 136.0,384.2 136.3,393.6 136.6,398.3 137.0,403.0 137.3,414.1 137.6,398.9 137.9,405.1 138.2,387.8 138.5,417.9 138.8,407.4 139.2,404.1 139.5,400.2 139.8,390.0 140.1,395.2 140.4,402.9 140.7,406.3 141.1,425.2 141.4,411.6 141.7,417.3 142.0,404.3 142.3,418.9 142.6,419.8 142.9,419.1 143.3,407.5 143.6,427.2 143.9,405.6 144.2,418.6 144.5,402.6 144.8,420.1 145.2,399.7 145.5,418.2 145.8,385.2 146.1,392.5 146.4,393.8 146.7,417.8 147.0,407.6 147.4,423.7 147.7,419.0 148.0,420.8 148.3,398.8 148.6,417.9 148.9,407.1 149.2,420.1 149.6,397.0 149.9,423.9 150.2,405.6 150.5,398.1 150.8,395.0 151.1,423.1 151.4,408.6 151.8,429.4 152.1,396.0 152.4,402.2 152.7,397.1 153.0,375.9 153.3,393.6 153.7,397.9 154.0,412.4 154.3,417.9 154.6,405.2 154.9,426.7 155.2,393.2 155.5,422.3 155.9,402.0 156.2,422.2 156.5,404.8 156.8,405.8 157.1,403.5 157.4,393.8 157.8,383.4 158.1,399.9 158.4,398.7 158.7,406.7 159.0,405.0 159.3,419.8 159.6,402.4 160.0,419.2 160.3,397.7 160.6,382.2 160.9,371.0 161.2,391.9 161.5,396.4 161.8,419.2 162.2,406.8 162.5,418.8 162.8,398.5 163.1,418.1 163.4,403.4 163.7,411.5 164.1,422.1 164.4,416.1 164.7,425.2 165.0,407.2 165.3,395.2 165.6,397.7 165.9,376.9 166.3,391.3 166.6,398.3 166.9,407.3 167.2,405.6 167.5,419.6 167.8,406.8 168.1,420.9 168.5,405.4 168.8,402.8 169.1,391.2 169.4,390.7 169.7,401.7 170.0,402.8 170.3,406.3 170.7,420.2 171.0,422.2 171.3,426.4 171.6,407.7 171.9,418.4 172.2,399.9 172.6,419.6 172.9,401.5 173.2,419.8 173.5,407.9 173.8,401.6 174.1,395.8 174.4,379.1 174.8,387.2 175.1,385.9 175.4,363.3 175.7,393.3 176.0,399.9 176.3,408.0 176.7,402.5 177.0,421.3 177.3,395.2 177.6,403.4 177.9,400.1 178.2,393.7 178.5,372.9 178.9,390.4 179.2,397.1 179.5,404.1 179.8,401.7 180.1,429.4 180.4,392.6 180.7,417.9 181.1,404.8 181.4,404.1 181.7,401.1 182.0,395.3 182.3,387.1 182.6,396.5 182.9,400.1 183.3,406.4 183.6,411.5 183.9,418.4 184.2,397.4 184.5,394.1 184.8,400.6 185.2,421.6 185.5,423.1 185.8,419.1 186.1,403.8 186.4,419.4 186.7,404.4 187.0,422.1 187.4,401.9 187.7,417.7 188.0,407.4 188.3,395.3 188.6,429.4 188.9,405.4 189.2,397.3 189.6,383.4 189.9,394.1 190.2,404.1 190.5,391.5 190.8,417.5 191.1,394.0 191.5,422.3 191.8,398.2 192.1,399.6 192.4,386.9 192.7,417.6 193.0,400.1 193.3,424.0 193.7,424.7 194.0,419.7 194.3,407.4 194.6,414.3 194.9,406.3 195.2,418.1 195.6,404.1 195.9,399.3 196.2,385.6 196.5,392.5 196.8,401.2 197.1,405.0 197.4,404.5 197.8,417.8 198.1,406.9 198.4,426.2 198.7,402.0 199.0,420.8 199.3,406.4 199.6,422.8 200.0,403.5 200.3,399.5 200.6,393.7 200.9,403.0 201.2,405.6 201.5,417.9 201.8,401.9 202.2,421.3 202.5,406.3 202.8,423.0 203.1,398.3 203.4,420.8 203.7,403.2 204.1,428.8 204.4,429.4 204.7,420.7 205.0,398.8" fill="none" stroke="#401675" stroke-width="1.75" stroke-linejoin="round"/>
<line x1="40.05" y1="332.0" x2="40.05" y2="436.59999999999997" stroke="#333333" stroke-width="1.5"/>
<line x1="39.75" y1="435.4" x2="212.35000000000002" y2="435.4" stroke="#222" stroke-width="2.65"/>
<line x1="35.849999999999994" y1="356.6" x2="40.05" y2="356.6" stroke="#333333" stroke-width="1.4"/>
<text x="32.949999999999996" y="361.55" text-anchor="end" class="a">3</text>
<line x1="35.849999999999994" y1="383.2" x2="40.05" y2="383.2" stroke="#333333" stroke-width="1.4"/>
<text x="32.949999999999996" y="388.15" text-anchor="end" class="a">2</text>
<line x1="35.849999999999994" y1="409.75" x2="40.05" y2="409.75" stroke="#333333" stroke-width="1.4"/>
<text x="32.949999999999996" y="414.7" text-anchor="end" class="a">1</text>
<line x1="47.50" y1="436.4" x2="47.50" y2="439.09999999999997" stroke="#333333" stroke-width="1.4"/>
<text x="47.50" y="451.2" text-anchor="middle" class="a">500</text>
<line x1="79.00" y1="436.4" x2="79.00" y2="439.09999999999997" stroke="#333333" stroke-width="1.4"/>
<text x="79.00" y="451.2" text-anchor="middle" class="a">600</text>
<line x1="110.50" y1="436.4" x2="110.50" y2="439.09999999999997" stroke="#333333" stroke-width="1.4"/>
<text x="110.50" y="451.2" text-anchor="middle" class="a">700</text>
<line x1="142.00" y1="436.4" x2="142.00" y2="439.09999999999997" stroke="#333333" stroke-width="1.4"/>
<text x="142.00" y="451.2" text-anchor="middle" class="a">800</text>
<line x1="173.50" y1="436.4" x2="173.50" y2="439.09999999999997" stroke="#333333" stroke-width="1.4"/>
<text x="173.50" y="451.2" text-anchor="middle" class="a">900</text>
<line x1="205.00" y1="436.4" x2="205.00" y2="439.09999999999997" stroke="#333333" stroke-width="1.4"/>
<text x="205.00" y="451.2" text-anchor="middle" class="a">1000</text>
<text x="126.20" y="325.0" text-anchor="middle" class="s">alpha[7]</text>
<polyline points="240.8,410.3 241.1,404.1 241.4,403.1 241.8,399.3 242.1,417.7 242.4,404.3 242.7,400.0 243.0,385.6 243.3,394.1 243.7,393.8 244.0,404.1 244.3,403.9 244.6,426.9 244.9,405.2 245.2,418.1 245.5,383.7 245.9,403.2 246.2,393.7 246.5,404.3 246.8,389.1 247.1,394.1 247.4,382.0 247.7,393.3 248.1,399.4 248.4,418.0 248.7,391.2 249.0,416.7 249.3,405.2 249.6,421.8 249.9,399.2 250.3,424.0 250.6,401.0 250.9,423.8 251.2,405.8 251.5,421.4 251.8,398.9 252.2,411.6 252.5,401.2 252.8,423.3 253.1,404.9 253.4,418.6 253.7,404.4 254.0,421.9 254.4,400.8 254.7,403.2 255.0,390.0 255.3,379.6 255.6,362.3 255.9,383.1 256.2,395.5 256.6,420.2 256.9,401.9 257.2,422.6 257.5,390.8 257.8,423.2 258.1,392.0 258.5,420.1 258.8,399.5 259.1,413.4 259.4,391.7 259.7,418.7 260.0,387.1 260.3,373.5 260.7,359.8 261.0,380.6 261.3,386.7 261.6,403.5 261.9,418.0 262.2,422.5 262.6,395.9 262.9,422.2 263.2,404.0 263.5,404.1 263.8,408.3 264.1,419.7 264.4,387.8 264.8,416.8 265.1,399.5 265.4,416.3 265.7,401.9 266.0,420.4 266.3,391.8 266.6,400.2 267.0,393.7 267.3,423.3 267.6,403.8 267.9,419.8 268.2,405.1 268.5,418.7 268.9,392.8 269.2,417.4 269.5,404.0 269.8,418.7 270.1,390.8 270.4,417.1 270.7,405.0 271.1,399.7 271.4,396.6 271.7,383.4 272.0,391.1 272.3,395.7 272.6,398.7 272.9,404.5 273.3,397.5 273.6,419.6 273.9,404.8 274.2,416.2 274.5,424.7 274.8,417.6 275.1,399.1 275.5,417.2 275.8,411.0 276.1,422.9 276.4,397.8 276.7,419.4 277.0,394.0 277.4,416.8 277.7,404.2 278.0,416.2 278.3,402.8 278.6,418.5 278.9,404.3 279.2,429.1 279.6,405.3 279.9,403.5 280.2,397.7 280.5,419.3 280.8,402.6 281.1,420.1 281.4,405.3 281.8,418.3 282.1,400.8 282.4,419.7 282.7,403.3 283.0,417.0 283.3,405.1 283.7,420.6 284.0,395.2 284.3,416.4 284.6,405.8 284.9,416.1 285.2,400.0 285.5,419.6 285.9,388.4 286.2,416.3 286.5,399.1 286.8,417.0 287.1,402.0 287.4,423.4 287.8,399.7 288.1,428.2 288.4,385.1 288.7,417.7 289.0,395.0 289.3,389.6 289.6,374.0 290.0,393.9 290.3,391.5 290.6,404.5 290.9,399.7 291.2,399.9 291.5,395.7 291.8,376.2 292.2,391.3 292.5,401.1 292.8,388.3 293.1,422.5 293.4,401.9 293.7,416.7 294.1,400.8 294.4,414.3 294.7,404.5 295.0,413.1 295.3,396.8 295.6,424.0 295.9,393.0 296.3,423.2 296.6,402.0 296.9,420.0 297.2,385.7 297.5,412.5 297.8,401.9 298.1,417.7 298.5,421.7 298.8,394.5 299.1,383.9 299.4,355.0 299.7,385.7 300.0,385.0 300.4,363.3 300.7,375.0 301.0,394.6 301.3,402.1 301.6,402.5 301.9,391.9 302.2,408.3 302.6,419.0 302.9,398.2 303.2,393.4 303.5,386.3 303.8,373.1 304.1,354.0 304.4,383.9 304.8,394.6 305.1,381.1 305.4,367.4 305.7,382.4 306.0,394.2 306.3,394.8 306.6,387.4 307.0,354.0 307.3,369.8 307.6,393.8 307.9,392.9 308.2,420.4 308.5,393.2 308.9,416.2 309.2,394.8 309.5,420.6 309.8,394.7 310.1,418.3 310.4,396.7 310.7,422.3 311.1,399.5 311.4,420.6 311.7,406.0 312.0,426.7 312.3,385.8 312.6,394.3 312.9,374.0 313.3,388.3 313.6,397.9 313.9,406.0 314.2,420.4 314.5,419.8 314.8,392.0 315.2,419.6 315.5,399.7 315.8,419.6 316.1,395.6 316.4,416.7 316.7,392.0 317.0,425.8 317.4,392.8 317.7,402.0 318.0,390.6 318.3,381.3 318.6,393.5 318.9,399.3 319.2,402.6 319.6,422.1 319.9,400.3 320.2,419.6 320.5,398.8 320.8,416.1 321.1,418.3 321.5,422.1 321.8,390.6 322.1,416.7 322.4,402.8 322.7,377.7 323.0,358.9 323.3,336.8 323.7,361.7 324.0,377.9 324.3,408.5 324.6,419.6 324.9,400.5 325.2,426.0 325.6,398.4 325.9,418.2 326.2,387.8 326.5,420.3 326.8,405.0 327.1,423.4 327.4,405.7 327.8,418.3 328.1,387.6 328.4,423.1 328.7,403.6 329.0,418.2 329.3,400.8 329.6,421.4 330.0,403.5 330.3,424.9 330.6,422.6 330.9,397.4 331.2,394.6 331.5,379.1 331.9,389.5 332.2,398.3 332.5,402.1 332.8,426.3 333.1,391.0 333.4,416.6 333.7,405.1 334.1,418.5 334.4,410.7 334.7,420.5 335.0,405.7 335.3,421.4 335.6,405.4 335.9,422.2 336.3,399.6 336.6,396.7 336.9,377.3 337.2,357.9 337.5,371.7 337.8,389.2 338.1,405.5 338.5,417.0 338.8,394.6 339.1,389.4 339.4,381.3 339.7,392.1 340.0,402.3 340.4,406.3 340.7,394.1 341.0,424.1 341.3,391.2 341.6,425.6 341.9,402.6 342.2,421.9 342.6,421.3 342.9,421.4 343.2,405.9 343.5,423.6 343.8,392.1 344.1,420.6 344.4,403.2 344.8,422.0 345.1,397.5 345.4,416.9 345.7,394.9 346.0,417.7 346.3,395.6 346.7,419.1 347.0,405.7 347.3,416.2 347.6,404.2 347.9,417.5 348.2,405.9 348.5,418.5 348.9,394.8 349.2,422.1 349.5,397.8 349.8,416.7 350.1,417.0 350.4,416.2 350.8,388.0 351.1,393.5 351.4,388.5 351.7,371.8 352.0,381.7 352.3,396.9 352.6,390.7 353.0,400.6 353.3,402.3 353.6,421.4 353.9,386.6 354.2,420.4 354.5,400.0 354.8,429.0 355.2,401.8 355.5,425.1 355.8,397.5 356.1,423.8 356.4,395.8 356.7,425.7 357.1,385.3 357.4,428.5 357.7,389.6 358.0,417.1 358.3,398.6 358.6,394.6 358.9,381.9 359.3,374.0 359.6,358.9 359.9,376.9 360.2,386.8 360.5,397.7 360.8,399.4 361.1,421.6 361.5,404.7 361.8,417.0 362.1,397.7 362.4,419.7 362.7,403.0 363.0,420.1 363.4,390.1 363.7,389.8 364.0,373.4 364.3,346.7 364.6,366.3 364.9,388.7 365.2,392.1 365.6,420.4 365.9,415.8 366.2,421.3 366.5,423.5 366.8,418.7 367.1,401.2 367.4,420.4 367.8,402.9 368.1,394.2 368.4,370.6 368.7,383.8 369.0,396.0 369.3,403.0 369.6,404.0 370.0,427.2 370.3,391.8 370.6,407.0 370.9,395.2 371.2,401.4 371.5,389.3 371.9,394.9 372.2,388.6 372.5,401.3 372.8,398.4 373.1,421.4 373.4,386.4 373.7,416.7 374.1,401.3 374.4,417.3 374.7,402.6 375.0,416.8 375.3,404.0 375.6,425.8 375.9,394.2 376.3,424.2 376.6,400.7 376.9,427.0 377.2,395.3 377.5,396.9 377.8,384.2 378.2,396.2 378.5,390.1 378.8,395.4 379.1,396.5 379.4,397.2 379.7,390.9 380.0,396.5 380.4,376.9 380.7,389.1 381.0,393.7 381.3,416.4 381.6,396.8 381.9,418.6 382.2,388.4 382.6,423.2 382.9,399.0 383.2,421.1 383.5,404.3 383.8,413.3 384.1,401.2 384.5,405.4 384.8,381.9 385.1,395.0 385.4,380.5 385.7,398.5 386.0,399.5 386.3,406.5 386.7,404.3 387.0,416.5 387.3,420.5 387.6,418.1 387.9,402.1 388.2,418.6 388.6,392.9 388.9,378.2 389.2,362.0 389.5,386.1 389.8,391.9 390.1,400.5 390.4,402.5 390.8,423.7 391.1,402.7 391.4,420.9 391.7,391.6 392.0,401.2 392.3,394.9 392.6,390.0 393.0,399.4 393.3,401.2 393.6,398.5 393.9,424.9 394.2,388.4 394.5,414.0 394.9,399.3 395.2,421.2 395.5,393.9 395.8,398.8 396.1,423.8 396.4,418.8 396.7,405.2 397.1,424.2 397.4,393.2 397.7,423.7 398.0,403.3" fill="none" stroke="#E25A14" stroke-width="1.75" stroke-linejoin="round"/>
<polyline points="240.8,404.4 241.1,411.3 241.4,414.4 241.8,414.5 242.1,398.8 242.4,416.1 242.7,407.9 243.0,427.2 243.3,403.4 243.7,421.4 244.0,398.0 244.3,402.9 244.6,401.6 244.9,416.1 245.2,403.8 245.5,419.4 245.9,401.1 246.2,417.1 246.5,405.7 246.8,419.8 247.1,409.3 247.4,419.9 247.7,403.6 248.1,395.8 248.4,397.7 248.7,389.1 249.0,381.1 249.3,371.8 249.6,388.3 249.9,393.6 250.3,392.4 250.6,383.2 250.9,355.4 251.2,378.1 251.5,386.1 251.8,392.4 252.2,386.1 252.5,377.6 252.8,396.2 253.1,402.2 253.4,405.4 253.7,417.5 254.0,419.8 254.4,420.5 254.7,404.5 255.0,428.1 255.3,386.7 255.6,426.1 255.9,399.0 256.2,417.7 256.6,403.2 256.9,398.8 257.2,388.5 257.5,374.0 257.8,383.3 258.1,398.6 258.5,396.6 258.8,379.8 259.1,391.4 259.4,402.3 259.7,403.3 260.0,423.9 260.3,388.7 260.7,421.7 261.0,399.3 261.3,420.6 261.6,383.6 261.9,417.6 262.2,398.9 262.6,402.1 262.9,395.9 263.2,376.9 263.5,387.1 263.8,398.1 264.1,397.2 264.4,417.8 264.8,400.4 265.1,418.2 265.4,402.2 265.7,414.1 266.0,399.9 266.3,426.0 266.6,400.3 267.0,396.0 267.3,404.5 267.6,397.4 267.9,419.5 268.2,396.2 268.5,416.7 268.9,416.5 269.2,385.5 269.5,403.2 269.8,394.7 270.1,419.3 270.4,403.4 270.7,416.4 271.1,404.5 271.4,423.3 271.7,410.6 272.0,418.3 272.3,400.3 272.6,413.6 272.9,397.7 273.3,427.3 273.6,393.3 273.9,413.9 274.2,421.2 274.5,416.3 274.8,403.0 275.1,421.8 275.5,400.0 275.8,419.3 276.1,417.4 276.4,400.7 276.7,389.5 277.0,377.8 277.4,357.2 277.7,379.9 278.0,391.5 278.3,398.8 278.6,386.0 278.9,416.1 279.2,403.5 279.6,416.4 279.9,398.1 280.2,416.3 280.5,398.0 280.8,416.9 281.1,400.4 281.4,423.8 281.8,405.5 282.1,419.3 282.4,388.3 282.7,403.4 283.0,401.0 283.3,417.1 283.7,400.0 284.0,416.4 284.3,384.2 284.6,398.4 284.9,392.0 285.2,381.3 285.5,398.7 285.9,402.9 286.2,403.6 286.5,416.6 286.8,403.2 287.1,419.9 287.4,405.9 287.8,416.4 288.1,401.5 288.4,416.6 288.7,400.4 289.0,421.9 289.3,400.2 289.6,385.4 290.0,360.9 290.3,343.3 290.6,361.1 290.9,379.9 291.2,405.6 291.5,417.6 291.8,401.0 292.2,417.5 292.5,404.3 292.8,418.5 293.1,396.3 293.4,416.3 293.7,399.2 294.1,419.3 294.4,403.6 294.7,417.1 295.0,405.4 295.3,418.0 295.6,394.5 295.9,389.4 296.3,393.2 296.6,419.3 296.9,393.5 297.2,420.2 297.5,409.2 297.8,421.2 298.1,386.9 298.5,423.4 298.8,402.6 299.1,424.7 299.4,394.2 299.7,419.1 300.0,405.2 300.4,429.3 300.7,404.9 301.0,417.8 301.3,391.9 301.6,396.8 301.9,419.8 302.2,416.3 302.6,403.0 302.9,422.8 303.2,405.7 303.5,417.5 303.8,385.7 304.1,421.3 304.4,400.8 304.8,416.3 305.1,381.9 305.4,420.9 305.7,407.5 306.0,423.8 306.3,401.9 306.6,397.0 307.0,376.9 307.3,385.9 307.6,394.4 307.9,418.0 308.2,395.9 308.5,422.9 308.9,402.4 309.2,401.2 309.5,398.9 309.8,387.4 310.1,363.3 310.4,387.2 310.7,399.1 311.1,405.9 311.4,420.1 311.7,419.0 312.0,405.7 312.3,421.2 312.6,389.2 312.9,419.0 313.3,401.4 313.6,426.0 313.9,404.7 314.2,394.9 314.5,405.2 314.8,419.6 315.2,402.3 315.5,398.4 315.8,410.5 316.1,393.1 316.4,397.7 316.7,399.9 317.0,399.8 317.4,388.5 317.7,400.7 318.0,412.6 318.3,386.1 318.6,411.8 318.9,393.8 319.2,421.6 319.6,398.3 319.9,418.7 320.2,405.4 320.5,405.1 320.8,399.9 321.1,418.9 321.5,408.4 321.8,419.2 322.1,395.9 322.4,420.9 322.7,394.6 323.0,422.5 323.3,419.2 323.7,423.2 324.0,381.9 324.3,421.6 324.6,425.3 324.9,403.3 325.2,402.1 325.6,404.9 325.9,402.9 326.2,397.7 326.5,382.0 326.8,396.8 327.1,400.9 327.4,397.2 327.8,405.2 328.1,418.5 328.4,394.7 328.7,420.8 329.0,402.0 329.3,418.1 329.6,427.4 330.0,395.7 330.3,395.5 330.6,405.4 330.9,405.9 331.2,418.2 331.5,396.2 331.9,417.6 332.2,386.0 332.5,427.3 332.8,404.7 333.1,415.3 333.4,407.0 333.7,405.7 334.1,401.9 334.4,395.5 334.7,384.9 335.0,391.9 335.3,395.7 335.6,404.1 335.9,401.9 336.3,414.4 336.6,404.9 336.9,419.7 337.2,402.9 337.5,420.0 337.8,386.8 338.1,399.3 338.5,421.7 338.8,425.2 339.1,389.0 339.4,401.1 339.7,401.5 340.0,391.3 340.4,379.2 340.7,366.7 341.0,381.9 341.3,396.4 341.6,393.0 341.9,418.4 342.2,397.8 342.6,390.9 342.9,374.0 343.2,386.1 343.5,400.1 343.8,420.3 344.1,401.2 344.4,423.1 344.8,401.8 345.1,417.0 345.4,395.1 345.7,418.2 346.0,398.7 346.3,391.0 346.7,383.0 347.0,368.9 347.3,387.7 347.6,397.1 347.9,405.7 348.2,411.9 348.5,404.0 348.9,420.9 349.2,388.8 349.5,424.1 349.8,403.1 350.1,422.7 350.4,395.7 350.8,423.5 351.1,418.2 351.4,424.1 351.7,416.4 352.0,393.5 352.3,421.2 352.6,417.8 353.0,391.4 353.3,423.5 353.6,399.9 353.9,413.7 354.2,391.2 354.5,423.0 354.8,421.3 355.2,416.7 355.5,406.0 355.8,411.3 356.1,403.0 356.4,418.7 356.7,396.9 357.1,416.9 357.4,386.1 357.7,416.3 358.0,408.0 358.3,425.6 358.6,402.7 358.9,427.0 359.3,403.5 359.6,417.3 359.9,421.1 360.2,400.3 360.5,392.0 360.8,382.3 361.1,366.2 361.5,377.0 361.8,393.8 362.1,423.2 362.4,389.7 362.7,422.2 363.0,400.6 363.4,421.9 363.7,393.9 364.0,427.7 364.3,404.3 364.6,417.8 364.9,399.9 365.2,427.7 365.6,405.9 365.9,418.0 366.2,403.0 366.5,404.8 366.8,396.0 367.1,392.9 367.4,385.6 367.8,399.4 368.1,395.2 368.4,417.7 368.7,401.0 369.0,403.3 369.3,399.4 369.6,392.3 370.0,367.0 370.3,379.8 370.6,391.9 370.9,401.9 371.2,402.4 371.5,420.7 371.9,405.9 372.2,422.0 372.5,404.0 372.8,418.4 373.1,398.1 373.4,425.0 373.7,397.0 374.1,425.6 374.4,418.9 374.7,419.4 375.0,396.5 375.3,420.7 375.6,388.2 375.9,417.2 376.3,401.4 376.6,416.8 376.9,396.5 377.2,414.6 377.5,407.2 377.8,418.0 378.2,405.5 378.5,419.1 378.8,404.1 379.1,422.2 379.4,399.1 379.7,404.5 380.0,398.1 380.4,422.9 380.7,399.8 381.0,417.4 381.3,403.5 381.6,398.1 381.9,393.1 382.2,421.4 382.6,399.5 382.9,427.8 383.2,405.4 383.5,426.8 383.8,420.6 384.1,420.0 384.5,402.3 384.8,421.6 385.1,416.4 385.4,423.7 385.7,402.4 386.0,423.3 386.3,400.7 386.7,417.4 387.0,392.6 387.3,415.6 387.6,385.8 387.9,393.8 388.2,403.3 388.6,419.0 388.9,426.2 389.2,421.1 389.5,422.1 389.8,417.8 390.1,408.4 390.4,418.1 390.8,390.4 391.1,417.7 391.4,397.7 391.7,417.0 392.0,400.4 392.3,422.2 392.6,425.7 393.0,425.4 393.3,396.6 393.6,403.4 393.9,397.1 394.2,390.7 394.5,396.2 394.9,401.7 395.2,393.2 395.5,423.9 395.8,401.5 396.1,418.3 396.4,383.1 396.7,419.6 397.1,417.0 397.4,418.5 397.7,400.1 398.0,415.0" fill="none" stroke="#998DC5" stroke-width="1.75" stroke-linejoin="round"/>
<polyline points="240.8,391.6 241.1,371.8 241.4,384.7 241.8,393.5 242.1,404.7 242.4,403.8 242.7,391.8 243.0,413.7 243.3,390.0 243.7,421.6 244.0,399.6 244.3,418.2 244.6,403.5 244.9,417.3 245.2,398.1 245.5,423.4 245.9,395.6 246.2,429.3 246.5,403.0 246.8,418.3 247.1,392.7 247.4,416.2 247.7,405.9 248.1,418.0 248.4,398.6 248.7,422.5 249.0,399.2 249.3,422.4 249.6,395.6 249.9,421.8 250.3,410.7 250.6,395.5 250.9,398.5 251.2,416.5 251.5,404.8 251.8,402.2 252.2,406.9 252.5,422.4 252.8,405.9 253.1,418.6 253.4,393.9 253.7,418.9 254.0,390.6 254.4,387.6 254.7,359.4 255.0,388.6 255.3,393.4 255.6,420.5 255.9,405.2 256.2,417.0 256.6,403.4 256.9,420.8 257.2,403.6 257.5,419.5 257.8,428.0 258.1,422.3 258.5,403.6 258.8,416.5 259.1,409.8 259.4,426.4 259.7,417.5 260.0,429.0 260.3,396.6 260.7,429.1 261.0,404.9 261.3,421.8 261.6,388.9 261.9,421.8 262.2,410.1 262.6,421.2 262.9,400.5 263.2,425.2 263.5,395.4 263.8,425.7 264.1,396.4 264.4,401.9 264.8,399.4 265.1,391.5 265.4,382.0 265.7,394.0 266.0,386.9 266.3,403.0 266.6,400.9 267.0,393.5 267.3,397.9 267.6,397.3 267.9,381.8 268.2,358.9 268.5,389.1 268.9,395.1 269.2,399.8 269.5,397.6 269.8,378.8 270.1,395.4 270.4,403.4 270.7,404.0 271.1,407.2 271.4,418.3 271.7,399.9 272.0,416.4 272.3,422.9 272.6,419.2 272.9,393.3 273.3,396.3 273.6,388.9 273.9,359.8 274.2,388.2 274.5,393.8 274.8,393.9 275.1,383.7 275.5,365.2 275.8,376.6 276.1,383.0 276.4,400.1 276.7,400.5 277.0,422.7 277.4,390.6 277.7,418.6 278.0,394.4 278.3,418.1 278.6,403.6 278.9,419.0 279.2,402.5 279.6,397.1 279.9,378.8 280.2,393.7 280.5,401.9 280.8,404.3 281.1,390.8 281.4,379.0 281.8,361.6 282.1,378.3 282.4,386.4 282.7,403.6 283.0,385.1 283.3,417.6 283.7,405.3 284.0,422.6 284.3,421.2 284.6,416.9 284.9,399.6 285.2,418.3 285.5,400.2 285.9,397.4 286.2,384.9 286.5,393.0 286.8,397.7 287.1,424.3 287.4,391.2 287.8,382.6 288.1,404.0 288.4,411.8 288.7,397.5 289.0,423.1 289.3,395.3 289.6,423.8 290.0,401.3 290.3,416.1 290.6,387.8 290.9,421.8 291.2,401.0 291.5,421.1 291.8,399.9 292.2,415.6 292.5,395.5 292.8,417.0 293.1,396.3 293.4,420.2 293.7,393.3 294.1,400.5 294.4,392.2 294.7,383.4 295.0,393.2 295.3,397.9 295.6,387.8 295.9,361.1 296.3,383.3 296.6,395.5 296.9,400.5 297.2,400.5 297.5,401.6 297.8,407.1 298.1,398.9 298.5,422.4 298.8,397.9 299.1,394.4 299.4,390.4 299.7,380.5 300.0,387.6 300.4,399.2 300.7,399.9 301.0,418.0 301.3,393.4 301.6,416.1 301.9,397.5 302.2,416.3 302.6,405.0 302.9,400.4 303.2,393.4 303.5,382.7 303.8,391.8 304.1,401.6 304.4,387.8 304.8,420.5 305.1,405.2 305.4,420.6 305.7,389.0 306.0,418.4 306.3,397.4 306.6,428.9 307.0,403.8 307.3,422.2 307.6,403.9 307.9,421.7 308.2,404.1 308.5,418.4 308.9,404.0 309.2,420.8 309.5,404.0 309.8,420.8 310.1,399.6 310.4,423.8 310.7,384.4 311.1,428.0 311.4,420.6 311.7,423.7 312.0,418.4 312.3,421.8 312.6,405.7 312.9,421.5 313.3,401.2 313.6,397.4 313.9,387.4 314.2,378.3 314.5,386.9 314.8,392.9 315.2,399.2 315.5,397.2 315.8,381.2 316.1,371.8 316.4,387.4 316.7,392.0 317.0,395.1 317.4,375.4 317.7,384.2 318.0,375.4 318.3,387.7 318.6,398.0 318.9,387.7 319.2,417.9 319.6,405.4 319.9,396.8 320.2,392.4 320.5,382.7 320.8,393.5 321.1,372.9 321.5,381.9 321.8,390.8 322.1,402.1 322.4,424.1 322.7,395.7 323.0,420.6 323.3,396.4 323.7,418.1 324.0,423.4 324.3,417.5 324.6,404.0 324.9,419.6 325.2,406.0 325.6,420.7 325.9,399.2 326.2,421.4 326.5,403.3 326.8,420.8 327.1,400.8 327.4,421.7 327.8,404.7 328.1,421.7 328.4,401.3 328.7,399.2 329.0,385.6 329.3,395.9 329.6,398.5 330.0,404.1 330.3,406.0 330.6,400.0 330.9,404.7 331.2,420.3 331.5,405.9 331.9,420.6 332.2,401.5 332.5,421.9 332.8,394.8 333.1,420.8 333.4,405.1 333.7,420.1 334.1,401.3 334.4,413.1 334.7,390.1 335.0,423.9 335.3,392.7 335.6,426.4 335.9,400.7 336.3,424.3 336.6,383.3 336.9,419.1 337.2,404.0 337.5,424.4 337.8,400.3 338.1,419.3 338.5,395.8 338.8,418.9 339.1,401.0 339.4,418.8 339.7,387.6 340.0,425.9 340.4,397.0 340.7,421.7 341.0,409.4 341.3,416.1 341.6,398.9 341.9,417.4 342.2,400.1 342.6,420.6 342.9,397.8 343.2,421.9 343.5,398.7 343.8,424.3 344.1,382.3 344.4,386.4 344.8,365.2 345.1,376.2 345.4,383.1 345.7,415.7 346.0,403.8 346.3,400.8 346.7,390.1 347.0,379.1 347.3,397.9 347.6,400.1 347.9,403.8 348.2,417.3 348.5,396.0 348.9,395.2 349.2,392.8 349.5,386.5 349.8,368.1 350.1,391.4 350.4,401.1 350.8,421.5 351.1,416.8 351.4,424.0 351.7,401.6 352.0,425.7 352.3,390.6 352.6,422.0 353.0,411.0 353.3,423.1 353.6,399.9 353.9,399.2 354.2,391.0 354.5,381.3 354.8,397.6 355.2,403.0 355.5,404.2 355.8,413.6 356.1,400.5 356.4,404.8 356.7,389.1 357.1,420.5 357.4,400.7 357.7,397.9 358.0,384.7 358.3,365.9 358.6,387.1 358.9,395.2 359.3,404.7 359.6,419.0 359.9,405.6 360.2,418.0 360.5,405.3 360.8,421.0 361.1,403.5 361.5,421.5 361.8,389.0 362.1,398.7 362.4,389.5 362.7,382.7 363.0,394.3 363.4,398.5 363.7,401.2 364.0,426.4 364.3,406.0 364.6,418.1 364.9,383.0 365.2,417.6 365.6,400.1 365.9,401.9 366.2,393.7 366.5,416.1 366.8,404.9 367.1,416.1 367.4,393.5 367.8,418.4 368.1,406.0 368.4,422.8 368.7,402.9 369.0,426.9 369.3,395.7 369.6,419.0 370.0,402.4 370.3,428.2 370.6,410.5 370.9,418.0 371.2,418.9 371.5,418.2 371.9,403.9 372.2,420.6 372.5,403.6 372.8,419.8 373.1,397.9 373.4,423.2 373.7,424.1 374.1,418.2 374.4,391.5 374.7,422.6 375.0,395.1 375.3,389.9 375.6,383.2 375.9,398.2 376.3,400.5 376.6,384.2 376.9,383.5 377.2,418.6 377.5,402.3 377.8,424.8 378.2,396.2 378.5,428.0 378.8,396.0 379.1,401.1 379.4,399.3 379.7,386.4 380.0,395.8 380.4,402.2 380.7,395.7 381.0,418.0 381.3,397.9 381.6,421.5 381.9,402.4 382.2,400.2 382.6,404.4 382.9,398.8 383.2,391.2 383.5,371.8 383.8,384.0 384.1,392.7 384.5,421.2 384.8,416.7 385.1,396.9 385.4,422.3 385.7,399.7 386.0,402.4 386.3,396.9 386.7,391.3 387.0,376.4 387.3,393.3 387.6,397.0 387.9,418.3 388.2,396.2 388.6,426.8 388.9,402.5 389.2,418.2 389.5,382.5 389.8,400.3 390.1,396.6 390.4,385.2 390.8,353.8 391.1,384.3 391.4,390.5 391.7,401.2 392.0,404.3 392.3,417.4 392.6,402.1 393.0,422.1 393.3,401.8 393.6,427.6 393.9,392.7 394.2,418.8 394.5,399.7 394.9,417.3 395.2,396.0 395.5,402.6 395.8,405.3 396.1,417.9 396.4,418.6 396.7,421.6 397.1,404.0 397.4,395.8 397.7,403.9 398.0,423.1" fill="none" stroke="#401675" stroke-width="1.75" stroke-linejoin="round"/>
<line x1="233.05" y1="332.0" x2="233.05" y2="436.59999999999997" stroke="#333333" stroke-width="1.5"/>
<line x1="232.75" y1="435.4" x2="405.35" y2="435.4" stroke="#222" stroke-width="2.65"/>
<line x1="228.85000000000002" y1="352.5" x2="233.05" y2="352.5" stroke="#333333" stroke-width="1.4"/>
<text x="225.95000000000002" y="357.45" text-anchor="end" class="a">3</text>
<line x1="228.85000000000002" y1="380.5" x2="233.05" y2="380.5" stroke="#333333" stroke-width="1.4"/>
<text x="225.95000000000002" y="385.45" text-anchor="end" class="a">2</text>
<line x1="228.85000000000002" y1="408.25" x2="233.05" y2="408.25" stroke="#333333" stroke-width="1.4"/>
<text x="225.95000000000002" y="413.2" text-anchor="end" class="a">1</text>
<line x1="240.50" y1="436.4" x2="240.50" y2="439.09999999999997" stroke="#333333" stroke-width="1.4"/>
<text x="240.50" y="451.2" text-anchor="middle" class="a">500</text>
<line x1="272.00" y1="436.4" x2="272.00" y2="439.09999999999997" stroke="#333333" stroke-width="1.4"/>
<text x="272.00" y="451.2" text-anchor="middle" class="a">600</text>
<line x1="303.50" y1="436.4" x2="303.50" y2="439.09999999999997" stroke="#333333" stroke-width="1.4"/>
<text x="303.50" y="451.2" text-anchor="middle" class="a">700</text>
<line x1="335.00" y1="436.4" x2="335.00" y2="439.09999999999997" stroke="#333333" stroke-width="1.4"/>
<text x="335.00" y="451.2" text-anchor="middle" class="a">800</text>
<line x1="366.50" y1="436.4" x2="366.50" y2="439.09999999999997" stroke="#333333" stroke-width="1.4"/>
<text x="366.50" y="451.2" text-anchor="middle" class="a">900</text>
<line x1="398.00" y1="436.4" x2="398.00" y2="439.09999999999997" stroke="#333333" stroke-width="1.4"/>
<text x="398.00" y="451.2" text-anchor="middle" class="a">1000</text>
<text x="319.20" y="325.0" text-anchor="middle" class="s">alpha[8]</text>
<text x="620.3" y="199.6" class="lt">chain</text>
<line x1="622.8" y1="220" x2="641.2" y2="220" stroke="#E25A14" stroke-width="1.6"/>
<text x="650.7" y="224.5" class="ll">1</text>
<line x1="622.8" y1="243" x2="641.2" y2="243" stroke="#998DC5" stroke-width="1.6"/>
<text x="650.7" y="247.5" class="ll">2</text>
<line x1="622.8" y1="266.1" x2="641.2" y2="266.1" stroke="#401675" stroke-width="1.6"/>
<text x="650.7" y="270.6" class="ll">3</text>
</svg>
</body></html>
